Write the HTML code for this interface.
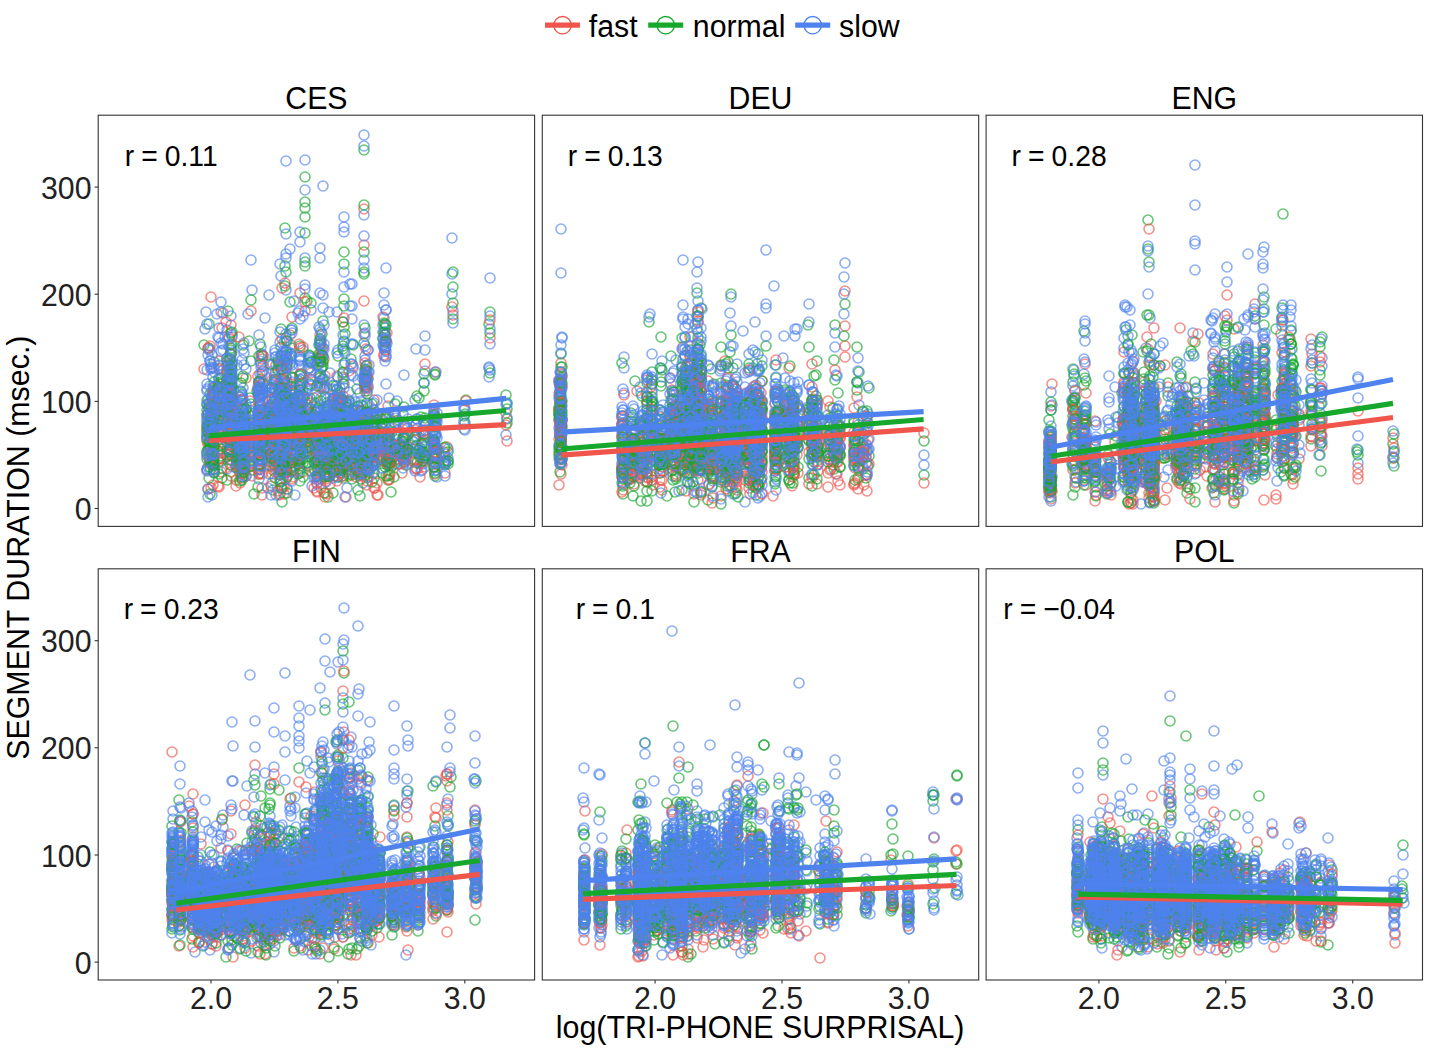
<!DOCTYPE html><html><head><meta charset="utf-8"><style>html,body{margin:0;padding:0;width:1429px;height:1053px;overflow:hidden;background:#fff}</style></head><body><svg width="1429" height="1053" viewBox="0 0 1429 1053" style="position:absolute;left:0;top:0">
<defs>
<marker id="mr" markerUnits="userSpaceOnUse" markerWidth="14" markerHeight="14" refX="7" refY="7" overflow="visible"><circle cx="7" cy="7" r="5.0" fill="none" stroke="#F0554C" stroke-opacity="0.65" stroke-width="1.6"/></marker>
<marker id="mg" markerUnits="userSpaceOnUse" markerWidth="14" markerHeight="14" refX="7" refY="7" overflow="visible"><circle cx="7" cy="7" r="5.0" fill="none" stroke="#16A82C" stroke-opacity="0.65" stroke-width="1.6"/></marker>
<marker id="mb" markerUnits="userSpaceOnUse" markerWidth="14" markerHeight="14" refX="7" refY="7" overflow="visible"><circle cx="7" cy="7" r="5.0" fill="none" stroke="#4E82EE" stroke-opacity="0.65" stroke-width="1.6"/></marker>
</defs>
<rect width="1429" height="1053" fill="#fff"/>
<text transform="translate(316.4,108.7) scale(1,1.045)" x="0" y="0" style="font-family:'Liberation Sans',sans-serif" font-size="30.3" text-anchor="middle" fill="#000">CES</text>
<clipPath id="cpCES"><rect x="98.2" y="115.2" width="436.4" height="411.2"/></clipPath>
<g clip-path="url(#cpCES)">
<path d="M282 488 287 400 340 397 400 447 273 432 292 416 259 414 259 453 298 416 330 438 358 452 232 363 326 420 335 462 272 437 386 341 374 400 290 335 280 494 367 442 363 456 362 417 219 461 281 391 349 476 287 450 286 350 237 406 214 457 321 488 435 372 324 458 280 439 231 472 341 463 261 355 352 430 367 440 353 439 353 439 259 416 318 473 283 429 388 476 303 420 214 426 275 375 294 470 424 431 367 478 260 405 242 478 300 429 280 399 231 403 311 380 368 440 279 405 231 476 230 431 340 443 272 474 259 427 273 410 218 441 263 371 287 439 221 458 307 424 223 313 336 413 343 439 231 425 321 479 391 458 327 418 361 447 434 445 293 428 405 454 394 461 273 440 367 481 339 450 213 411 367 439 243 433 444 452 259 460 283 436 299 448 307 418 366 380 237 458 334 404 326 481 372 466 423 452 367 427 318 456 240 457 297 425 287 440 320 428 321 459 303 347 280 437 240 473 446 460 307 427 259 407 236 424 230 414 365 391 356 477 282 430 250 455 434 455 281 416 281 408 283 424 259 419 260 448 279 438 398 454 374 488 278 423 435 467 281 420 261 452 262 424 367 437 321 343 361 424 260 443 283 454 329 435 385 350 368 378 342 465 259 432 262 495 259 417 342 457 260 449 342 443 326 461 230 453 207 470 299 413 349 457 232 420 281 421 227 424 390 474 287 389 363 449 259 402 434 446 219 395 324 444 299 429 211 488 452 307 212 417 453 315 278 440 258 447 334 427 210 460 406 436 262 424 389 434 333 421 371 436 279 447 258 468 400 452 339 437 318 450 402 457 387 441 271 412 384 355 294 466 408 428 287 463 415 430 229 339 242 437 388 464 292 446 229 337 340 459 300 453 352 449 293 461 236 480 326 423 368 434 362 473 222 442 300 422 227 451 246 476 351 444 330 415 284 473 287 382 293 417 284 422 382 451 282 472 209 450 243 425 279 419 259 440 318 438 262 417 396 447 260 431 219 487 286 437 259 433 342 425 222 468 282 463 334 439 284 424 334 399 303 442 304 433 362 410 355 451 388 406 281 429 262 488 326 449 242 421 243 466 385 350 284 457 317 492 424 434 395 412 361 457 303 398 214 437 286 466 333 473 363 427 343 403 232 431 279 465 230 449 284 379 204 369 244 432 338 467 222 384 230 437 281 412 284 494 365 379 281 432 359 470 364 209 280 417 287 368 324 441 240 424 298 464 260 405 336 462 382 461 374 449 275 422 293 442 283 409 219 421 210 446 387 333 244 466 275 436 279 474 380 456 259 460 294 441 361 473 342 453 271 462 283 465 243 422 207 441 210 434 213 485 283 396 287 388 243 459 292 449 334 449 425 467 353 464 341 447 352 455 259 451 343 437 213 416 287 416 311 373 300 387 286 425 362 446 262 359 389 417 314 470 231 405 300 403 251 433 246 378 243 461 260 444 243 431 272 428 355 462 237 445 272 443 292 391 374 462 357 451 363 451 258 461 338 443 299 459 325 376 404 448 243 452 260 473 251 311 380 458 272 400 286 440 339 452 259 395 398 448 324 424 303 428 353 366 314 398 434 459 360 428 307 421 284 424 243 440 352 452 243 437 434 445 221 472 300 410 445 473 242 434 252 442 298 446 244 448 214 472 252 476 339 453 260 381 275 397 340 414 382 444 385 439 392 460 402 473 232 429 251 442 303 383 326 467 243 413 231 445 222 431 340 465 299 435 367 464 312 449 307 405 362 465 300 446 346 457 314 455 336 459 232 442 321 437 275 456 251 442 406 460 218 434 287 423 271 412 343 447 321 473 361 460 342 420 218 421 259 395 251 446 324 359 275 451 344 384 320 450 278 468 333 425 280 475 433 443 330 484 363 430 321 427 293 422 298 414 251 452 281 444 320 451 275 469 207 426 361 475 294 425 377 458 324 493 288 446 299 461 365 375 490 338 321 456 327 436 240 444 326 466 362 440 283 469 207 430 311 442 293 402 229 410 273 430 260 465 337 376 300 438 321 419 236 437 270 406 349 434 278 446 355 416 269 461 273 470 320 335 222 328 259 439 212 454 214 436 251 439 317 491 365 385 368 386 342 439 282 442 390 463 282 442 240 434 404 462 230 360 314 434 374 455 287 430 300 416 339 439 280 398 341 415 275 449 364 334 299 419 353 457 434 454 362 464 275 412 231 325 258 461 361 460 284 433 317 477 359 445 318 471 343 447 437 418 279 455 218 439 299 415 278 430 371 452 237 449 243 446 242 449 368 441 300 456 425 430 282 459 285 434 300 432 251 456 281 442 230 433 315 452 227 381 336 438 352 466 270 425 369 473 374 473 339 447 368 417 251 460 278 491 357 446 317 428 230 410" fill="none" stroke="none" marker-start="url(#mr)" marker-mid="url(#mr)" marker-end="url(#mr)"/>
<path d="M242 449 260 431 227 372 230 376 300 452 228 365 274 380 390 441 270 457 326 474 342 438 357 447 218 446 373 422 258 417 210 394 434 441 339 397 342 446 262 440 318 458 293 429 251 466 343 433 232 412 321 368 308 466 422 443 314 419 300 430 212 452 368 434 448 452 241 440 383 339 227 389 360 448 343 434 360 413 209 408 240 468 299 439 420 448 208 400 243 436 339 445 310 398 236 450 259 432 209 427 373 454 303 456 262 426 259 431 340 454 226 386 293 428 342 469 262 460 287 365 328 497 303 396 240 397 465 423 342 437 287 428 242 461 333 458 299 438 367 429 363 428 281 436 315 429 262 355 281 456 284 410 281 428 506 395 371 431 241 461 232 332 300 462 288 408 340 443 374 445 273 452 251 464 230 390 237 468 339 450 368 446 415 440 404 454 287 425 361 450 219 412 386 460 294 412 286 468 283 430 339 426 358 468 315 447 336 413 320 341 361 449 397 436 368 453 287 459 357 452 274 464 374 425 207 459 230 449 251 458 465 414 367 436 284 459 309 368 221 419 435 456 244 462 287 402 378 441 287 409 242 451 251 439 385 436 301 374 434 444 327 409 387 455 415 448 292 431 286 421 284 388 417 445 338 448 250 453 362 443 261 379 378 442 242 394 270 418 377 428 251 440 288 405 405 462 357 432 252 470 281 432 287 432 343 478 324 389 219 462 290 302 270 393 292 471 342 427 231 348 363 448 343 415 273 444 214 469 293 436 300 376 252 453 231 398 214 391 231 428 343 384 404 458 317 450 284 407 218 421 231 410 333 493 416 425 311 437 353 418 292 419 300 375 218 407 270 466 340 449 380 451 287 424 343 372 334 420 294 444 219 396 339 447 284 442 218 402 352 423 284 441 263 443 231 345 212 398 323 379 244 416 355 446 347 439 300 473 347 417 357 410 365 371 367 436 232 386 281 406 274 382 242 463 283 435 294 433 227 387 319 361 425 458 209 324 292 348 390 465 362 467 388 452 404 460 219 409 386 451 260 436 421 417 287 398 307 426 343 476 317 447 207 410 284 381 353 449 349 421 244 445 214 424 260 412 214 403 367 442 387 461 242 442 208 426 334 447 394 457 260 445 329 423 335 449 326 464 286 459 371 435 294 438 315 460 213 394 221 378 218 451 435 448 308 438 240 415 319 345 231 408 388 447 231 373 421 453 355 432 242 409 327 412 284 431 362 449 388 480 259 435 345 363 342 421 298 432 367 466 272 417 228 412 294 399 222 478 292 456 231 350 258 487 358 432 340 473 340 443 368 436 227 427 326 447 273 430 303 463 343 373 328 415 425 452 310 356 299 458 282 463 213 452 398 420 275 446 367 448 231 419 227 410 292 454 273 490 272 404 292 390 219 433 249 341 358 452 278 448 351 359 363 439 358 456 204 345 326 465 209 478 281 466 337 454 227 436 414 453 315 403 355 450 341 412 298 438 356 439 300 346 330 425 214 459 317 437 307 463 286 460 230 404 389 475 338 443 229 372 355 443 367 435 327 428 346 403 259 410 336 437 383 442 237 453 374 440 282 462 334 444 221 428 282 366 423 452 219 403 259 447 292 435 327 403 339 439 317 476 278 394 330 449 287 421 287 415 324 443 262 389 237 467 300 408 212 452 490 312 219 415 244 442 262 394 436 427 318 408 278 452 360 411 284 435 364 274 435 471 374 453 300 413 222 399 352 475 352 459 212 412 259 441 251 432 218 386 251 430 367 470 260 466 231 390 286 422 284 453 338 356 346 411 262 434 279 418 279 421 315 421 360 418 406 465 281 405 349 401 242 432 310 435 336 439 340 455 353 461 259 474 280 391 230 395 395 445 389 443 232 344 305 208 281 438 273 436 242 436 367 428 273 417 326 433 384 323 232 379 365 382 336 454 230 438 294 404 213 393 284 380 367 391 293 392 385 328 321 461 327 462 362 419 287 435 232 406 259 435 288 437 311 403 259 437 327 417 318 476 314 433 343 453 389 451 307 301 489 324 303 395 361 405 330 465 322 334 368 424 244 408 237 448 230 428 298 431 279 463 283 433 343 377 324 436 340 429 311 471 219 433 368 414 326 463 300 408 305 177 388 463 374 478 335 435 284 437 434 462 328 415 230 403 209 348 367 466 311 429 298 428 283 459 243 461 284 412 328 422 344 252 363 452 229 418 340 432 311 436 349 450 237 431 294 424 258 447 259 464 243 345 214 422 355 443 281 445 228 311 274 417 221 384 335 451 391 492 242 419 343 451 333 414 276 381 305 298 361 464 251 453 273 435 337 390 242 431 262 383 287 363 270 448 231 418 232 428 423 459 222 411 260 465 342 427 340 448 466 400 281 396 326 462 362 475 369 445 292 407 287 489 213 422 278 430 214 362 281 425 280 401 283 431 281 482 229 386 210 442 349 433 281 450 338 398 389 453 209 430 299 381 325 420 325 493 293 438 281 414 448 461 237 462 214 464 250 398 407 449 274 459 284 424 237 443 368 447 307 451 339 446 294 445 434 456 343 428 243 447 272 424 403 441 294 402 335 464 261 420 210 430 259 441 286 408 385 417 363 427 343 425 251 429 334 421 424 383 230 434 507 419 374 465 368 431 293 438 435 476 281 427 358 443 444 448 218 410 377 449 365 379 259 382 352 410 292 453 221 449 243 438 360 431 281 347 286 272 300 481 403 446 366 387 419 398 385 348 349 402 269 414 210 442 365 381 273 435 434 427 435 374 343 467 387 465 240 421 236 427 231 416 229 414 286 472 367 413 272 388 237 454 286 338 311 362 232 439 300 430" fill="none" stroke="none" marker-start="url(#mg)" marker-mid="url(#mg)" marker-end="url(#mg)"/>
<path d="M293 411 365 383 300 416 327 459 351 344 242 427 222 434 231 437 347 488 282 353 330 476 241 391 321 433 295 495 284 399 211 463 280 432 279 364 244 427 214 414 221 395 330 373 312 422 283 383 300 417 405 426 327 422 214 429 208 349 252 444 318 454 280 404 404 459 330 460 346 402 219 338 292 467 287 420 321 419 368 424 211 450 275 433 363 406 311 436 242 360 275 393 415 469 385 344 299 439 262 354 386 268 281 434 317 358 404 444 272 385 349 400 347 414 350 284 361 401 374 450 303 350 230 396 453 311 396 418 437 477 260 427 285 443 326 429 383 338 281 419 244 444 282 419 333 398 389 450 388 444 321 347 281 466 343 442 365 360 404 452 252 415 374 423 280 418 272 483 283 441 365 376 352 459 321 431 284 439 345 353 384 345 403 454 419 434 299 443 275 373 300 232 299 390 258 395 327 411 210 386 422 470 232 352 213 377 367 444 344 379 364 215 321 420 465 430 400 446 489 368 435 417 281 467 210 361 318 365 335 470 246 476 404 437 324 439 257 436 294 393 323 308 291 330 209 433 230 385 299 423 392 451 259 413 356 441 365 383 300 399 214 472 344 287 362 416 299 365 437 438 339 425 339 399 284 412 207 391 425 430 318 438 287 408 251 435 280 427 300 383 318 435 389 398 339 432 237 420 373 458 211 419 298 397 327 443 287 445 445 461 315 412 350 419 368 462 300 438 227 388 294 416 368 452 286 341 300 379 245 456 337 405 365 356 367 438 323 356 380 442 424 442 338 395 241 423 425 446 298 432 292 414 251 454 337 438 299 401 343 443 240 406 404 427 368 443 278 434 368 464 275 412 358 440 287 441 339 424 424 425 436 421 242 449 367 444 244 439 395 464 229 452 349 417 388 413 327 439 283 369 230 410 298 447 326 464 275 435 318 443 338 400 374 403 326 450 287 418 218 405 344 272 212 398 242 474 363 438 275 454 251 442 213 460 324 408 383 345 259 421 367 381 325 433 397 401 206 312 251 461 390 452 310 431 404 425 293 425 414 442 280 440 291 345 378 458 276 418 326 462 374 411 243 388 287 358 383 325 281 480 286 290 292 388 287 461 218 337 404 459 292 408 362 437 362 420 374 418 340 471 214 469 346 407 317 443 260 436 298 417 287 419 273 364 279 409 275 414 346 467 270 454 384 305 349 429 406 457 242 401 317 397 445 476 320 478 371 453 214 416 437 413 229 445 244 343 340 414 241 425 385 424 227 469 282 430 387 417 416 349 506 435 327 429 338 454 251 422 230 430 273 443 395 415 231 381 220 432 287 415 293 432 328 420 284 432 344 351 262 394 343 401 374 452 284 395 207 370 303 431 298 400 240 456 343 442 352 458 310 368 386 340 280 342 284 457 373 454 262 413 271 422 230 459 260 386 242 432 361 437 237 422 207 469 259 447 287 453 242 440 259 394 464 421 355 435 272 417 260 399 263 356 227 358 244 365 293 449 258 390 329 467 305 190 223 344 364 325 286 445 338 424 221 351 415 449 262 429 280 469 222 414 300 361 214 394 489 377 276 357 240 462 275 411 318 455 285 417 338 442 403 414 244 415 367 442 326 452 251 260 298 425 320 418 377 413 320 359 259 462 209 404 275 379 292 330 280 417 372 446 242 395 334 476 312 486 327 430 299 416 236 442 259 391 363 483 383 429 489 367 353 427 278 359 357 422 268 488 351 375 336 458 372 463 252 290 339 431 207 415 293 436 231 397 261 419 333 399 237 462 326 457 244 353 349 450 214 445 364 135 287 452 284 472 244 441 340 451 300 357 365 374 368 350 285 407 353 446 244 443 280 396 271 460 340 450 290 364 367 417 333 389 434 442 251 438 284 398 286 452 320 361 340 419 435 425 213 441 423 456 363 454 305 160 435 470 344 388 357 439 333 478 230 354 221 312 336 416 424 447 269 295 275 353 436 436 425 459 232 413 243 477 237 451 237 365 281 423 347 444 273 438 259 438 339 422 424 383 219 365 273 418 237 444 340 402 434 442 434 417 340 392 252 430 398 430 273 453 258 441 260 410 317 484 251 407 230 400 242 446 421 471 281 447 231 366 273 439 298 416 404 464 259 429 339 422 262 410 210 425 381 450 283 402 213 428 227 457 324 417 394 414 295 390 378 431 299 415 241 420 243 399 231 442 208 417 230 398 355 411 309 357 315 477 227 383 324 437 334 452 259 407 305 289 352 306 292 428 325 452 205 329 251 444 208 467 260 397 416 436 212 441 207 324 317 412 367 394 207 454 307 388 395 456 231 402 241 417 300 357 282 439 260 430 210 361 374 461 292 427 212 495 424 455 213 413 225 337 362 436 362 452 287 437 242 429 342 470 333 434 260 450 311 409 214 440 293 428 219 383 284 446 338 401 246 422 334 413 404 462 281 428 259 447 287 447 324 431 357 451 383 416 329 434 292 365 327 452 310 358 242 432 243 451 242 430 407 448 229 360 286 417 207 436 303 415 212 416 284 382 232 335 445 454 437 422 444 462 318 444 213 439 318 383 271 454 213 411 353 435 283 394 275 389 270 442 261 364 242 437 465 409 349 472 363 430 397 435 286 359 349 404 373 460 368 379 415 400 395 436 322 387 293 368 214 419 273 459 281 431 390 462 309 360 281 455 425 435 386 310 298 430 281 471 360 442 214 463 230 393 307 413 303 418 320 386 421 463 365 346 365 369 374 437 327 454 358 458 415 460 281 407 298 313 258 450 342 418 311 428 327 452 362 473 229 455 294 398 273 422 303 393 436 464 284 449 259 414 352 467 321 355 320 376 338 350 227 404 367 453 260 374 230 449 291 356 242 448 260 442 292 472 240 453 278 395 275 442 242 424 433 441 369 463 374 451 339 422 303 428 275 377 336 445 358 406 251 424 452 274 346 459 372 447 221 406 230 408 367 445 445 461 327 451 362 442 280 264 435 435 320 421 300 437 369 372 464 410 351 458 284 384 271 365 385 347 355 421 242 454 337 312 290 249 217 314 240 421 303 414 207 421 361 443 286 435 212 465 365 387 320 342 434 412 361 470 214 470 286 411 231 413 273 413 368 372 445 457 434 416 362 435 320 329 262 452 436 434 303 453 334 412 338 402 251 447 317 438 282 429 281 417 327 408 318 408 334 456 330 464 339 438 425 371 310 447 286 436 343 420 286 378 232 443 281 406 300 428 298 434 210 421 360 393 317 480 327 447 270 435 423 464 383 332 272 445 300 446 275 414 408 419 275 411 285 393 323 357 357 435 445 463 286 408 362 434 283 395 261 347 210 422 242 405 338 435 237 437 282 404 280 460 284 452 265 318 294 443 243 437 292 333 321 463 231 367 327 440 374 431 213 412 279 436 318 422 227 366 285 367 232 337 434 444 293 438 434 409 262 374 281 442 284 389 307 463 300 425 231 423 364 260 349 411 363 379 242 447 295 432 259 421 452 294 385 347 308 369 464 407 211 369 280 430 363 473 385 332 361 412 327 411 365 388 284 342 218 419 229 398 219 425 214 431 219 368 311 385 339 460 231 431 278 394 271 426 307 415 299 420 300 432 349 392 445 465 284 424 337 427 303 438 242 399 374 433 275 446 417 453 258 431 435 432 280 475 362 420 353 368 326 450 237 446 243 439 367 449 208 355 212 399 286 479 305 258 242 400 404 436 387 343 213 429 351 364 210 417 384 318 330 428 334 434 259 459 286 420 260 423 318 436" fill="none" stroke="none" marker-start="url(#mb)" marker-mid="url(#mb)" marker-end="url(#mb)"/>
<path d="M364 245 343 459 294 440 466 401 388 452 294 445 287 472 270 450 276 365 229 409 386 439 386 341 212 453 244 454 244 470 398 423 340 460 415 440 282 426 434 449 287 382 292 384 355 448 293 409 270 390 346 438 279 410 287 427 343 434 506 425 211 297 507 441 373 455 300 455 337 463 327 457 242 465 231 397 298 428 272 399 273 447 357 463 317 451 368 443 246 453 260 382 258 387 367 439 241 419 367 427 244 441 218 417 403 451 361 429 386 447 337 459 211 409 372 448 260 444 339 436 231 354 327 465 318 461 214 388 374 447 280 448 367 461 211 437 314 488 320 387 219 369 231 394 273 432 357 453 325 497 231 426 287 466 280 445 261 454 317 483 371 446 251 440 262 429 377 495 251 416 279 461 330 425 263 421 337 481 344 318 365 363 367 447 208 348 229 402 214 429 241 453 342 476 281 428 214 429 281 458 300 348 435 452 269 432 339 431 389 480 259 470 284 462 280 447 240 434 213 392 300 374 320 362 368 441 327 494 294 419 367 376 340 440 231 426 373 426 231 435 284 446 282 370 208 489 350 425 303 426 259 390 346 461 367 467 435 463 384 356 434 405 366 388 279 439 333 401 244 458 355 467 380 458 349 452 263 356 327 455 400 464 287 415 337 470 259 449 281 379 293 477 210 437 241 467 447 447 352 434 292 424 219 436 417 469 260 415 300 443 294 452 292 317 307 411 377 455 242 472 381 428 210 430 208 414 324 460 259 432 360 423 417 460 385 335 242 466 250 401 272 433 327 444 436 453 237 422 227 428 294 459 315 416 252 448 218 486 273 411 214 446 490 320 311 379 244 417 232 396 284 487 284 415 244 447 305 302 327 388 364 301 396 436 287 442 398 451 423 432 339 440 298 460 237 465 342 469 285 283 242 445 398 464 434 414 355 441 397 459 208 444 315 441 241 448 361 438 220 403 274 430 214 411 284 468 343 431 303 433 336 438 287 463 389 434 275 472 363 457 352 467 311 445 416 468 210 405 226 322 321 353 287 427 219 388 227 370 363 416 251 442 251 429 327 475 244 473 330 452 262 436 281 441 367 461 227 455 284 453 214 414 282 288 284 462 322 350 327 474 320 456 343 451 231 410 355 463 280 449 336 457 386 443 388 462 340 414 425 364 239 337 414 462 292 479 338 411 349 444 282 429 403 446 330 435 363 467 349 465 337 458 300 399 373 413 304 423 284 360 434 444 377 415 360 476 283 437 219 361 360 455 368 451 230 454 230 393 324 442 300 440 213 455 299 436 328 464 231 424 337 400 214 395 242 445 241 400 284 440 300 293 373 452 420 477 326 467 346 497 292 451 258 376 222 399 272 456 377 483 237 460 389 479 227 439 317 439 280 429 315 452 275 419 260 451 278 416 293 419 282 424 275 460 259 423 375 488 250 429 398 445 346 455 280 415 259 424 383 460 315 438 330 440 343 396 272 435 263 366 241 438 275 461 307 442 367 438 259 389 325 463 231 411 317 450 298 416 356 427 303 435 341 468 349 371 280 422 251 452 390 452 285 404 383 317 436 448 286 429 340 455 236 465 272 432 349 445 506 413 336 476 366 349 209 458 299 344 279 445 338 457 260 438 367 485 213 401 330 433 262 456 342 473 259 434 346 436 326 479 221 423 222 399 258 453 305 311 282 400 282 339 357 468 230 451 435 474 282 488 221 453 387 463 299 455 434 448 230 412 259 439 287 434 303 415 219 459 407 452 287 450 271 486 367 365 321 469 437 459 337 399 272 466 259 453 284 420 281 441 262 474 259 435 260 440 311 428 390 454 281 366 275 454 293 462 259 438 275 450 371 457 287 428 275 419 353 439 343 424 337 406 273 448 311 413 326 477 258 446 231 404 287 414 326 441 333 437 218 459 367 419 350 452 381 446 357 471 307 433 374 449 241 468 279 495 214 401 251 439 222 387 361 411 281 432 246 469 210 464 226 438 229 432 343 322 363 431 287 437 236 486 349 445 210 346 232 436 374 443 317 459 365 385 271 405 240 483 403 439 214 425 275 435 366 372 339 420 423 435 378 495 385 453 307 399 273 419 320 429 392 446 360 443 300 430 298 404 425 461 244 469 272 452 371 439 343 446 279 470 299 395 261 419 357 439 303 472 259 474 244 422 292 422 271 408 214 425 355 474 227 428 284 443 232 422 434 452 243 469 388 464 327 432 244 446 214 407 329 441 227 381 230 389 352 443 213 446 300 409 258 469 232 465 385 451 210 427 284 444 435 448 299 406 311 429 327 454 353 433 231 406 287 476 434 448 342 441 243 468 315 447 259 459 373 462 251 463 231 394 218 399 374 428 334 451 275 437 237 450 374 457 420 464 272 380 275 454" fill="none" stroke="none" marker-start="url(#mr)" marker-mid="url(#mr)" marker-end="url(#mr)"/>
<path d="M309 355 315 470 299 450 287 437 389 437 324 461 371 453 344 306 284 408 218 420 292 455 230 452 325 430 219 402 254 494 208 450 507 423 395 404 214 421 358 407 242 418 360 496 352 463 270 430 360 453 314 462 325 443 437 449 367 471 227 379 367 446 240 450 343 416 371 445 207 439 320 358 403 442 300 441 385 467 329 435 383 432 242 469 303 459 367 463 251 423 328 447 343 422 292 408 212 443 242 444 244 451 507 403 283 415 334 471 281 329 314 429 319 354 392 466 242 448 212 422 453 287 353 345 345 334 382 424 342 400 298 418 292 460 281 369 305 202 260 434 334 417 310 384 337 456 361 429 278 362 221 456 352 445 287 423 259 382 208 424 367 427 339 453 352 447 363 451 327 436 208 433 338 426 303 437 258 444 365 328 259 447 293 409 273 438 300 425 300 412 326 469 214 448 464 416 242 422 364 150 214 436 426 455 283 456 338 452 363 456 307 434 214 473 281 457 299 420 357 453 213 461 275 412 218 389 293 399 305 262 361 429 300 386 337 447 328 461 363 433 298 435 423 461 231 387 246 416 308 433 368 449 212 423 425 425 207 404 260 455 287 440 231 374 259 465 231 415 232 365 349 444 367 441 288 439 293 429 311 362 287 493 357 431 275 439 303 416 292 395 408 435 307 434 243 410 231 381 284 430 212 406 303 477 303 453 242 424 207 431 287 477 352 446 343 426 326 444 293 434 352 479 325 452 251 432 424 391 240 433 364 272 362 467 299 411 318 464 371 446 242 458 386 476 231 397 275 455 300 411 300 390 244 469 419 454 242 441 242 477 258 433 328 406 344 327 434 467 343 442 285 286 221 411 214 446 284 440 344 299 403 438 305 217 404 438 366 370 339 409 287 399 287 341 221 445 262 445 287 444 425 418 366 366 284 463 358 438 321 443 242 464 320 345 292 420 305 233 222 421 336 430 361 479 240 456 453 272 445 447 280 415 280 399 363 460 357 447 230 427 445 464 259 356 338 456 209 407 241 424 218 424 337 449 390 447 280 459 219 408 320 378 231 368 231 333 286 416 363 464 259 382 317 442 281 440 300 452 343 349 303 434 251 447 382 419 349 454 327 444 218 387 317 460 327 439 318 445 404 407 210 449 259 420 338 456 448 461 435 473 241 383 270 407 330 444 282 440 362 440 242 432 300 418 388 443 346 435 347 430 390 463 213 424 405 438 240 458 275 461 358 460 240 425 284 395 270 454 317 434 389 458 285 228 273 417 242 445 241 443 389 430 244 428 237 421 315 419 417 463 322 355 281 453 372 482 240 416 231 377 218 394 260 438 231 431 251 404 298 461 407 450 270 433 211 425 320 339 274 407 355 445 395 448 358 490 435 419 507 409 209 442 311 434 308 446 281 469 260 344 273 417 434 440 245 464 284 461 424 434 279 439 246 409 229 406 334 425 232 456 355 442 298 396 386 419 358 439 221 382 260 439 281 426 257 391 246 409 280 481 453 319 213 441 407 449 326 431 324 442 394 477 270 364 425 456 292 328 259 444 292 463 392 432 317 467 260 418 326 441 210 461 434 467 244 472 286 356 287 470 448 464 360 472 300 405 307 452 212 439 231 354 325 475 272 429 325 397 307 416 211 417 213 460 329 421 229 397 272 388 287 434 490 373 367 437 260 455 222 406 260 436 251 466 327 464 362 452 346 457 385 324 227 480 281 424 283 464 227 361 334 458 300 427 219 474 281 432 287 423 281 356 327 476 294 424 415 437 340 470 338 461 244 448 300 451 281 488 364 205 251 435 353 458 292 444 260 438 419 450 287 428 385 342 339 457 364 252 300 443 305 266 299 431 422 445 349 474 273 413 300 406 282 502 424 374 209 426 435 375 434 415 214 465 433 441 395 449 284 424 384 333 300 466 322 367 307 409 317 386 230 460 434 459 219 397 374 428 364 343 272 416 291 354 211 424 259 447 374 422 281 447 262 423 285 398 275 478 339 454 280 447 287 428 271 458 340 452 232 378 336 386 237 436 281 419 321 401 281 420 214 382 343 346 337 443 349 432 230 388 287 419 278 370 317 445 273 434 282 415 343 468 371 414 386 325 408 450 403 447 303 424 314 415 367 432 232 370 287 436 343 442 417 396 299 450 330 447 344 342 299 427 251 300 243 458 374 461 349 443 404 454 236 443 281 420 339 420 237 424 382 438 371 456 243 421 349 417 231 400 343 322 382 473 282 387 357 389 240 449 363 449 385 335 287 425 280 388 329 428 374 465 490 333 339 451 355 446 213 465 280 422 307 448 357 454 434 457 321 362 227 409 366 378 303 449 333 451 339 469 387 462 346 466 240 481 342 434 318 420 400 453 243 378 251 361 230 450 270 417 285 266 210 467 453 303 311 433 340 416 270 433 377 420 241 448 242 480 210 494 388 436 259 436 372 404 343 450 287 410 344 264 210 426 334 454 282 447 271 439 237 458 333 386 347 469 258 450 259 459 346 407 212 422 327 432 378 433 368 412 208 413 420 457 338 477 286 404 339 414 219 379 327 467 367 403 363 424 311 418 231 421 327 437 338 428 407 453 311 303 244 453 352 457 326 424 207 451 369 436 244 451 325 477 342 424 232 389 323 321 287 403 230 465 275 417 323 362 281 471 283 428 367 446 333 420 315 463 322 380 292 377 337 428 259 455 339 403 298 474 339 447 323 366 230 440 243 433 259 430 395 448 358 423 279 403 229 451 282 418 314 445 207 427 270 448 242 425 342 421 436 426 343 454 327 446 336 443 230 359 293 378 243 376 318 410 300 469 329 476 326 437" fill="none" stroke="none" marker-start="url(#mg)" marker-mid="url(#mg)" marker-end="url(#mg)"/>
<path d="M352 453 260 437 283 374 207 423 271 495 295 431 374 424 299 440 339 433 273 405 273 454 339 432 251 420 368 414 292 456 346 442 311 370 346 428 382 448 303 426 311 386 384 293 271 392 208 427 244 450 357 438 227 395 207 456 212 368 317 449 299 421 275 388 343 444 287 437 230 372 384 348 230 451 433 432 358 431 422 456 243 349 490 344 336 421 221 407 310 452 282 442 287 352 244 425 434 448 321 340 229 346 242 452 434 430 363 418 274 390 377 447 294 390 261 390 241 431 374 416 232 382 362 421 281 420 338 432 366 373 421 431 281 427 208 489 371 425 286 234 434 439 287 429 425 421 237 415 210 409 292 450 300 424 287 395 274 409 246 369 288 413 259 383 320 453 334 450 280 426 207 434 281 413 271 405 415 471 343 445 325 431 246 404 343 421 341 453 281 467 269 452 335 419 373 453 346 449 276 495 259 410 318 416 211 453 320 459 506 404 219 392 317 428 333 448 403 457 372 448 350 417 279 384 318 442 207 437 231 403 299 457 317 430 364 146 333 385 319 327 280 406 434 445 287 361 270 428 357 474 374 449 352 423 435 446 364 236 347 405 355 430 434 414 284 439 358 427 333 399 244 434 299 395 242 411 350 414 218 393 321 398 333 429 273 402 355 444 367 468 338 377 329 413 326 482 210 415 327 399 340 403 307 429 330 416 286 352 311 310 258 413 280 453 242 467 357 448 241 403 207 471 358 453 207 389 221 434 214 387 386 432 490 370 273 422 260 361 339 425 246 432 284 418 369 414 283 415 396 453 325 426 386 384 223 350 300 359 320 381 320 248 437 470 367 439 350 427 371 420 275 438 340 427 212 415 260 420 367 405 334 423 241 392 251 411 213 454 340 409 329 312 294 446 394 447 229 401 227 411 210 427 222 371 434 456 260 459 385 340 240 434 299 471 284 385 236 468 211 364 300 417 336 429 292 439 490 316 294 423 286 440 342 463 405 425 452 238 417 451 283 422 260 423 281 472 338 410 324 325 286 464 352 422 242 431 258 413 311 427 300 423 403 468 286 368 434 449 386 346 365 336 362 437 324 344 357 422 260 466 231 371 303 428 281 456 284 427 275 357 227 382 321 453 358 380 343 428 232 436 230 391 212 412 222 405 311 409 219 401 351 429 258 389 308 362 244 460 219 395 213 455 367 425 284 390 241 439 246 421 385 361 290 358 355 416 436 446 344 217 367 422 300 406 300 360 390 428 374 447 230 426 232 400 315 424 258 460 271 409 292 404 307 430 318 438 218 418 275 436 304 397 231 404 207 453 286 376 227 330 242 436 259 427 229 399 284 362 273 393 403 458 464 429 352 364 244 440 448 449 232 421 320 443 294 412 259 439 273 461 339 441 416 447 236 436 286 357 227 359 269 474 260 390 333 401 507 404 395 413 342 418 244 432 300 426 323 295 314 431 344 227 270 421 334 424 280 406 259 335 227 441 299 311 330 389 347 404 391 446 344 341 507 418 287 415 257 446 330 443 230 426 281 276 434 421 389 439 358 439 237 439 260 459 327 425 259 412 448 458 211 367 283 451 279 409 420 453 311 421 262 411 340 399 243 462 210 350 327 437 350 424 282 473 242 448 281 448 386 423 292 419 385 335 353 414 227 405 402 445 337 431 299 416 242 429 365 377 300 399 220 389 353 472 307 433 229 405 244 466 251 454 371 468 435 419 230 368 355 421 241 447 246 445 314 478 311 363 305 285 352 425 339 427 417 419 213 431 248 314 219 328 246 426 284 363 218 409 405 439 325 410 325 413 337 389 299 428 292 414 425 350 211 436 263 393 221 397 490 329 327 431 246 439 232 375 404 375 252 447 368 469 280 402 232 403 292 405 210 455 374 464 260 388 290 353 230 391 259 442 275 436 368 388 327 430 285 445 374 465 339 420 294 432 343 422 287 432 321 412 214 431 210 402 231 373 229 395 377 400 219 426 398 451 262 387 287 428 237 463 260 431 242 447 284 422 261 367 336 472 293 395 369 365 424 422 242 445 315 416 260 444 281 459 228 393 320 344 292 481 292 419 272 406 353 423 286 435 338 457 214 435 356 423 219 402 275 416 221 302 243 451 207 415 229 382 294 418 416 424 284 408 286 254 356 452 312 381 374 472 259 447 281 355 464 424 259 393 369 470 242 396 280 430 436 463 386 357 328 475 320 374 281 419 258 456 237 432 243 426 213 410 242 431 340 430 227 430 334 432 273 371 300 453 237 421 213 387 326 427 344 232 275 427 303 316 292 407 356 433 338 477 260 458 315 432 251 462 280 409 210 409 334 423 337 436 298 419 337 353 365 333 244 476 208 497 283 398 389 434 300 444 275 350 286 258 280 422 260 387 343 440 252 428 236 423 326 456 214 372 363 439 340 425 212 355 261 466 242 430 355 461 286 161 281 454 314 410 242 407 251 457 340 447 324 453 324 349 374 455 287 409 368 477 343 445 288 455 314 434 352 319 321 449 300 319 388 447 213 401 260 449 340 388 327 428 367 431 374 410 232 363 262 406 330 436 278 457 334 417 292 382 299 438 279 431 385 339 324 423 284 398 321 332 207 384 227 419 286 351 342 430 230 400 344 365 368 350 364 268 298 398 436 456 280 332 365 380 284 444 301 420 362 468 371 440 382 445 334 407 274 443 328 415 219 403 434 430 293 407 271 388 286 334 365 378 320 258 405 455 260 392 435 422 382 468 361 428 222 417 229 392 365 375 403 429 367 383 436 372 252 441 287 419 287 398 303 455 417 419 362 421 240 448 353 427 300 242 258 441 490 278 210 424 350 306 353 448 357 433 437 454 318 474 244 468 280 410 362 441 367 449 339 443 337 416 278 409 324 416 352 466 262 389 386 356 278 435 389 453 323 186 353 344 303 378 343 422 275 400 219 378 324 379 345 497 230 377 301 380 338 402 272 413 281 412 274 383 303 414 299 395 232 443 349 428 280 400 287 489 320 293 207 400 382 444 291 356 317 476 311 419 260 396 280 423 367 455 260 400 418 428 349 458 303 405 258 433 300 400 366 372 365 375 342 430 362 461 272 412 260 419 284 429 445 464 346 461 378 448 292 452 294 409 367 448 435 463 307 432 324 445 425 336 377 441 352 284 323 348 387 457 231 418 207 418 308 399 237 429 240 415 325 387 298 405 386 351 373 463 351 451 374 448 349 425 299 419 335 398 307 446 343 335 278 405 314 428 242 443 327 406 294 447 286 428 232 412 272 449 368 454 231 382 244 433 327 410 259 479 275 443 287 437 232 377 346 459 260 440 398 443 368 444 214 368 321 383 371 439 242 419 214 440 227 418 219 404 300 451 326 408 244 438 300 439 210 470 324 456 426 449 272 426 222 390 241 419 328 451 219 390 353 376 214 454 260 435 453 323 286 414 299 448 394 423 242 430 251 449 243 446 361 467 221 343 377 445 251 413 300 424 250 423 231 412 434 444 243 431 300 406 326 447 320 375 219 366 356 437 230 371 212 398 294 301 282 356 317 464 230 428 231 316 260 439 293 434 287 427 260 469 317 365 281 360 243 443 260 426 361 450 213 416 258 414 349 444 357 410 241 415 252 437 263 383 386 310 262 372 207 405 212 392 273 444 211 428 241 414 259 429 229 414 212 438 327 472 355 402 385 439 284 427 287 428 287 408 213 403 326 436 262 395 361 450 307 391 342 444 353 414 240 453 333 459 231 359 262 395 327 422" fill="none" stroke="none" marker-start="url(#mb)" marker-mid="url(#mb)" marker-end="url(#mb)"/>
</g>
<line x1="209" y1="440.5" x2="506.2" y2="424.7" stroke="#F0554C" stroke-width="5.2"/>
<line x1="209" y1="435.8" x2="506.2" y2="410.5" stroke="#16A82C" stroke-width="5.2"/>
<line x1="209" y1="427.5" x2="506.2" y2="398.4" stroke="#4E82EE" stroke-width="5.2"/>
<rect x="98.2" y="115.2" width="436.4" height="411.2" fill="none" stroke="#333" stroke-width="1.1"/>
<text transform="translate(171.2,165.6) scale(1,1.045)" x="0" y="0" style="font-family:'Liberation Sans',sans-serif" font-size="28.3" text-anchor="middle" fill="#000">r<tspan dx="7">=</tspan><tspan dx="7">0.11</tspan></text>
<line x1="94.6" y1="508.5" x2="98.2" y2="508.5" stroke="#333" stroke-width="1.1"/>
<text transform="translate(91.5,520.1) scale(1,1.045)" x="0" y="0" style="font-family:'Liberation Sans',sans-serif" font-size="30.3" text-anchor="end" fill="#222">0</text>
<line x1="94.6" y1="401.4" x2="98.2" y2="401.4" stroke="#333" stroke-width="1.1"/>
<text transform="translate(91.5,413.0) scale(1,1.045)" x="0" y="0" style="font-family:'Liberation Sans',sans-serif" font-size="30.3" text-anchor="end" fill="#222">100</text>
<line x1="94.6" y1="294.2" x2="98.2" y2="294.2" stroke="#333" stroke-width="1.1"/>
<text transform="translate(91.5,305.8) scale(1,1.045)" x="0" y="0" style="font-family:'Liberation Sans',sans-serif" font-size="30.3" text-anchor="end" fill="#222">200</text>
<line x1="94.6" y1="187.1" x2="98.2" y2="187.1" stroke="#333" stroke-width="1.1"/>
<text transform="translate(91.5,198.7) scale(1,1.045)" x="0" y="0" style="font-family:'Liberation Sans',sans-serif" font-size="30.3" text-anchor="end" fill="#222">300</text>
<text transform="translate(760.5,108.7) scale(1,1.045)" x="0" y="0" style="font-family:'Liberation Sans',sans-serif" font-size="30.3" text-anchor="middle" fill="#000">DEU</text>
<clipPath id="cpDEU"><rect x="542.3" y="115.2" width="436.4" height="411.2"/></clipPath>
<g clip-path="url(#cpDEU)">
<path d="M736 475 721 430 775 404 694 432 726 409 745 432 858 489 732 471 685 415 755 420 817 445 628 463 749 439 868 440 758 422 640 457 736 409 727 454 683 456 698 450 641 473 725 472 694 494 845 326 675 435 694 425 829 459 694 391 631 479 721 456 708 469 642 467 749 445 775 452 685 453 755 451 677 441 647 482 755 442 737 420 687 424 641 441 830 470 798 422 690 416 671 471 683 417 762 429 775 444 728 437 786 395 855 460 698 343 701 464 677 426 854 432 745 426 840 455 758 412 652 477 701 420 728 440 690 470 812 424 759 420 622 471 793 405 690 443 701 495 814 449 623 460 725 361 674 395 858 457 749 477 830 449 641 442 687 436 749 488 794 418 697 461 652 441 845 357 725 453 789 431 725 456 670 378 560 432 755 466 687 390 663 459 834 454 714 457 737 455 671 419 728 449 864 447 731 414 863 456 725 429 813 399 673 460 840 426 791 463 754 438 694 403 755 445 635 429 776 360 683 444 834 462 779 462 753 459 701 390 713 450 687 387 790 445 701 415 726 396 634 459 775 434 736 405 857 397 647 457 758 455 746 439 812 400 725 462 733 425 701 378 701 445 559 380 750 429 792 457 855 483 759 485 694 457 756 439 728 433 732 424 687 384 660 435 732 431 562 420 561 363 561 432 733 468 623 490 708 467 733 463 635 449 562 420 755 455 755 419 676 405 725 430 683 418 690 430 753 425 721 438 789 421 698 360 818 453 622 466 623 451 562 425 809 426 828 455 561 474 721 478 640 427 775 423 685 446 701 426 685 429 733 452 687 445 701 431 660 449 776 459 793 450 864 430 732 434 690 357 725 412 713 440 793 468 791 447 623 459 746 459 728 432 622 469 697 450 733 457 721 366 701 440 762 442 737 443 663 442 562 377 758 457 671 432 713 441 690 398 755 450 721 432 730 418 776 460 694 427 858 461 713 448 730 415 745 440 713 459 688 465 727 429 834 449 854 453 789 421 775 471 637 391 737 401 622 477 855 456 673 447 698 388 775 418 641 443 690 337 750 427 775 441 750 434 752 390 660 457 561 442 685 461 628 475 560 458 733 416 712 503 749 435 730 425 854 484 708 381 762 381 730 467 775 420 623 469 755 448 867 445 755 436 737 428 726 458 671 464 749 454 818 452 687 418 745 425 647 397 753 429 737 472 854 485 759 419 745 467 663 458 728 437 683 347 674 463 686 491 671 435 746 441 560 380 647 446 735 451 641 466 736 473 749 480 797 443 722 469 561 437 813 432 652 441 643 436 828 401 752 424 662 453 623 453 660 487 561 423 726 418 753 467 688 442 694 454 686 374 830 407 869 464 662 490 698 434 690 457 733 426 642 472 733 460 792 433 775 391 837 450 838 437 674 436 663 471 785 412 690 413 785 435 725 450 695 422 713 476 720 409 789 448 858 432 858 466 754 440 712 476 755 473 793 433 789 430 725 482 759 454 651 387 778 402 675 423 561 408 685 391 695 455 713 469 755 450 701 458 754 408 752 452 709 454 652 402 797 443 773 496 662 451 559 409 745 465 756 461 652 434 748 428 694 393 730 430 753 455 673 413 690 355 709 455 694 419 789 404 733 449 622 448 750 420 750 425 750 465 814 435 694 389 733 447 840 430 708 461 628 457 754 466 759 467 745 448 693 407 834 448 686 439 757 394 732 452 829 427 758 452 863 440 749 438 812 444 733 444 746 469 840 485 733 410 560 391 753 417 633 447 793 445 755 434 701 458 687 446 755 475 685 412 559 485 676 423 647 392 866 475 840 427 623 464 709 449 640 448 697 417 828 433 779 430 713 455 762 472 745 434 559 439 755 411 690 404 635 456 749 403 721 436 687 434 817 404 863 447 750 413 560 448 713 443 735 428 750 420 561 443 837 462 733 430 746 459 676 426 794 398 812 443 561 407 697 378 687 399 730 450 725 438 794 474 792 434 725 445 752 422 755 434 660 473 690 406 691 401 561 430 759 433 733 435 812 442 697 407 759 442 688 429 755 471 833 465 672 390 622 425 673 431 662 451 858 462 701 440 690 391 647 454 648 419 792 416 721 451 652 384 647 380 642 456 700 452 812 415 622 468 745 427 682 418 674 443 746 420 798 473 776 442 812 416 720 442 749 434 733 439 676 455 652 424 814 448 698 412 733 423 673 399 694 401 745 418 698 411 623 467 722 443 775 419 687 445 712 430 733 424 838 462 761 481 694 470 686 378 560 460 775 461 750 463 623 458 701 463 761 400 778 437 775 442 677 433 754 419 759 434 845 291 755 440 791 439 759 401 775 456 753 469 750 494 737 447 560 417 694 439 756 445 722 438 694 396 737 435 735 425 813 437 817 484 759 451 792 486 828 473 634 484 730 450 685 356 812 421 709 404 754 440 775 450 759 439 685 375 755 441 730 473 759 470 725 468 748 464 673 418" fill="none" stroke="none" marker-start="url(#mr)" marker-mid="url(#mr)" marker-end="url(#mr)"/>
<path d="M631 413 786 432 632 465 834 360 677 409 746 457 697 407 622 416 721 347 642 429 688 396 701 407 758 436 758 409 694 393 778 456 814 431 790 438 633 496 816 396 736 409 791 418 687 406 837 430 675 444 698 452 690 473 701 401 836 444 750 478 755 427 694 422 635 443 640 452 663 427 697 425 660 441 790 438 660 473 749 410 792 411 790 472 756 389 709 422 746 438 560 418 694 415 674 414 789 480 694 464 756 475 728 368 778 431 676 430 561 421 697 389 676 479 762 409 762 430 722 480 673 445 647 437 674 446 775 445 688 422 776 398 726 471 701 380 673 411 830 453 560 386 721 421 776 378 725 409 737 453 725 414 756 439 634 446 749 424 683 469 682 461 753 416 660 441 854 440 708 439 693 420 698 461 749 483 560 395 560 445 643 471 749 453 809 430 759 472 697 386 727 454 721 383 663 464 736 440 759 370 698 380 762 451 737 442 775 468 712 474 652 380 697 316 652 407 660 410 682 454 728 404 778 447 818 452 647 501 727 417 561 432 750 402 735 479 869 456 671 436 834 469 675 412 675 450 560 396 713 425 685 458 701 391 778 436 701 391 694 454 753 481 698 473 622 470 775 432 748 450 725 478 761 407 709 413 690 382 809 409 789 445 732 452 709 425 730 455 813 453 730 398 727 434 812 433 840 434 694 430 701 431 640 464 814 401 623 486 682 429 746 411 683 399 794 448 829 424 725 429 647 383 779 452 754 423 690 423 726 436 859 470 694 448 687 430 727 405 754 451 694 502 652 421 721 447 735 441 708 444 737 414 682 440 859 448 652 428 694 392 694 431 713 436 756 486 758 429 759 465 690 440 690 390 561 406 854 423 755 477 726 429 663 441 721 461 737 432 667 496 713 462 708 395 813 407 757 455 688 468 798 467 750 481 785 392 734 441 761 405 755 411 633 458 812 401 561 440 560 384 701 428 690 422 640 421 712 476 631 448 697 385 733 396 632 446 816 443 663 439 818 446 660 461 559 408 758 401 793 449 817 449 560 436 694 437 753 408 697 293 698 424 635 430 682 433 632 476 816 375 789 444 701 370 561 367 661 386 685 385 761 420 785 419 733 435 700 460 745 411 622 483 748 435 721 402 687 397 814 462 728 387 700 443 725 415 629 454 755 457 776 435 560 422 562 367 755 445 756 444 814 430 730 456 682 490 789 424 721 446 709 405 701 421 725 418 834 448 648 416 697 464 728 491 745 430 635 465 736 396 687 432 709 452 817 453 647 444 728 443 761 462 701 435 623 457 560 435 745 463 694 435 647 452 749 429 731 294 653 404 816 424 789 425 817 361 745 417 701 407 628 480 738 420 647 431 792 413 622 426 755 436 652 384 663 446 830 418 753 479 775 482 560 424 725 442 701 373 683 422 793 448 694 442 785 413 749 444 701 437 727 486 834 455 651 415 623 423 735 443 733 368 857 347 623 450 736 414 759 468 694 393 693 398 775 458 745 420 698 338 762 381 698 397 776 458 809 478 694 391 794 475 712 420 726 385 698 386 698 429 652 411 632 454 745 457 794 452 834 416 732 413 809 425 785 430 701 470 726 436 855 443 652 462 814 376 730 419 690 437 661 337 640 422 737 403 694 442 748 433 671 437 790 453 755 426 854 450 785 463 562 415 818 447 660 462 858 435 745 434 633 439 776 365 733 423 682 456 863 412 813 427 634 430 854 461 653 465 560 458 816 415 701 308 633 424 662 452 722 477 660 446 738 442 721 365 756 434 560 398 676 441 721 482 623 494 790 392 858 478 648 448 867 411 647 410 659 457 736 493 708 500 730 479 697 417 776 413 652 452 789 417 671 438 562 401 733 466 709 457 700 345 711 369 794 451 778 414 622 437 660 455 737 462 829 439 788 417 662 457 701 417 698 427 714 384 649 322 794 411 652 372 834 453 697 436 924 475 753 435 622 450 745 441 818 454 623 456 676 466 671 356 725 404 813 433 671 465 749 453 730 352 745 434 733 428 753 430 725 440 561 392 670 440 746 436 817 408 738 463 778 392 728 362 749 453 632 442 673 392 701 383 694 467 670 409 750 442 682 470 775 421 721 458 660 454 797 424 775 421 712 424 759 427 643 452 735 401 790 441 670 462 789 473 749 396 682 367 750 446 798 418 758 485 762 408 648 443 798 429 776 417 702 454 701 396 683 359 652 454 660 452 733 478 775 433 756 462 789 480 690 430 674 436 778 415 809 408 750 457 855 480 622 468 721 441 623 452 725 450 631 457 758 485 659 446 697 437 864 449 857 382 757 438 697 448 685 448 673 448 647 401 660 439 709 431 634 442 640 453 663 454 794 434 725 428 759 429 726 388 749 368 809 441 714 470 690 409 858 431 757 446 725 456 863 453 755 466 685 435 677 453 753 486 697 449 755 432 813 465 708 447 732 464 562 459 561 396 756 488 701 430 697 428 687 474 712 427 721 437 776 445 730 441 838 449 687 420 737 475 561 378 690 437 690 432 642 396 726 436 687 387 675 492 809 425 712 455 652 439 793 443 712 451 776 433 688 473 694 447 632 417 676 443 687 437 731 335 778 411 762 441 713 446 701 419 794 462 728 433 776 412 694 434 756 495 731 460 633 448 698 449 722 452 561 437 560 408 794 406 701 405 683 436 700 436 697 329 561 410" fill="none" stroke="none" marker-start="url(#mg)" marker-mid="url(#mg)" marker-end="url(#mg)"/>
<path d="M814 444 867 451 694 390 737 441 727 399 818 426 685 418 776 377 733 463 760 496 694 422 733 454 713 434 724 387 808 407 737 405 834 430 561 420 701 442 682 434 854 446 812 421 758 447 733 442 845 263 755 450 721 465 560 436 779 416 854 455 833 454 662 361 833 448 794 448 635 430 759 434 698 310 660 424 730 313 690 451 635 472 698 374 712 452 760 383 640 427 633 406 642 415 701 337 643 416 562 375 690 435 775 445 662 377 814 409 713 455 694 356 633 441 650 314 674 371 685 405 560 411 778 389 859 434 755 430 674 452 840 448 712 416 863 416 631 451 776 432 672 391 814 439 561 433 813 392 640 478 775 464 701 428 690 417 673 407 758 371 733 459 748 464 736 417 733 449 675 413 721 445 662 429 789 470 761 413 634 409 756 388 648 377 560 434 776 479 698 350 726 437 736 401 560 420 726 445 647 463 736 429 688 440 775 454 640 457 833 440 775 403 701 382 623 429 647 430 732 460 561 409 837 448 622 434 661 493 631 464 697 344 818 428 701 399 559 420 702 440 838 409 673 446 867 416 721 420 674 413 701 400 778 419 759 447 725 425 709 396 698 396 697 429 683 260 683 398 758 415 750 439 775 477 779 394 759 369 686 410 690 441 867 432 727 389 701 422 662 438 713 468 759 455 759 429 794 441 561 389 727 379 687 417 708 365 756 447 560 416 866 457 644 438 694 456 561 463 736 396 758 478 713 448 697 440 755 468 792 427 697 417 755 401 735 407 745 395 674 454 835 347 624 357 721 450 775 439 794 449 698 360 651 379 697 288 701 379 647 447 673 373 673 407 728 466 662 438 755 443 855 463 561 384 752 404 750 396 721 457 560 411 778 438 675 441 694 383 794 425 683 319 753 387 775 452 758 470 761 417 790 391 866 445 863 469 642 424 682 373 836 375 690 449 775 397 670 394 701 378 817 439 750 457 690 383 733 448 732 386 622 472 793 401 695 375 714 453 712 440 779 424 753 368 698 467 762 443 838 441 688 450 756 447 560 426 749 415 702 309 758 498 734 449 745 408 697 416 673 462 648 451 737 407 674 406 757 471 560 386 834 446 738 438 652 354 793 435 749 439 721 420 663 467 745 423 622 424 762 420 794 431 697 366 814 417 648 452 863 445 756 371 663 457 652 402 778 447 733 424 647 413 790 461 709 427 687 391 562 420 674 453 660 469 745 387 750 460 698 310 863 467 701 410 746 393 733 384 687 427 675 438 727 411 713 448 758 412 867 418 792 437 674 457 663 422 730 410 733 386 725 434 697 462 736 395 777 457 709 413 721 459 702 434 693 435 792 436 786 437 737 397 785 425 753 397 660 410 758 462 631 419 755 456 766 308 730 420 648 458 643 452 735 397 817 412 682 375 713 481 690 372 776 443 728 431 624 435 790 437 691 380 687 431 737 451 863 456 633 438 722 443 694 399 755 414 722 465 687 433 840 420 735 407 561 425 735 459 753 448 720 413 701 369 738 475 698 332 687 428 660 368 759 487 651 419 727 446 745 502 735 379 701 422 732 429 733 446 685 400 701 403 721 394 670 415 698 317 622 407 663 472 724 460 662 448 734 408 701 402 647 460 759 439 687 463 694 491 867 463 652 433 561 386 737 364 693 442 701 374 830 425 712 445 633 415 775 457 698 427 647 443 634 447 721 400 685 465 713 452 732 427 662 463 836 439 766 250 698 411 702 419 864 455 725 467 733 439 623 410 652 390 713 465 698 350 701 389 812 421 690 383 837 438 749 438 686 419 793 418 785 401 633 467 736 377 792 462 561 437 726 404 714 392 635 425 840 448 753 449 721 431 701 427 674 430 660 410 640 466 647 409 812 404 673 476 828 415 731 297 633 455 794 436 736 389 746 465 694 486 844 277 829 435 561 417 686 444 701 406 728 424 690 346 631 457 756 455 698 415 674 414 762 420 701 465 709 445 754 437 674 429 738 460 749 480 701 359 713 465 698 349 701 428 798 382 812 475 633 465 778 390 647 430 728 424 734 423 725 456 690 417 720 371 737 424 671 432 812 458 732 397 697 428 735 459 670 424 737 452 813 411 837 459 676 429 737 459 674 445 792 411 712 469 789 398 682 438 652 420 759 465 728 387 858 383 837 423 836 474 701 362 756 385 623 429 797 422 736 400 685 414 753 430 713 441 859 431 690 439 759 443 749 415 736 410 713 424 774 286 855 450 828 440 670 378 753 493 830 426 721 463 794 401 743 331 868 450 721 480 855 445 864 446 560 401 632 463 685 452 748 372 722 444 698 432 652 423 652 456 734 429 721 434 622 413 712 386 759 451 559 398 817 465 754 443 756 425 628 449 652 430 652 433 662 436 648 430 788 402 725 455 736 429 624 368 738 474 868 414 671 384 779 425 560 450 792 444 722 451 628 444 698 424 837 424 688 441 652 480 809 412 750 398 640 426 698 381 642 415 749 425 792 421 814 429 694 415 709 433 560 429 663 433 755 407 709 437 701 341 631 478 775 471 736 459 776 468 794 417 790 454 685 379 709 485 735 461 840 425 698 454 560 464 721 475 647 427 746 442 685 404 753 480 644 470 726 454 798 434 735 403 694 389 755 439 628 438 858 358 671 452 652 427 750 422 750 445 798 447 648 434 859 456 561 408 676 423 562 434 623 435 733 472 694 407 685 327 561 401 662 423 698 380 698 384 795 329 713 405 560 394 797 389 561 430 834 437 721 437 640 439 756 446 562 388 713 387 859 467 837 376 755 419 728 438 721 450 775 420 628 421 561 422 623 484 762 413 794 411 757 364 687 392 838 448 663 439 685 399 652 426 790 444 561 440 815 429 749 410 775 384 676 440 624 393 560 402 712 486 685 349 622 457 560 421 778 402 685 337 701 434 812 474 622 446 634 430 701 415 663 444 737 439 749 414 720 413 662 444 736 425 623 478 790 381 924 455 697 470 797 426 701 410 701 390 762 493 623 474 694 409 866 450 698 420 712 446 698 323 670 437 694 469 694 407 686 456 809 385 685 356 561 380 562 447 748 444 755 436 713 464 775 412 834 440 761 444 713 463 730 430 693 456 776 462 727 448 721 398 756 444 730 435 663 405 775 449 701 392 629 457 830 425 839 406 721 449 647 396 759 459 818 420 652 455 785 431 736 420 731 415 777 401 694 445 754 443 733 460 685 420 776 419 628 480 750 393 789 416 560 415 713 434 690 390 755 456 775 365 687 451 682 395 748 399 712 464 750 450 701 491 701 408 756 447 622 430 685 431 698 380 730 431 814 450 701 396 727 402 698 355 701 381 838 453 623 457 745 415 673 438 687 441" fill="none" stroke="none" marker-start="url(#mb)" marker-mid="url(#mb)" marker-end="url(#mb)"/>
<path d="M752 453 859 454 712 444 794 474 624 395 642 475 755 453 737 451 748 459 813 405 924 483 698 398 762 418 673 451 730 478 733 418 702 416 755 386 789 368 677 420 693 416 693 436 753 407 725 473 698 480 652 452 797 455 809 432 559 394 793 415 693 371 858 480 759 425 838 481 745 467 652 411 829 438 727 445 745 480 676 476 837 455 756 438 561 404 756 448 694 396 635 450 755 448 738 447 728 462 789 439 698 463 640 474 560 433 798 433 854 458 735 442 640 448 673 422 759 411 838 451 759 449 793 477 728 378 670 441 858 422 738 440 632 466 694 461 690 398 797 425 622 437 631 470 622 424 702 469 694 429 728 466 812 449 794 449 776 445 712 419 676 474 736 487 785 457 730 478 798 414 867 491 622 492 775 454 866 457 652 432 855 468 701 402 789 411 685 443 794 467 754 462 775 435 653 485 685 425 648 478 694 435 675 427 735 451 682 437 662 467 755 441 686 367 561 402 713 498 673 429 647 402 713 419 812 364 640 445 776 436 644 422 726 401 837 440 677 444 749 450 721 466 791 464 855 448 758 434 828 442 682 450 726 489 792 430 682 463 721 466 745 446 845 346 712 478 694 402 561 449 623 474 712 457 623 456 697 429 785 467 673 443 671 461 814 425 560 403 761 393 622 469 790 433 792 431 737 482 726 439 733 447 755 447 792 447 701 401 701 461 790 414 732 433 645 481 738 452 693 380 754 457 643 464 863 451 694 427 758 398 652 445 785 406 789 448 746 450 789 412 830 445 785 424 712 406 730 452 686 436 761 445 755 461 790 412 753 393 561 402 753 428 672 448 726 403 727 428 642 450 652 409 762 409 725 443 789 407 794 443 809 434 695 427 691 425 924 433 775 416 725 437 701 449 733 418 561 450 733 467 776 429 640 442 694 426 750 446 732 475 561 427 682 446 759 437 660 438 676 406 733 407 731 429 701 363 713 403 737 490 695 397 722 463 562 465 635 440 830 430 831 469 812 442 828 487 733 476 855 458 700 388 794 440 676 414 756 425 709 466 725 470 721 440 736 432 785 430 831 462 792 427 736 426 762 465 776 469 676 411 674 466 721 423 713 437 794 473 561 374 559 413 749 453 733 441 676 431 560 410 734 416 697 391 687 458 786 412 755 482 709 407 725 425 732 452 697 441 687 429 733 420 623 454 708 456 660 443 641 446 721 439 697 411 690 435 754 485 758 428 817 461 809 422 732 438 673 454 560 455 713 469 709 484 730 402 762 435 721 416 755 457 698 431 733 421 701 493 775 435 634 477 682 389 733 465 726 441 730 462 694 449 778 437 817 406 663 451 776 455 687 420 746 411 733 418 721 496 687 425 837 439 683 447 738 455 622 477 736 389 738 422 672 422 647 452 662 430 677 410 778 436 697 407 691 412 761 455 633 433 745 432 726 455 562 386 790 423 640 454 561 426 776 432 660 451 737 427 648 438 818 471 756 415 733 445 697 372 733 413 725 437 713 469 755 449 753 431 749 370 623 467 792 436 694 419 642 460 648 435 814 456 712 436 817 456 797 441 685 461 682 419 622 418 737 478 809 452 698 471 812 478 840 438 701 444 776 392 697 446 647 465 660 417 746 430 721 458 753 441 623 416 754 478 759 398 721 441 670 447 700 424 752 446 759 402 786 467 697 412 727 455 785 437 867 416 793 403 798 407 647 474 758 442 793 442 721 403 816 440 694 409 776 469 755 433 709 406 698 416 793 408 683 446 734 473 792 419 701 392 721 466 735 475 864 485 701 421 721 418 697 443 854 444 837 474 694 460 652 480 559 383 671 423 560 425 761 467 643 465 560 431 647 435 732 487 720 450 701 429 733 387 753 468 817 432 809 414 733 435 700 432 652 466 726 453 867 475 694 384 712 429 561 442 698 312 701 432 690 363 672 444 735 481 643 451 670 449 721 443 762 494 623 433 662 480 647 477 754 436 660 480 683 471 755 421 812 449 629 479 694 444 733 466 759 424 761 447 701 424 854 408 812 387 562 459 673 433 866 474 560 424 693 459 691 415 623 466 817 400 690 463 660 446 816 446 682 420 697 423 698 419 694 379 559 420 721 417 762 457 709 408 794 466 727 436 561 440 776 453 633 464 721 392 682 435 695 442 687 431 758 414 759 426 749 421 776 439 660 443 750 448 688 404 814 426 674 452 697 383 721 438 701 374 809 484 817 437 648 438 745 394 712 462 690 366 698 440 701 408 776 456 697 426 701 435 690 466 835 370 758 457 817 433 762 401 755 473 709 410 840 446 623 450 775 446 713 464 728 446 755 438 682 425 834 457 624 459 840 438 755 450 809 412 785 402 866 463 631 465 750 464 775 432 737 413 635 476 755 470 697 364 750 435 698 321 792 453 709 433 818 464 721 450 776 420 809 436 712 439 736 451 757 415 701 402 777 437 863 452" fill="none" stroke="none" marker-start="url(#mr)" marker-mid="url(#mr)" marker-end="url(#mr)"/>
<path d="M721 444 789 422 559 445 818 416 701 428 779 449 735 422 837 457 700 377 652 444 701 462 762 462 659 465 721 404 775 436 738 412 817 400 701 436 813 412 712 401 812 414 792 400 697 436 709 469 690 484 682 338 736 449 685 447 623 479 660 419 755 426 652 427 746 455 713 479 690 442 726 442 828 456 663 464 775 421 854 465 643 455 762 366 659 456 688 393 694 436 836 433 924 441 562 428 756 411 857 382 561 447 660 425 662 370 753 420 631 460 697 357 690 452 737 457 651 420 761 427 749 426 746 473 721 444 671 411 737 408 685 430 785 435 652 429 830 440 694 411 642 437 694 468 812 436 622 363 789 432 631 421 866 478 758 469 777 445 736 416 647 404 623 449 694 440 749 430 690 405 854 421 785 444 642 426 725 413 701 425 761 435 812 453 748 456 728 465 756 423 750 428 793 483 736 446 623 431 562 448 682 437 675 422 708 474 688 482 817 457 749 410 698 438 561 372 721 442 673 450 761 407 673 454 775 442 809 433 662 429 701 422 864 434 758 484 670 449 725 446 674 436 785 390 794 430 694 446 733 460 687 445 709 427 733 385 791 443 631 458 685 436 633 458 701 470 814 475 663 440 674 447 697 406 762 443 690 414 686 371 559 410 652 397 562 411 695 411 622 473 762 410 729 452 868 423 671 424 786 428 623 474 809 347 673 399 808 439 632 473 734 465 712 409 559 448 833 408 670 421 633 439 652 491 701 428 652 445 559 455 817 452 721 504 812 425 792 434 714 447 736 436 752 415 749 432 789 457 794 462 817 435 755 448 643 453 683 383 762 440 677 431 844 336 757 448 838 393 726 472 785 404 700 447 737 408 790 445 721 448 779 409 789 449 794 443 628 453 756 394 753 425 623 459 745 418 758 425 673 446 559 415 840 456 730 470 736 469 858 441 797 407 830 435 623 442 682 407 640 467 776 465 735 415 697 418 733 423 683 413 651 447 682 381 690 420 674 426 733 431 798 448 738 428 762 451 794 416 712 437 785 459 697 422 809 459 701 415 789 432 797 439 700 395 755 467 647 482 837 441 682 381 725 459 647 418 775 422 790 483 690 402 775 394 685 417 698 443 750 414 794 435 640 439 693 453 840 467 868 466 838 455 755 433 745 439 775 460 863 411 761 428 828 462 694 443 730 426 753 429 729 460 697 421 623 458 683 385 789 434 635 381 750 401 712 487 745 405 659 465 756 423 830 440 713 440 736 411 685 381 745 437 623 468 694 369 728 474 722 450 777 442 662 449 561 401 756 429 750 403 758 485 793 452 701 450 754 458 758 430 725 420 633 451 761 430 794 429 694 443 624 460 660 460 675 464 712 425 788 419 682 446 652 435 730 406 736 412 683 420 720 462 690 374 652 401 641 459 730 456 686 370 792 421 733 413 559 452 562 383 734 423 694 438 694 406 623 472 652 406 828 456 749 463 835 380 798 438 709 446 828 446 766 346 838 416 683 429 662 465 808 325 676 447 713 456 835 325 857 390 794 430 697 409 794 428 855 439 687 425 560 382 762 452 708 441 561 354 793 407 694 430 690 350 845 304 738 497 758 395 748 421 735 456 812 407 829 435 688 400 687 430 755 403 687 461 726 461 694 410 748 435 701 356 790 431 753 413 674 463 671 400 869 388 701 440 785 415 762 438 628 464 697 466 738 455 721 402 685 418 661 382 709 452 814 455 709 440 794 456 697 369 690 453 776 442 753 470 758 444 721 422 561 441 812 486 642 423 702 422 697 368 794 442 836 434 777 446 746 432 647 491 674 392 652 401 761 479 758 470 746 451 709 434 755 444 730 485 690 457 794 445 562 450 722 466 758 354 676 453 812 400 730 467 673 448 694 411 685 465 792 395 688 459 792 438 700 470 682 387 721 430 697 392 662 412 697 423 676 448 738 401 561 463 779 426 698 316 749 424 560 418 762 403 647 473 624 459 693 482 726 458 840 454 682 367 792 431 688 364 659 439 561 459 792 444 790 459 643 443 749 406 734 435 676 477 759 432 713 422 700 435 698 349 854 452 776 440 733 419 660 463 697 467 726 456 700 453 733 445 559 414 663 458 683 379 754 438 698 454 858 468 652 450 858 430 709 424 726 364 759 443 693 466 750 431 775 451 797 444 775 419 792 442 560 417 749 440 749 453 720 445 722 447 713 414 812 443 721 445 687 390 809 420 813 435 778 412 794 428 688 392 840 467 753 444 694 424 812 404 735 494 631 462 560 472 755 448 713 458 776 436 738 422 673 480 855 441 647 397 790 419 673 470 685 375 809 413 701 370 755 405 712 411 759 428 749 364 736 412 794 400 643 467 749 463 776 448 677 443 661 368 759 476 735 473 641 501 736 414 755 421 693 442 750 422 701 452 709 441 790 366 700 454 778 421 685 419 697 364 685 472 701 455 762 461 786 456 690 414 694 412 685 437 778 468 690 392 755 446 758 432 859 372 701 492 726 465 812 455 675 421 630 483 695 462 726 476 794 470 762 446 713 436 737 430 690 389 653 460 776 476 814 414 709 471 642 464 817 479 634 486 560 404 561 415 812 443 634 460 730 443 623 437 762 433 754 437 775 484 828 453 698 363 840 427 776 438 756 455 727 455 755 411 712 426 725 422 759 446 701 437 749 418 634 439 759 453 697 432" fill="none" stroke="none" marker-start="url(#mg)" marker-mid="url(#mg)" marker-end="url(#mg)"/>
<path d="M831 448 698 409 755 457 732 451 758 471 648 463 756 424 644 420 775 441 622 463 788 452 694 378 725 454 712 442 622 445 686 372 814 438 647 443 662 434 623 430 659 461 676 410 745 421 794 452 775 440 746 409 776 466 794 440 766 304 753 453 753 434 691 440 746 416 709 399 660 459 727 441 790 396 733 427 755 450 561 424 813 442 737 430 785 403 753 426 749 434 786 418 713 438 674 451 844 294 812 434 809 430 733 410 745 398 694 368 623 455 759 459 756 412 858 371 792 432 685 338 709 386 694 372 789 470 785 378 697 423 759 436 672 411 725 449 749 419 659 443 775 422 561 398 687 431 697 423 713 417 693 370 759 453 641 393 698 262 652 430 813 405 867 472 789 423 642 475 789 407 794 420 697 353 721 458 702 471 776 490 813 402 809 322 634 453 755 434 648 415 757 421 812 412 686 436 683 421 793 422 750 429 653 421 701 354 724 447 726 381 695 395 701 399 736 470 753 418 697 429 790 407 813 432 721 451 753 441 735 400 647 468 643 411 721 447 698 413 733 411 674 433 798 424 776 398 561 273 685 407 817 404 698 355 673 429 701 440 676 394 776 391 733 429 713 453 725 439 622 474 561 435 709 366 731 346 721 369 733 451 671 429 794 418 682 349 721 414 688 399 647 466 730 412 561 387 737 394 698 425 561 388 766 336 759 473 623 410 697 272 745 446 624 459 733 447 652 438 855 453 682 381 837 410 759 417 831 436 762 447 674 450 790 411 759 413 736 475 560 372 713 405 695 324 622 441 755 472 687 400 779 395 643 449 701 458 775 422 727 448 688 476 694 422 812 457 730 446 701 416 828 424 682 400 735 456 698 421 642 421 738 396 698 301 733 454 837 409 714 442 647 377 694 435 685 468 732 462 633 435 725 429 559 459 730 450 792 428 721 433 690 421 738 433 813 443 737 449 809 385 776 440 759 443 676 439 733 468 755 439 647 378 561 417 644 455 794 459 697 423 732 407 726 399 628 427 758 448 663 413 785 430 559 381 713 385 660 420 762 423 735 453 676 360 758 422 753 429 864 459 727 419 813 428 761 424 688 351 798 405 869 449 836 449 659 451 727 426 775 414 728 435 673 395 672 451 756 425 693 357 644 423 697 493 641 458 809 420 663 441 623 466 698 411 838 430 737 459 840 414 701 328 688 389 725 444 777 431 693 448 797 393 709 427 732 426 737 398 671 423 670 428 560 391 761 438 694 389 722 459 685 369 733 421 795 336 750 371 737 393 816 440 652 411 858 425 698 430 794 445 761 406 647 375 834 425 816 420 693 430 735 456 755 436 759 438 702 437 789 428 745 414 687 403 642 451 652 419 683 441 814 417 785 394 561 421 640 430 755 402 924 465 698 317 622 447 753 406 733 426 701 401 855 436 652 455 749 354 758 446 733 415 735 449 867 423 755 412 683 350 697 434 759 395 712 439 838 429 733 403 748 447 812 392 701 401 731 326 753 392 844 314 712 424 753 443 759 443 750 392 735 464 671 434 818 465 679 491 776 393 749 432 560 380 672 412 759 430 687 419 647 438 836 443 776 394 676 466 840 446 693 435 745 433 746 407 854 456 859 405 797 329 736 472 761 433 561 413 789 434 798 405 725 418 683 305 816 447 754 469 688 397 712 420 724 418 728 422 712 430 694 394 652 440 776 419 623 389 778 423 755 449 752 443 813 392 721 457 776 437 622 416 726 422 728 439 682 444 701 363 794 383 698 409 623 477 759 412 786 434 687 482 701 456 786 431 776 421 685 429 713 461 746 435 660 457 673 453 733 447 722 452 789 447 561 386 759 432 652 393 644 469 713 417 694 352 690 436 817 430 709 452 785 430 698 432 733 396 561 229 733 434 688 324 738 444 758 448 859 456 722 477 757 438 708 399 809 431 797 408 562 337 682 364 721 462 745 373 659 426 712 399 746 419 690 426 733 439 749 408 749 411 762 401 713 388 836 457 560 444 682 424 776 447 762 478 790 462 561 353 694 392 759 424 868 426 737 382 720 462 713 426 622 430 730 424 652 420 561 457 728 436 687 351 776 420 662 436 725 436 775 427 633 422 761 469 736 443 828 459 730 487 733 458 737 447 562 419 792 419 755 322 713 496 749 415 726 398 760 416 726 416 733 404 701 469 854 436 562 459 786 435 698 439 794 397 623 456 561 372 730 417 785 424 674 417 759 424 727 450 732 385 697 428 700 441 726 460 670 412 561 379 736 435 816 407 688 364 728 389 754 392 670 405 660 444 812 428 713 439 647 449 776 389 713 401 682 430 750 391 713 436 762 485 762 442 712 460 652 474 736 410 560 464 676 448 677 436 736 414 663 412 721 444 738 429 831 442 700 423 753 454 733 346 762 360 671 453 671 426 749 465 701 374 676 433 737 449 759 437 698 403 778 397 726 433 858 453 775 428 736 470 755 422 786 439 761 468 685 409 756 443 757 395 623 420 697 423 631 444 697 428 753 350 758 457 562 406 735 446 642 469 837 450 652 444 791 445 732 414 797 391 685 356 753 416 693 389 749 429 660 416 633 441 785 419 755 424 793 414 854 466 721 499 653 402 662 448 648 459 814 412 688 428 697 351 869 439 776 384 623 458 790 433 733 436 720 473 867 475 812 464 830 441 686 409 647 449 722 403 694 421 730 451 728 446 690 423 813 453 721 387 709 419 670 431 775 441 713 458 755 459 683 400 813 438 831 431 652 434 709 429 672 399 753 463 722 366 644 458 648 422 794 403 687 375 674 447 561 462 790 397 814 430 559 428 693 388 753 475 683 417 682 430 783 358 674 456 789 400 560 399 755 417 690 399 726 404 628 443 755 459 755 439 652 418 792 451 691 456 685 396 816 401 836 414 694 419 682 423 755 352 730 398 789 393 755 417 690 426 755 428 797 409 755 439 759 428 733 394 694 361 728 440 759 424 762 444 688 372 701 421 647 420 725 366 786 404 709 396 683 317 561 406 754 402 733 494 622 454 652 431 725 471 794 426 835 333 728 446 561 345 794 442 693 336 688 319 701 463 685 379 755 436 754 438 634 463 759 371 709 439 868 386 812 422 758 429 695 379 750 411 561 424 814 453 754 470 713 421 733 482 697 403 793 441 775 446 863 434 738 393 685 431 725 416 792 426 662 463 562 338 633 468 760 433 784 336 640 464 623 425 816 415 622 429 798 446 560 431 867 430 713 427 762 432 734 433 640 387 690 416 738 445 727 447 701 479 808 412 687 380 779 458 663 424 809 304 694 428 816 415 674 453 757 427 649 317 623 482 652 377 731 441 701 439 701 410 701 360 644 429 759 391" fill="none" stroke="none" marker-start="url(#mb)" marker-mid="url(#mb)" marker-end="url(#mb)"/>
</g>
<line x1="561.2" y1="455.2" x2="923.6" y2="428.9" stroke="#F0554C" stroke-width="5.2"/>
<line x1="561.2" y1="449.0" x2="923.6" y2="419.5" stroke="#16A82C" stroke-width="5.2"/>
<line x1="561.2" y1="432.2" x2="923.6" y2="411.7" stroke="#4E82EE" stroke-width="5.2"/>
<rect x="542.3" y="115.2" width="436.4" height="411.2" fill="none" stroke="#333" stroke-width="1.1"/>
<text transform="translate(615.3,165.6) scale(1,1.045)" x="0" y="0" style="font-family:'Liberation Sans',sans-serif" font-size="28.3" text-anchor="middle" fill="#000">r<tspan dx="7">=</tspan><tspan dx="7">0.13</tspan></text>
<text transform="translate(1204.3,108.7) scale(1,1.045)" x="0" y="0" style="font-family:'Liberation Sans',sans-serif" font-size="30.3" text-anchor="middle" fill="#000">ENG</text>
<clipPath id="cpENG"><rect x="986.1" y="115.2" width="436.4" height="411.2"/></clipPath>
<g clip-path="url(#cpENG)">
<path d="M1124 352 1285 384 1196 410 1224 398 1224 397 1195 429 1206 443 1128 427 1133 453 1095 472 1134 478 1188 431 1095 421 1264 389 1246 452 1282 388 1129 428 1150 438 1196 442 1311 339 1146 475 1086 393 1206 453 1107 489 1123 423 1181 412 1239 454 1051 469 1255 419 1239 489 1168 424 1129 427 1051 437 1177 445 1132 445 1144 419 1123 425 1154 418 1215 406 1322 427 1196 448 1074 401 1153 445 1051 486 1219 477 1282 353 1153 497 1238 431 1263 345 1115 442 1133 415 1225 456 1263 427 1049 463 1154 466 1215 422 1219 406 1255 424 1134 452 1284 456 1145 450 1095 459 1124 382 1150 469 1144 451 1311 436 1225 486 1234 417 1051 483 1144 413 1245 394 1284 421 1263 428 1049 489 1133 450 1248 439 1084 451 1128 481 1124 443 1074 433 1196 456 1141 445 1146 435 1215 370 1394 448 1095 501 1095 447 1051 406 1168 439 1293 444 1179 461 1086 421 1196 473 1145 413 1245 391 1225 394 1148 349 1214 371 1227 320 1233 409 1124 453 1224 404 1238 395 1145 473 1084 421 1179 449 1265 408 1049 479 1144 479 1127 436 1276 430 1133 470 1207 417 1255 304 1212 488 1150 451 1184 419 1135 464 1180 429 1213 455 1284 391 1245 421 1234 442 1242 435 1281 334 1181 401 1050 450 1215 449 1225 419 1150 461 1153 451 1265 403 1083 447 1284 413 1277 454 1154 413 1263 443 1225 404 1263 388 1049 467 1052 491 1239 430 1213 354 1265 400 1255 432 1181 432 1128 472 1233 457 1248 422 1177 421 1154 439 1180 481 1248 434 1051 444 1075 451 1133 440 1051 457 1123 419 1256 367 1084 443 1277 449 1219 462 1124 384 1129 442 1133 439 1153 429 1095 465 1238 377 1051 476 1132 459 1153 472 1129 392 1219 410 1278 395 1051 465 1235 396 1086 466 1154 501 1293 479 1107 491 1142 439 1215 463 1285 468 1246 413 1195 449 1263 427 1145 403 1165 446 1196 446 1225 448 1235 398 1176 453 1183 454 1238 451 1264 393 1239 453 1176 463 1284 446 1242 405 1183 440 1162 458 1049 442 1124 434 1213 419 1245 404 1050 463 1239 411 1246 404 1179 478 1224 458 1154 441 1276 495 1200 459 1243 391 1181 413 1188 420 1312 354 1133 443 1127 469 1248 447 1187 415 1150 432 1133 361 1284 404 1235 411 1123 454 1215 502 1282 320 1244 468 1156 433 1225 442 1128 457 1096 495 1312 437 1154 469 1322 446 1150 456 1246 398 1123 480 1154 404 1190 443 1220 465 1246 438 1233 472 1246 464 1247 424 1248 382 1199 403 1131 412 1195 403 1213 369 1128 408 1249 440 1050 452 1141 407 1051 466 1239 407 1050 471 1238 435 1154 396 1299 459 1124 460 1224 354 1225 433 1234 451 1291 433 1233 418 1235 415 1292 432 1177 464 1179 450 1215 464 1074 419 1181 417 1188 426 1179 440 1146 449 1220 413 1049 488 1264 434 1050 469 1224 446 1108 493 1134 428 1149 498 1149 467 1213 451 1150 466 1153 488 1096 476 1264 412 1322 394 1219 482 1177 465 1285 418 1134 483 1265 475 1150 502 1292 433 1128 437 1146 450 1084 452 1144 459 1219 435 1246 455 1134 431 1073 455 1184 418 1050 473 1149 440 1220 393 1051 468 1238 403 1124 418 1134 451 1154 409 1284 461 1180 430 1193 341 1153 426 1246 406 1051 435 1230 390 1129 439 1132 415 1285 374 1281 431 1213 417 1265 419 1255 319 1224 450 1246 395 1291 474 1264 443 1052 384 1153 482 1264 449 1153 496 1133 500 1128 440 1207 426 1050 493 1131 462 1132 422 1284 403 1225 316 1164 443 1154 418 1233 439 1285 420 1145 447 1224 433 1127 456 1254 425 1124 456 1263 363 1263 434 1149 416 1146 433 1188 456 1188 423 1213 397 1051 482 1131 439 1076 469 1129 400 1282 450 1213 404 1207 476 1200 470 1051 477 1124 468 1149 390 1235 462 1293 395 1246 416 1255 410 1096 455 1284 404 1153 413 1321 388 1084 480 1213 456 1285 412 1128 461 1154 450 1238 460 1205 432 1225 385 1154 489 1252 442 1150 427 1154 387 1234 329 1180 438 1246 467 1283 320 1124 419 1154 469 1264 439 1154 418 1085 463 1234 474 1153 422 1128 439 1049 465 1292 434 1095 456 1150 465 1235 424 1084 432 1134 419 1321 435 1107 480 1153 471 1050 463 1180 436 1150 464 1219 428 1292 405 1293 435 1131 457 1245 408 1144 409 1150 405 1181 434 1146 416 1076 478 1086 466 1083 462 1321 398 1265 434 1051 450 1183 463 1183 438 1124 456 1219 450 1239 435 1084 447 1227 295 1149 485 1131 442 1184 469 1284 384 1124 456 1292 438 1128 466 1072 437 1235 429 1299 415 1124 464 1183 442 1133 458 1154 438 1246 372 1188 440 1153 440 1085 364 1128 449 1265 401 1086 485 1250 471 1153 402 1179 444 1181 397 1248 372 1128 426 1235 456 1215 440 1246 419 1153 426 1051 457 1128 474 1196 460 1150 448 1219 483 1129 423 1293 436 1224 414 1263 389" fill="none" stroke="none" marker-start="url(#mr)" marker-mid="url(#mr)" marker-end="url(#mr)"/>
<path d="M1107 494 1213 470 1116 436 1184 475 1075 449 1049 469 1149 315 1133 426 1255 470 1238 445 1154 480 1224 387 1254 404 1238 401 1131 400 1196 429 1265 373 1238 446 1255 369 1134 453 1255 471 1129 467 1133 459 1075 487 1150 459 1086 469 1246 374 1224 441 1145 427 1284 410 1150 408 1086 442 1248 458 1320 418 1083 416 1284 427 1164 433 1154 501 1219 388 1196 452 1292 475 1239 447 1154 484 1084 469 1245 404 1215 485 1133 447 1282 405 1245 420 1153 442 1292 349 1083 461 1073 408 1085 451 1282 419 1224 400 1107 473 1164 455 1084 446 1111 471 1196 447 1234 432 1051 452 1213 389 1086 440 1225 424 1196 389 1235 430 1051 462 1049 468 1190 489 1234 503 1180 419 1187 439 1264 373 1291 427 1284 395 1213 412 1111 467 1238 432 1238 494 1283 449 1049 482 1320 421 1143 470 1096 496 1145 474 1257 441 1150 447 1252 396 1233 420 1150 413 1128 468 1150 430 1224 427 1153 407 1239 384 1220 446 1050 483 1154 413 1150 457 1143 430 1133 447 1282 446 1076 478 1219 376 1238 382 1154 460 1128 437 1265 408 1086 468 1208 426 1086 449 1050 463 1245 443 1247 405 1096 487 1051 452 1238 426 1195 403 1146 399 1224 446 1321 404 1248 354 1251 430 1188 443 1131 384 1248 429 1050 463 1134 429 1095 458 1051 431 1096 469 1292 396 1177 460 1134 447 1150 459 1073 382 1207 417 1291 424 1149 379 1049 486 1214 455 1153 484 1293 365 1233 428 1167 420 1292 359 1154 464 1265 384 1051 470 1153 459 1132 434 1183 476 1234 432 1145 453 1150 473 1129 469 1238 457 1131 479 1051 473 1150 409 1240 440 1128 441 1188 425 1225 392 1128 434 1239 438 1086 441 1246 447 1184 466 1154 493 1289 340 1213 487 1255 406 1219 438 1146 463 1142 438 1214 412 1224 410 1086 411 1179 444 1215 435 1131 503 1238 465 1149 450 1133 431 1134 466 1184 415 1253 446 1128 407 1276 446 1131 425 1154 439 1051 489 1154 441 1154 441 1073 429 1150 483 1215 428 1238 443 1083 478 1394 458 1168 396 1296 392 1224 457 1282 453 1086 415 1050 475 1086 447 1075 411 1235 416 1239 360 1154 393 1238 432 1177 478 1177 447 1116 448 1188 431 1150 418 1265 393 1153 456 1144 477 1133 422 1238 397 1282 462 1073 495 1246 401 1281 395 1051 448 1153 418 1180 412 1072 425 1124 456 1150 449 1086 478 1245 374 1291 370 1150 481 1084 385 1075 438 1263 406 1128 344 1292 428 1133 383 1074 398 1219 389 1134 406 1248 436 1146 403 1179 452 1292 446 1208 452 1224 456 1187 476 1084 424 1128 470 1150 449 1132 476 1127 456 1195 419 1264 450 1133 473 1134 453 1134 397 1246 349 1051 448 1223 452 1184 439 1154 451 1153 450 1051 463 1148 220 1181 441 1285 416 1154 354 1146 420 1131 400 1321 471 1293 453 1134 448 1124 419 1244 393 1246 443 1229 437 1176 441 1153 419 1196 452 1214 436 1126 330 1263 384 1131 446 1124 477 1291 430 1085 418 1265 429 1255 419 1153 448 1073 369 1284 377 1181 419 1108 455 1285 441 1191 351 1150 476 1281 452 1264 366 1049 462 1128 464 1394 452 1133 400 1144 445 1289 377 1183 431 1084 419 1246 382 1227 436 1184 442 1176 432 1311 390 1154 430 1085 415 1149 470 1181 456 1124 426 1285 410 1264 459 1263 417 1291 358 1143 459 1207 447 1248 385 1153 458 1282 318 1049 478 1238 420 1049 469 1073 403 1134 433 1220 436 1291 417 1122 393 1230 460 1264 352 1076 413 1128 418 1181 399 1238 351 1128 410 1050 492 1143 407 1263 459 1132 465 1214 493 1264 405 1150 440 1181 415 1150 475 1086 459 1132 406 1144 385 1223 487 1282 439 1284 425 1133 422 1248 399 1293 426 1150 423 1219 423 1195 455 1051 485 1133 414 1224 390 1131 459 1128 426 1135 451 1225 392 1177 480 1084 440 1215 453 1150 448 1179 473 1238 431 1125 482 1154 449 1238 406 1282 389 1219 443 1149 449 1084 428 1075 461 1180 465 1225 430 1134 439 1214 406 1284 406 1233 450 1248 386 1051 458 1213 481 1195 342 1223 465 1239 467 1263 407 1150 481 1143 424 1293 419 1292 373 1284 460 1154 411 1264 352 1291 425 1153 464 1283 214 1292 421 1111 462 1255 393 1238 452 1146 458 1051 437 1291 385 1110 469 1238 445 1179 451 1165 416 1180 426 1284 476 1084 424 1131 451 1235 398 1225 363 1149 262 1277 434 1144 447 1264 444 1150 432 1149 362 1051 457 1191 440 1263 351 1150 430 1133 432 1134 445 1150 430 1220 399 1128 388 1075 438 1292 421 1265 440 1107 476 1146 468 1095 458 1049 465 1393 444 1311 439 1225 376 1320 375 1051 461 1263 445 1177 458 1296 465 1181 452 1195 488 1251 441 1108 477 1073 416 1239 395 1291 344 1129 411 1131 460 1320 370 1051 497 1219 401 1239 414 1095 454 1146 394 1132 415 1150 388 1196 441 1146 429 1149 471 1246 386 1129 439 1075 410 1107 474 1150 459 1215 450 1154 500 1154 476 1131 399 1149 408 1181 410 1131 460 1154 435 1172 416 1282 389 1233 390 1246 376 1188 402 1264 395 1095 482 1244 401 1129 456 1238 385 1196 453 1277 427 1149 412 1248 419 1154 444 1284 432 1229 437 1234 366 1153 491 1216 425 1184 458 1176 435 1248 365 1238 367 1322 391 1181 460 1215 401 1124 460 1144 466 1290 339 1150 465 1049 472 1124 456 1150 461 1225 424 1154 451 1177 457 1225 489 1154 434 1144 441 1208 425 1276 329 1150 456 1179 463 1150 441 1234 354 1187 448 1234 425 1320 429 1187 493 1149 434 1128 443 1133 458 1086 451" fill="none" stroke="none" marker-start="url(#mg)" marker-mid="url(#mg)" marker-end="url(#mg)"/>
<path d="M1264 401 1129 463 1181 395 1255 474 1180 437 1311 349 1263 433 1134 425 1184 407 1225 375 1211 320 1322 386 1150 405 1238 328 1248 395 1154 407 1208 413 1149 411 1244 441 1133 465 1219 462 1215 351 1153 409 1227 451 1208 410 1225 411 1128 381 1153 482 1149 386 1239 389 1109 423 1238 488 1214 380 1245 393 1193 333 1051 466 1224 429 1154 441 1184 429 1187 478 1128 404 1110 491 1233 366 1149 267 1265 419 1284 347 1215 314 1130 310 1128 427 1283 393 1076 482 1177 419 1263 425 1107 490 1084 461 1142 409 1073 386 1134 383 1200 409 1311 402 1322 442 1281 406 1283 343 1051 477 1208 404 1299 445 1122 424 1151 463 1134 373 1073 424 1150 358 1177 429 1131 437 1245 399 1051 485 1238 378 1214 439 1233 406 1049 461 1215 410 1164 477 1264 247 1075 397 1183 444 1264 433 1213 463 1295 468 1144 431 1183 388 1291 446 1219 425 1213 455 1181 433 1133 423 1207 404 1207 423 1149 421 1051 442 1219 363 1184 466 1127 490 1225 371 1282 364 1264 360 1263 349 1128 415 1255 421 1150 392 1109 398 1109 402 1128 409 1075 452 1051 468 1086 459 1050 455 1223 410 1153 402 1073 424 1248 418 1181 419 1246 363 1219 401 1246 437 1129 422 1051 453 1172 454 1131 474 1096 453 1246 422 1160 366 1131 440 1154 492 1128 408 1238 437 1224 400 1168 454 1172 450 1265 438 1321 390 1283 404 1126 327 1224 388 1150 472 1233 400 1124 446 1184 481 1250 439 1146 475 1116 459 1225 419 1322 358 1255 447 1134 483 1108 473 1255 408 1219 386 1131 419 1086 432 1073 423 1109 429 1238 421 1265 386 1291 375 1129 411 1263 367 1150 427 1095 445 1239 435 1282 340 1131 406 1153 435 1187 424 1234 382 1110 473 1084 359 1095 471 1255 421 1086 436 1247 407 1050 474 1131 406 1195 241 1052 405 1226 330 1154 458 1149 418 1134 389 1084 461 1072 400 1254 312 1153 469 1180 457 1219 481 1125 327 1143 465 1206 408 1086 409 1146 422 1176 440 1084 374 1293 455 1134 412 1204 383 1312 345 1124 431 1049 463 1293 411 1234 367 1086 440 1083 444 1248 418 1184 475 1246 432 1150 456 1219 406 1134 430 1227 267 1225 376 1144 391 1124 386 1300 418 1235 430 1145 426 1235 418 1096 467 1322 391 1128 383 1212 321 1150 395 1300 453 1249 475 1223 481 1153 435 1146 413 1153 451 1235 404 1150 443 1213 420 1277 457 1177 419 1049 470 1145 481 1150 437 1176 465 1238 399 1265 464 1146 446 1146 431 1285 404 1184 420 1184 457 1184 461 1180 422 1144 446 1220 429 1153 484 1282 391 1131 446 1265 333 1154 467 1123 450 1320 440 1233 412 1095 476 1172 397 1144 434 1134 466 1150 457 1213 443 1242 448 1219 385 1220 377 1111 492 1252 415 1227 282 1255 357 1248 317 1149 451 1180 426 1206 459 1224 400 1179 442 1149 422 1180 364 1311 405 1128 363 1051 410 1214 456 1265 413 1234 415 1051 426 1150 318 1116 469 1292 410 1110 464 1225 425 1285 364 1181 470 1189 356 1150 413 1312 383 1255 374 1143 453 1225 448 1051 465 1072 402 1322 394 1224 421 1255 429 1133 434 1255 395 1238 449 1296 380 1213 440 1095 467 1073 448 1234 410 1150 412 1284 379 1123 434 1074 423 1247 364 1248 345 1246 342 1132 463 1085 439 1233 417 1263 410 1248 430 1154 462 1125 374 1238 474 1239 478 1178 418 1246 414 1215 430 1284 357 1255 433 1264 383 1075 390 1291 399 1246 367 1263 411 1149 391 1188 415 1049 471 1146 348 1249 432 1131 453 1196 406 1234 425 1134 412 1176 388 1213 367 1177 430 1238 435 1146 418 1150 445 1051 487 1265 418 1181 456 1358 379 1239 415 1223 455 1131 410 1131 468 1207 438 1110 461 1154 478 1177 462 1180 457 1238 372 1074 376 1124 406 1181 432 1282 410 1143 482 1150 469 1225 403 1150 361 1051 435 1213 389 1144 437 1264 351 1134 477 1181 435 1244 347 1096 457 1131 451 1124 468 1179 398 1160 384 1225 423 1049 467 1131 469 1073 438 1291 331 1291 411 1293 425 1245 370 1188 433 1245 362 1123 445 1125 307 1187 437 1311 389 1145 410 1283 402 1075 426 1184 440 1181 446 1124 419 1049 462 1215 470 1211 334 1255 370 1084 468 1285 367 1096 469 1291 381 1122 441 1247 349 1052 477 1124 389 1133 404 1049 440 1285 371 1128 395 1238 411 1225 455 1133 444 1320 445 1224 367 1299 425 1228 444 1049 492 1219 476 1207 448 1149 452 1133 451 1107 478 1133 417 1051 392 1281 401 1141 433 1322 366 1096 480 1242 436 1176 413 1085 341 1322 436 1214 366 1084 445 1214 342 1224 425 1095 463 1250 472 1234 429 1358 463 1154 400 1144 439 1150 452 1255 374 1150 405 1124 392 1393 463 1134 395 1293 393 1143 478 1263 264 1146 388 1180 477 1141 421 1213 369 1238 362 1246 432 1124 397 1253 475 1234 405 1124 445 1176 413 1233 413 1291 305 1153 432 1128 406 1215 382 1225 386 1248 377 1050 476 1179 416 1248 415 1225 392 1131 418 1049 458 1285 427 1224 414 1133 419 1238 412 1195 205 1255 319 1051 432 1149 456 1184 434 1312 407 1150 474 1358 398 1195 415 1195 438 1132 471 1177 413 1293 421 1263 268 1143 482 1312 416 1247 386 1234 449 1282 445 1128 474 1245 423 1154 371 1096 422 1205 432 1133 406 1255 392 1154 454 1224 472 1150 418 1110 475 1148 251 1084 434 1124 446 1293 443 1150 449 1284 415 1076 436 1128 418 1229 390 1131 406 1291 451 1213 451 1215 431 1246 401 1196 438 1179 397 1215 371 1255 391 1128 392 1134 452 1222 384 1292 379 1284 379 1234 396 1149 412 1124 414 1107 474 1049 451 1083 438 1132 450 1234 421 1246 377 1239 475 1150 452 1133 362 1154 393 1196 428 1150 423 1184 449 1184 437 1128 433 1051 440 1133 490 1181 448 1163 343 1095 470 1084 454 1244 450 1144 417 1128 469 1075 463 1238 402 1141 434 1150 465 1153 396 1132 353 1292 430 1238 448 1146 398 1233 437 1150 415 1051 451 1149 412 1234 439 1134 388 1049 484 1233 351 1129 437 1284 380 1050 459 1144 476 1127 307 1150 436 1051 447 1153 475 1233 401 1263 410 1214 407 1234 366 1096 425 1124 374 1215 415 1239 385 1233 434 1293 420 1144 436 1215 443 1225 454 1184 421 1211 333 1154 415 1265 340 1049 478 1110 468 1153 460 1283 305 1143 464 1213 388 1085 408 1051 432 1131 365 1225 417 1153 501 1284 422 1134 428 1246 430 1249 442 1124 427 1184 415 1134 414 1124 348 1049 476 1215 339 1153 447 1143 479 1265 447 1074 370 1188 407 1133 464 1282 389 1238 401 1131 446 1255 438 1183 429 1265 400 1234 416 1180 391 1186 388 1143 425 1190 414 1096 437 1135 431 1235 391 1154 446 1180 376 1281 409 1187 434 1149 421 1131 415 1248 397" fill="none" stroke="none" marker-start="url(#mb)" marker-mid="url(#mb)" marker-end="url(#mb)"/>
<path d="M1186 387 1234 501 1293 412 1225 430 1285 372 1299 420 1153 403 1224 444 1320 362 1358 468 1284 420 1094 473 1134 376 1147 337 1235 457 1178 424 1149 413 1215 425 1224 484 1247 378 1153 395 1129 413 1224 457 1049 466 1263 422 1188 455 1134 460 1107 482 1083 458 1256 469 1150 468 1049 465 1263 402 1153 424 1196 453 1184 422 1206 467 1095 471 1150 430 1321 433 1075 425 1154 464 1095 457 1073 410 1184 447 1220 447 1248 438 1073 470 1144 421 1153 406 1290 389 1177 446 1129 479 1225 439 1051 451 1204 426 1084 425 1245 453 1154 433 1179 430 1154 432 1183 425 1050 476 1131 475 1233 408 1183 452 1134 487 1219 366 1293 433 1073 450 1134 383 1134 425 1219 404 1051 462 1134 436 1129 440 1246 435 1153 474 1282 448 1176 468 1180 436 1238 454 1234 413 1239 428 1263 422 1150 478 1086 464 1050 463 1073 410 1051 490 1234 449 1225 433 1124 388 1131 503 1124 430 1144 382 1234 495 1165 430 1154 449 1292 448 1184 403 1219 452 1224 407 1131 437 1246 424 1188 467 1128 426 1284 418 1123 457 1150 424 1132 434 1265 423 1264 375 1146 467 1186 456 1311 446 1214 445 1264 424 1154 471 1134 431 1084 438 1153 465 1234 413 1214 455 1133 454 1051 456 1177 459 1156 401 1179 430 1285 458 1154 445 1154 432 1086 467 1321 436 1216 486 1127 464 1234 430 1234 455 1214 406 1150 475 1246 411 1129 504 1075 422 1207 432 1133 468 1134 425 1165 365 1179 425 1049 443 1358 479 1110 486 1284 415 1128 460 1150 487 1213 422 1255 439 1227 439 1051 499 1263 361 1206 454 1255 467 1127 437 1049 454 1154 425 1214 415 1254 427 1215 393 1150 470 1238 440 1184 422 1131 498 1238 406 1184 409 1281 426 1151 456 1246 452 1243 457 1311 366 1150 472 1095 468 1264 440 1108 458 1128 470 1320 388 1156 476 1181 405 1134 373 1146 457 1224 483 1238 432 1150 365 1154 447 1245 463 1131 423 1188 403 1187 487 1276 499 1154 497 1154 434 1154 449 1123 391 1075 416 1143 437 1248 375 1179 443 1233 474 1181 433 1150 469 1181 448 1196 419 1150 458 1215 447 1153 455 1213 469 1198 334 1154 501 1393 438 1246 430 1153 453 1248 424 1263 439 1263 393 1255 416 1177 455 1248 463 1215 464 1293 469 1183 460 1086 423 1246 464 1284 423 1154 467 1284 410 1133 504 1124 466 1322 421 1184 408 1094 469 1150 485 1183 463 1051 470 1238 385 1153 457 1154 459 1146 451 1149 436 1146 463 1225 483 1246 397 1213 429 1180 328 1225 368 1150 436 1246 379 1150 447 1190 499 1124 420 1238 389 1051 491 1124 437 1246 406 1195 430 1293 407 1133 440 1264 500 1224 462 1229 472 1246 404 1126 418 1051 462 1225 444 1144 465 1095 457 1248 382 1265 395 1086 449 1149 432 1146 483 1133 469 1153 406 1225 439 1124 418 1146 425 1153 443 1134 438 1150 405 1154 365 1213 396 1153 406 1188 460 1225 418 1150 434 1131 443 1128 443 1051 447 1235 471 1264 411 1177 458 1285 415 1180 463 1284 415 1233 453 1255 462 1248 368 1133 467 1284 375 1131 458 1263 412 1049 469 1223 457 1291 392 1311 415 1131 469 1051 439 1144 392 1129 373 1393 458 1143 455 1154 463 1153 496 1238 411 1215 429 1312 429 1051 478 1199 429 1184 447 1233 454 1247 455 1285 352 1128 414 1184 465 1188 459 1131 458 1246 389 1208 452 1167 428 1049 463 1111 495 1246 443 1150 487 1282 441 1238 414 1284 388 1235 396 1050 470 1049 470 1128 393 1181 484 1051 462 1154 481 1184 417 1277 458 1049 474 1219 457 1188 422 1265 415 1187 460 1075 483 1184 430 1248 417 1246 418 1150 459 1239 444 1263 446 1153 443 1225 419 1225 430 1312 430 1184 443 1146 432 1184 446 1225 446 1238 372 1084 467 1255 450 1247 347 1086 460 1293 484 1263 420 1177 465 1049 467 1245 407 1179 483 1219 424 1293 453 1265 391 1049 448 1050 442 1233 405 1284 387 1238 483 1292 432 1129 453 1128 400 1149 229 1292 423 1049 491 1051 480 1179 436 1195 436 1239 460 1282 390 1154 463 1168 387 1086 444 1358 474 1165 500 1247 416 1223 424 1086 467 1150 451 1194 466 1311 411 1172 453 1179 472 1131 492 1233 412 1299 414 1050 461 1223 489 1181 460 1050 465 1165 421 1238 457 1150 458 1131 439 1154 445 1124 427 1246 447 1124 429 1149 464 1289 337 1180 452 1149 493 1214 446 1128 424 1084 442 1084 474 1153 493 1246 419 1131 478 1238 439 1180 468 1132 438 1264 417 1146 481 1107 474 1075 391 1149 466 1265 424 1320 356 1154 328 1248 393 1073 409 1167 454 1293 423 1187 444 1049 478 1124 459 1128 442 1181 470 1167 488 1143 425 1358 411 1124 461 1134 444 1128 393 1049 477 1224 388 1049 467 1255 368 1095 492 1321 423 1265 419 1248 453 1146 451 1229 418 1214 398 1234 432 1225 442 1051 464" fill="none" stroke="none" marker-start="url(#mr)" marker-mid="url(#mr)" marker-end="url(#mr)"/>
<path d="M1255 407 1225 412 1187 417 1184 450 1244 451 1224 474 1050 468 1255 316 1188 427 1129 467 1123 477 1095 458 1238 492 1246 407 1181 439 1086 468 1225 430 1320 342 1128 454 1086 475 1233 382 1144 415 1248 449 1049 420 1200 444 1312 363 1167 457 1150 469 1263 374 1235 418 1214 408 1220 381 1293 396 1150 399 1150 421 1224 479 1188 440 1229 409 1184 476 1124 407 1154 396 1233 479 1150 435 1121 447 1264 417 1255 407 1051 454 1150 392 1150 502 1265 369 1276 428 1311 402 1128 440 1051 451 1246 368 1083 456 1291 427 1196 458 1133 421 1107 486 1075 419 1049 467 1146 425 1292 435 1129 373 1150 446 1184 475 1239 361 1073 401 1238 403 1124 373 1251 458 1255 420 1224 415 1051 480 1051 410 1238 411 1181 446 1084 450 1264 427 1213 434 1180 415 1096 461 1134 428 1213 445 1291 396 1213 479 1264 325 1255 466 1154 421 1151 344 1131 479 1153 419 1239 410 1225 341 1214 382 1238 422 1154 444 1233 380 1134 395 1224 388 1312 390 1151 460 1284 449 1195 382 1195 413 1219 439 1128 461 1074 374 1233 460 1084 485 1154 445 1291 428 1285 433 1248 403 1110 478 1264 401 1322 337 1312 405 1073 466 1177 435 1128 502 1148 249 1215 459 1264 465 1128 421 1150 469 1256 405 1181 374 1234 379 1251 448 1225 374 1150 484 1051 479 1179 456 1134 449 1085 450 1051 459 1212 448 1075 405 1188 487 1150 409 1295 477 1177 406 1141 435 1213 407 1184 451 1224 380 1075 441 1164 458 1153 448 1126 441 1284 433 1049 460 1291 367 1246 415 1255 394 1234 357 1246 382 1147 351 1248 456 1245 441 1284 468 1184 425 1312 429 1284 390 1238 435 1084 459 1394 434 1133 401 1086 424 1129 390 1151 432 1165 439 1153 403 1096 472 1110 478 1150 434 1179 410 1131 402 1144 379 1213 375 1147 315 1184 434 1239 427 1094 469 1263 467 1246 451 1084 449 1184 435 1072 464 1075 398 1086 381 1394 466 1243 428 1255 373 1181 447 1132 452 1246 376 1133 416 1246 422 1151 493 1153 448 1150 430 1144 453 1215 406 1134 443 1285 413 1132 335 1133 443 1184 450 1144 372 1246 427 1075 436 1154 476 1051 480 1143 461 1284 394 1149 436 1131 459 1110 434 1219 361 1224 445 1128 414 1193 354 1206 455 1264 404 1188 396 1255 391 1049 468 1127 440 1282 308 1293 364 1153 426 1226 332 1134 457 1263 446 1285 389 1153 448 1320 455 1358 450 1184 439 1177 462 1233 412 1284 395 1132 432 1128 445 1143 427 1247 407 1255 397 1050 468 1128 502 1284 414 1264 297 1220 415 1177 435 1131 393 1196 456 1245 396 1291 405 1292 417 1149 423 1128 462 1153 388 1195 431 1187 426 1293 467 1255 360 1150 414 1084 457 1180 413 1233 401 1165 458 1284 431 1177 362 1154 478 1227 327 1133 437 1153 448 1196 444 1131 488 1049 475 1143 352 1224 363 1086 467 1216 445 1084 420 1255 477 1149 418 1143 442 1176 412 1208 446 1051 402 1184 442 1233 385 1184 441 1181 378 1188 452 1051 480 1184 434 1293 418 1149 440 1162 426 1150 452 1134 461 1154 452 1153 458 1184 402 1244 423 1184 461 1085 378 1051 485 1213 433 1160 366 1084 452 1150 429 1183 463 1051 487 1291 430 1051 465 1150 424 1282 432 1111 483 1146 455 1233 481 1276 420 1252 479 1143 428 1234 383 1225 416 1154 416 1051 478 1154 429 1292 369 1225 326 1284 419 1254 404 1132 482 1153 448 1225 344 1095 463 1184 458 1051 446 1149 436 1181 464 1051 479 1133 378 1195 469 1234 414 1239 422 1195 502 1133 447 1293 425 1149 446 1238 419 1049 487 1214 401 1357 452 1282 381 1263 420 1311 403 1154 365 1051 491 1282 395 1073 454 1283 433 1224 490 1255 409 1239 395 1184 434 1129 478 1196 440 1129 452 1180 456 1153 407 1195 461 1131 493 1149 400 1049 471 1187 415 1150 376 1128 489 1150 465 1295 398 1291 330 1153 438 1248 444 1129 409 1238 327 1213 405 1248 350 1321 443 1049 467 1181 445 1146 409 1150 483 1233 472 1177 414 1132 446 1149 421 1150 478 1133 442 1153 377 1264 380 1177 437 1246 461 1312 424 1227 326 1086 457 1183 474 1108 468 1049 459 1293 390 1181 480 1239 419 1255 353 1118 417 1184 420 1238 441 1131 451 1291 434 1246 439 1134 432 1265 428 1234 431 1263 470 1293 452 1284 355 1255 417 1050 462 1050 447 1179 461 1234 415 1320 427 1238 462 1233 479 1219 380 1196 464 1233 426 1134 424 1293 416 1153 411 1284 421 1179 441 1291 344 1049 431 1129 454 1263 387 1223 420 1051 457 1184 425 1172 444 1284 436 1075 431 1296 436 1296 467 1123 453 1084 460 1263 376 1051 460 1238 459 1264 450 1131 466 1134 449 1154 456 1213 479 1180 404 1153 466 1128 345 1132 389 1264 309 1248 417 1095 481 1263 432 1265 349 1249 429 1124 435 1134 449 1134 445 1207 449 1238 426 1086 451 1215 439 1124 433 1215 407 1255 402 1358 455 1051 458 1154 450 1295 406 1225 390 1129 445 1177 430 1146 467 1284 409 1153 470 1183 405 1284 370 1187 407 1312 413 1149 477 1146 437 1144 451 1131 410 1154 426 1265 391 1134 421 1225 397 1049 454 1291 344 1146 394 1235 384 1320 347 1293 365 1128 424 1256 429 1075 470 1239 418 1181 413 1195 448 1051 444 1281 472 1225 434 1255 413 1128 441 1188 436 1238 422 1095 477 1168 383 1246 364 1291 383 1051 457 1213 457 1213 392 1149 449 1128 393 1128 440 1255 373 1235 368 1051 469 1181 428 1319 406 1125 430 1154 503 1224 453 1224 448 1284 475 1084 331" fill="none" stroke="none" marker-start="url(#mg)" marker-mid="url(#mg)" marker-end="url(#mg)"/>
<path d="M1291 442 1153 435 1096 441 1050 436 1127 439 1235 396 1246 443 1225 462 1184 463 1180 446 1394 451 1133 402 1167 411 1051 444 1196 417 1252 430 1096 492 1111 468 1131 435 1124 458 1225 426 1282 452 1096 470 1131 402 1265 382 1124 367 1177 444 1130 325 1141 398 1049 497 1128 445 1049 463 1247 414 1108 420 1292 455 1179 438 1179 436 1184 421 1195 165 1225 400 1153 456 1225 360 1246 462 1265 394 1154 393 1153 394 1249 403 1128 449 1150 416 1282 407 1196 388 1293 396 1133 470 1133 446 1263 312 1239 380 1154 399 1215 337 1282 326 1246 362 1153 437 1215 458 1167 448 1149 485 1154 449 1243 439 1051 469 1256 447 1296 412 1150 459 1199 437 1154 415 1125 305 1284 430 1125 439 1246 423 1196 407 1225 455 1107 493 1321 397 1233 371 1173 394 1153 431 1285 390 1247 446 1247 416 1214 402 1162 454 1234 419 1290 381 1095 475 1238 452 1265 407 1075 414 1115 387 1225 338 1143 427 1213 431 1084 431 1293 386 1146 453 1085 362 1213 406 1295 436 1285 438 1177 458 1124 474 1134 429 1084 463 1164 417 1187 446 1213 386 1285 409 1124 338 1291 426 1127 429 1150 417 1248 254 1141 504 1225 432 1160 346 1254 414 1075 477 1238 439 1128 452 1265 401 1188 441 1183 438 1194 438 1132 364 1144 448 1213 419 1219 458 1239 349 1184 443 1128 389 1255 390 1213 447 1358 377 1132 452 1224 434 1050 452 1263 289 1129 465 1149 470 1239 370 1149 448 1154 471 1084 456 1124 440 1244 391 1177 418 1159 368 1290 317 1282 430 1050 461 1095 479 1153 468 1124 393 1235 400 1134 406 1167 451 1178 429 1293 407 1085 321 1049 448 1184 475 1051 448 1149 425 1263 252 1184 405 1141 461 1133 430 1282 391 1195 435 1170 417 1150 431 1282 369 1150 422 1255 371 1145 474 1118 468 1050 470 1124 474 1187 465 1177 413 1179 429 1177 367 1184 430 1134 393 1233 421 1311 379 1196 466 1220 449 1206 453 1154 396 1282 457 1107 471 1154 452 1188 423 1107 476 1124 393 1216 410 1123 482 1284 433 1051 456 1107 471 1181 455 1154 449 1084 421 1050 458 1238 457 1224 419 1206 442 1264 312 1049 434 1195 438 1248 359 1084 430 1149 413 1133 437 1184 400 1151 413 1162 425 1263 372 1086 407 1128 390 1073 438 1133 433 1285 377 1238 439 1207 439 1215 411 1110 473 1154 453 1224 386 1234 420 1154 436 1183 397 1248 365 1284 439 1150 380 1075 439 1051 464 1255 352 1127 422 1134 413 1127 413 1154 439 1207 426 1322 418 1285 396 1111 483 1181 415 1148 294 1285 402 1278 468 1243 460 1150 416 1291 310 1184 437 1124 401 1215 431 1312 360 1245 460 1215 486 1159 387 1051 441 1393 431 1244 319 1213 396 1204 458 1184 434 1225 481 1083 432 1184 442 1204 400 1073 463 1284 397 1149 392 1225 403 1213 358 1171 404 1183 433 1146 401 1285 392 1219 479 1049 481 1179 387 1154 443 1194 431 1132 470 1194 356 1124 387 1084 481 1225 435 1245 330 1248 355 1168 470 1184 473 1281 391 1225 419 1049 464 1049 477 1179 416 1180 409 1264 409 1049 483 1168 410 1051 469 1086 406 1225 442 1248 373 1146 401 1149 443 1050 460 1179 423 1150 453 1225 403 1154 354 1049 472 1248 416 1255 422 1233 457 1196 418 1134 391 1187 444 1084 430 1095 466 1321 339 1153 428 1051 464 1283 348 1154 488 1153 445 1146 435 1245 378 1146 461 1150 396 1153 446 1235 418 1124 468 1153 426 1153 401 1213 402 1265 400 1149 463 1118 423 1051 457 1225 413 1084 475 1292 429 1128 336 1238 372 1223 452 1179 430 1196 413 1133 412 1217 432 1133 470 1074 465 1393 457 1285 422 1196 425 1238 364 1277 481 1285 392 1095 465 1128 370 1291 326 1153 446 1225 354 1312 363 1084 481 1049 443 1196 445 1172 448 1265 362 1244 421 1165 418 1184 411 1189 471 1311 406 1238 400 1282 322 1085 333 1233 402 1133 416 1234 416 1248 386 1276 461 1134 481 1107 468 1188 415 1124 434 1129 414 1227 314 1180 445 1264 361 1123 399 1248 347 1150 386 1118 456 1151 446 1291 427 1146 443 1154 400 1149 412 1146 442 1184 424 1290 381 1183 435 1131 417 1184 457 1154 410 1256 456 1134 385 1285 400 1277 436 1358 436 1242 471 1277 458 1073 451 1149 388 1128 402 1129 415 1049 446 1086 451 1143 441 1073 448 1150 410 1195 270 1220 443 1263 334 1170 441 1322 403 1150 432 1149 437 1242 424 1116 486 1255 365 1282 317 1284 362 1284 415 1265 396 1238 454 1163 449 1239 417 1233 491 1133 486 1049 432 1129 427 1129 430 1291 410 1133 488 1146 433 1084 431 1263 429 1084 454 1084 448 1187 402 1246 427 1295 390 1177 438 1219 458 1213 425 1133 442 1149 397 1263 421 1124 434 1239 402 1219 416 1133 464 1134 431 1285 405 1154 456 1296 471 1123 431 1178 439 1049 453 1127 442 1134 359 1357 449 1312 427 1219 425 1095 440 1292 435 1234 392 1181 433 1134 410 1234 449 1285 427 1150 432 1143 439 1195 458 1215 495 1235 419 1312 429 1179 444 1148 246 1321 391 1110 471 1095 467 1153 399 1150 455 1131 350 1153 449 1134 395 1153 425 1149 445 1248 315 1184 441 1292 385 1133 374 1073 421 1129 480 1095 456 1224 388 1095 463 1109 376 1283 310 1320 413 1291 419 1246 423 1246 422 1153 445 1263 336 1255 367 1176 410 1264 432 1319 455 1196 456 1116 417 1239 407 1149 481 1239 426 1243 491 1142 449 1246 385 1132 399 1133 377 1146 417 1263 470 1154 433 1149 420 1181 450 1233 376 1134 454 1239 369 1284 344 1179 418 1146 429 1050 466 1123 412 1133 478 1220 378 1131 423 1051 452 1292 375 1278 443 1214 405 1195 244 1133 411 1282 412 1095 453 1225 390 1235 403 1299 405 1222 416 1183 399 1246 433 1225 391 1128 400 1133 430 1073 444 1290 351 1095 457 1168 392 1133 455 1153 417 1234 423 1154 449 1084 411 1246 387 1129 352 1284 431 1145 481 1234 429 1150 452 1150 503 1245 411 1110 480 1183 423 1131 438 1245 429 1248 343 1128 428 1149 444 1234 423 1150 393 1239 362 1264 339 1131 434 1085 324 1255 327 1213 318 1238 423 1255 378 1150 389 1233 399 1150 456 1238 437 1151 357 1225 446 1188 456 1149 469 1128 486 1276 442 1134 427 1150 436 1234 437 1214 446 1264 351 1096 467 1132 397 1225 436 1184 426 1083 449 1254 309 1245 363 1256 470 1153 449 1284 448 1255 404 1049 447 1131 442 1187 439 1239 423 1051 501 1224 448 1196 392 1074 422 1133 431 1084 443 1238 457 1285 355 1150 400 1153 426 1196 412 1131 465 1153 454 1263 300 1229 413 1285 399 1284 416 1292 453 1239 361 1234 420 1254 399 1154 434 1084 457 1229 396 1254 459 1129 403 1195 474 1291 426 1167 423 1096 457" fill="none" stroke="none" marker-start="url(#mb)" marker-mid="url(#mb)" marker-end="url(#mb)"/>
</g>
<line x1="1050.9" y1="462" x2="1393" y2="417.5" stroke="#F0554C" stroke-width="5.2"/>
<line x1="1050.9" y1="456.3" x2="1393" y2="403.4" stroke="#16A82C" stroke-width="5.2"/>
<line x1="1050.9" y1="447.2" x2="1393" y2="379.5" stroke="#4E82EE" stroke-width="5.2"/>
<rect x="986.1" y="115.2" width="436.4" height="411.2" fill="none" stroke="#333" stroke-width="1.1"/>
<text transform="translate(1059.1,165.6) scale(1,1.045)" x="0" y="0" style="font-family:'Liberation Sans',sans-serif" font-size="28.3" text-anchor="middle" fill="#000">r<tspan dx="7">=</tspan><tspan dx="7">0.28</tspan></text>
<text transform="translate(316.4,562.3) scale(1,1.045)" x="0" y="0" style="font-family:'Liberation Sans',sans-serif" font-size="30.3" text-anchor="middle" fill="#000">FIN</text>
<clipPath id="cpFIN"><rect x="98.2" y="568.8" width="436.4" height="411.2"/></clipPath>
<g clip-path="url(#cpFIN)">
<path d="M368 910 335 915 379 918 368 943 358 914 282 900 322 891 380 916 283 929 348 816 372 921 300 883 262 919 315 873 361 820 306 901 337 852 279 899 234 918 322 826 270 913 378 920 361 783 316 869 212 921 315 900 246 933 205 892 317 895 335 903 212 944 476 870 335 795 435 817 301 913 289 890 216 923 358 853 394 905 477 863 256 912 380 872 233 957 338 843 337 915 323 948 257 887 192 925 311 890 343 916 240 913 172 891 477 887 228 851 328 887 307 884 193 867 408 843 353 905 265 933 271 913 328 817 448 905 172 900 348 842 419 900 366 885 328 861 339 868 282 898 261 924 294 948 257 903 328 904 228 891 475 810 408 950 180 889 361 865 180 901 193 814 338 864 326 801 289 911 367 903 193 908 261 914 366 881 335 842 215 901 418 902 392 882 353 863 192 895 350 911 447 877 367 844 180 885 315 880 420 903 420 908 240 925 251 915 361 903 436 905 221 848 270 925 245 898 372 913 337 871 392 890 367 780 368 867 180 913 245 924 306 856 366 899 232 875 405 915 337 886 359 912 209 909 179 861 275 869 448 912 419 900 247 919 314 885 216 925 307 888 374 877 208 910 375 909 362 865 352 824 354 873 312 921 245 885 260 930 172 920 280 907 316 839 312 889 337 840 367 890 357 923 357 824 247 898 447 866 328 865 371 852 217 933 392 916 447 881 210 894 407 889 328 919 367 849 189 806 212 886 173 908 173 885 212 934 328 893 335 883 270 844 315 947 255 830 338 889 173 889 447 881 367 930 447 886 354 911 356 955 315 877 283 862 199 906 321 880 372 910 324 827 237 892 322 831 335 902 230 882 361 808 373 908 282 889 407 837 336 855 338 848 447 910 366 882 221 916 326 901 204 910 239 900 328 876 271 919 206 884 352 861 234 878 324 926 354 776 242 905 205 911 392 896 255 765 353 920 314 897 306 932 339 883 407 913 179 911 270 914 407 892 247 898 208 916 351 903 192 919 334 892 265 837 321 753 254 832 282 906 315 908 475 878 328 859 265 916 247 909 360 871 316 879 228 926 221 926 320 835 447 810 232 888 239 914 433 897 342 878 266 896 179 926 247 902 217 918 199 912 181 919 199 894 315 843 476 874 360 893 335 827 192 910 208 919 315 792 360 938 373 886 360 872 257 930 301 925 371 888 367 896 247 902 179 946 306 870 279 901 447 879 315 918 307 884 419 888 371 883 245 906 338 873 254 911 258 946 351 872 285 906 215 891 367 895 327 839 173 869 245 875 265 907 395 905 245 889 279 915 295 911 348 881 173 895 367 900 420 898 361 879 202 886 245 904 172 895 348 803 379 937 193 916 307 924 366 856 380 898 374 881 268 915 234 895 246 904 274 886 260 865 256 822 282 893 205 880 282 896 265 920 262 903 205 872 433 883 212 892 329 924 278 910 305 905 334 847 351 773 436 893 338 878 235 916 252 898 172 890 285 918 192 904 320 954 204 912 217 907 229 948 265 904 338 885 352 859 174 892 265 912 271 907 436 818 278 897 339 923 357 871 252 871 329 835 217 912 374 923 240 906 243 913 270 887 316 846 180 876 405 913 193 924 419 894 300 946 300 884 238 900 232 927 328 854 314 890 193 864 368 871 349 844 266 928 321 752 180 843 217 905 231 811 312 882 348 864 234 936 338 866 300 905 294 896 217 906 336 855 222 903 268 923 357 821 262 866 212 913 418 904 372 896 475 893 268 895 257 919 406 927 343 691 393 907 179 894 205 874 270 919 334 902 419 911 237 895 338 886 298 901 361 850 368 891 274 866 447 781 279 878 408 899 270 944 447 899 264 914 448 899 181 918 327 828 276 904 204 904 279 905 379 887 193 814 265 954 312 864 306 906 274 902 367 885 380 915 367 836 321 931 298 907 205 925 407 898 357 894 367 846 407 913 395 902 217 922 380 837 324 862 192 875 217 931 407 817 312 925 217 907 322 861 268 832 210 913 201 844 257 914 214 927 245 886 236 901 279 836 245 923 321 857 222 935 271 875 418 925 205 913 233 914 328 846 307 901 268 912 366 897 267 904 283 928 229 927 368 818 315 889 448 894 335 937 406 908 270 894 368 891 338 780 395 922 265 896 307 832 270 836 309 834 204 891 222 927 368 906 199 942 297 901 261 872 230 913 343 902 245 910 394 915 368 894 394 810 377 876 173 874 199 929 366 861 265 935 321 930 350 838 337 894 265 900 362 902 217 917 335 900 324 878 433 882 368 864 366 872 296 940 254 885 326 874 265 917 295 867 338 867 349 849 228 924 407 908 281 868 192 905 278 920 433 883 173 870 294 868 214 898 282 867 252 930 354 910 420 917 371 925 264 946 279 877 266 861" fill="none" stroke="none" marker-start="url(#mr)" marker-mid="url(#mr)" marker-end="url(#mr)"/>
<path d="M218 901 358 893 173 925 217 909 192 877 232 945 394 875 358 770 368 910 269 837 307 876 235 901 315 947 257 879 265 873 379 860 368 839 268 859 266 923 228 904 298 857 298 896 201 893 367 923 334 947 343 915 350 833 257 855 204 924 348 860 321 882 227 894 229 902 367 860 173 855 265 885 352 848 305 899 325 710 247 893 362 820 392 904 476 898 349 856 277 914 447 893 245 883 260 903 174 844 380 905 274 900 395 904 307 852 368 899 362 883 199 909 262 906 295 903 295 920 217 906 371 871 321 880 368 887 234 895 339 899 261 922 361 808 379 860 180 930 289 907 349 877 268 903 368 897 205 904 367 862 328 847 173 841 311 841 350 896 231 903 305 899 433 887 266 907 247 904 477 862 231 931 269 855 301 888 475 840 309 918 321 934 293 855 333 913 348 834 380 907 294 885 257 917 201 917 337 859 367 840 201 910 379 917 270 898 267 827 357 841 337 883 349 778 226 957 394 883 407 873 236 868 371 914 237 886 314 872 328 841 239 892 324 840 273 901 268 894 349 808 269 903 193 912 283 917 232 903 209 904 447 910 359 894 217 919 367 943 407 907 180 873 334 815 270 854 217 903 367 814 305 856 180 846 321 887 328 812 231 916 254 817 353 918 266 890 406 921 232 885 447 845 267 934 228 922 180 895 235 911 201 915 368 808 290 880 392 909 357 884 206 899 315 869 348 891 258 922 368 872 173 898 269 885 270 789 320 882 274 866 205 895 236 928 321 803 326 866 289 873 374 885 333 805 180 880 335 834 433 888 323 920 334 842 367 893 203 892 418 905 368 875 234 909 270 900 173 863 246 883 201 912 370 896 279 877 193 880 321 902 262 896 305 913 172 869 237 897 243 930 307 846 320 817 343 758 199 875 367 831 266 842 180 892 265 891 329 842 291 798 338 843 296 907 279 909 281 907 338 757 307 912 265 879 179 884 362 877 434 909 300 928 294 883 307 891 296 908 258 833 368 888 217 905 298 912 203 946 289 915 373 901 373 891 198 881 173 876 274 910 257 923 212 931 261 865 351 801 180 898 338 755 322 863 329 836 338 819 392 884 172 909 343 930 360 812 295 881 273 892 447 881 179 897 268 887 312 860 268 887 339 915 392 935 408 879 327 905 326 853 337 861 238 939 172 901 368 882 306 909 251 903 328 870 361 890 321 893 306 872 351 887 305 844 366 890 451 777 261 835 307 869 392 887 192 822 214 886 372 902 297 896 266 891 337 879 180 888 367 860 367 889 311 859 271 784 436 890 206 924 279 830 264 936 192 872 315 810 322 917 328 881 173 907 338 895 246 864 229 897 245 901 305 877 419 866 298 876 354 860 305 902 392 887 372 874 336 742 315 856 328 883 238 912 193 896 358 839 260 907 217 916 366 872 247 922 216 907 368 882 434 865 172 872 419 918 434 905 174 872 210 852 338 787 289 897 407 926 261 901 298 910 348 881 301 864 256 912 366 873 314 883 278 908 172 915 322 764 309 882 475 878 326 835 232 940 315 861 316 907 314 893 193 863 315 862 368 839 180 859 476 868 254 893 280 851 199 915 324 854 318 928 433 862 234 902 199 918 239 914 275 830 204 906 243 885 338 905 265 879 275 928 395 889 261 910 172 890 326 818 258 902 172 826 357 841 180 845 199 903 368 913 279 885 436 916 315 847 172 910 365 852 192 856 221 906 237 878 295 901 366 860 379 861 266 852 173 854 324 816 297 885 367 845 368 797 245 897 373 918 298 895 221 861 269 809 371 897 352 818 334 778 360 879 213 901 240 898 371 887 271 899 204 909 283 885 247 905 230 895 475 868 215 877 229 897 209 878 275 904 368 884 476 877 283 853 192 883 323 876 215 882 234 863 173 894 268 875 371 899 334 794 199 942 419 874 366 860 327 874 193 887 359 857 199 907 343 851 251 927 294 951 172 929 323 870 447 868 192 903 320 842 261 867 267 886 261 894 237 849 350 794 276 868 375 880 316 908 270 851 192 919 209 902 265 881 380 898 179 926 192 871 408 898 436 884 257 905 205 929 317 910 407 892 294 910 193 886 392 890 260 863 368 904 368 898 372 911 269 868 366 880 353 809 261 884 213 904 312 882 179 878 257 877 216 877 318 837 315 875 329 876 338 853 260 920 366 868 344 673 349 851 368 901 214 890 433 883 281 920 230 915 343 740 312 878 406 866 193 873 338 824 270 898 285 905 306 881 392 923 309 922 329 817 278 889 180 945 342 876 322 838 181 890 261 898 379 850 447 887 180 883 306 902 349 826 247 874 349 819 406 912 217 914 245 912 301 919 358 802 361 818 243 912 283 863 405 919 371 876 307 924 205 904 434 887 283 909 377 884 373 834 278 887 270 845 221 915 282 895 306 882 285 875 217 892 201 895 350 879 300 912 228 877 333 876 193 845 350 932 282 902 380 891 328 838 233 884 245 931 379 912 406 910 254 919 270 861 271 887 362 906 374 895 419 911 217 895 179 863 337 878 247 889 367 930 448 816 265 871 447 883 251 887 283 893 329 833 419 916 286 911 380 906 326 834 420 886 338 837 368 876 419 920 447 862 237 905 294 845 338 757 208 884 329 866 192 893 215 882 328 834 338 852 291 839 230 880 282 912 214 894 322 929 268 904 267 904 318 901 202 903 216 912 239 913 300 879 242 930 278 863 258 874 192 927 420 847 270 896 270 803 245 878 253 910 246 880 300 886 318 852 257 875 337 788 246 905 268 866 329 899 217 916 322 807 279 909 213 929 205 888 264 942 343 859 447 897 279 925 279 909 350 906 294 884 392 892 351 879 265 906 267 915 328 884 255 785 180 874 204 878 366 884 298 914 204 882 348 891 360 832 254 780 198 917 266 897 372 860 322 761 209 884 252 869 231 912 274 917 270 894 265 876 257 904 338 877 269 906 193 894 405 882 366 917 173 903 321 909 179 912 337 821 394 910 255 839 373 864 243 901 368 884 271 857 447 866 206 898 434 886 258 929 367 877 243 867 477 841 377 915 274 921 350 804 265 905 418 887 361 867 294 888 252 920 367 894 309 865 367 836 245 943 372 907 300 888 266 869 205 932 342 890 379 901 324 877 371 878 278 917 335 874 406 904 434 847 407 880 275 908 368 892 448 826 266 912 173 896 337 882 172 849 216 872 392 913 172 857 180 906 476 869 377 928 237 938 217 910 307 904" fill="none" stroke="none" marker-start="url(#mg)" marker-mid="url(#mg)" marker-end="url(#mg)"/>
<path d="M262 882 336 863 296 827 436 903 306 865 335 894 298 918 295 870 321 937 266 875 476 883 337 871 380 887 266 880 475 898 348 887 368 847 271 931 209 930 252 854 379 918 273 847 283 895 366 789 318 860 419 894 260 868 257 888 395 875 315 880 447 822 179 837 260 843 228 887 271 909 348 888 338 842 205 902 365 853 273 878 338 857 217 884 236 904 349 833 274 870 338 855 337 774 290 903 407 899 393 919 318 867 394 900 315 870 281 902 419 901 338 835 328 828 366 842 269 823 350 849 408 903 328 788 392 900 216 924 257 847 173 848 173 902 320 840 361 858 173 867 201 870 251 885 275 898 309 855 301 924 181 847 260 874 350 802 204 931 359 881 305 826 448 850 307 761 361 902 278 877 279 896 239 898 379 856 215 908 407 920 306 847 307 909 360 924 192 853 395 904 315 858 406 906 198 864 180 884 229 880 366 855 418 925 271 928 328 903 448 902 173 872 274 872 266 910 258 891 274 911 199 900 257 852 477 842 199 908 314 856 192 896 368 860 334 832 447 903 215 901 228 905 229 921 206 899 368 914 368 810 447 884 367 857 408 900 239 889 379 884 229 900 371 889 217 919 173 875 179 833 350 823 407 897 181 855 235 904 433 883 337 795 420 884 392 891 328 864 322 868 367 901 193 842 311 858 208 878 321 902 315 923 210 922 366 822 173 838 274 899 291 816 314 876 237 924 283 887 406 925 210 904 216 907 392 901 192 880 266 866 372 909 339 919 328 934 337 809 336 839 338 875 392 925 180 905 337 864 296 896 373 914 349 831 270 874 213 916 324 845 243 909 374 870 179 919 360 881 348 841 173 894 270 935 379 883 269 880 367 881 328 901 329 895 223 827 180 921 204 886 193 880 476 841 270 816 217 876 315 871 307 911 279 888 328 789 420 900 337 840 361 803 334 873 407 900 474 779 335 851 317 857 192 900 372 881 217 922 448 895 266 853 252 914 336 800 380 868 283 853 173 846 213 914 337 850 278 909 395 903 254 835 212 922 233 872 299 741 337 830 328 891 326 835 336 848 265 887 407 912 406 852 326 806 235 872 338 816 285 876 343 792 353 876 408 898 271 911 353 811 245 918 359 866 315 861 335 891 333 839 320 866 180 892 214 913 349 869 350 866 262 913 420 856 349 787 180 902 327 893 320 860 270 919 296 865 192 888 361 785 232 861 173 860 380 894 173 904 312 878 201 906 279 887 296 891 377 902 273 935 350 871 253 854 338 897 251 900 229 879 270 853 266 868 265 931 367 852 447 887 406 877 322 875 336 793 328 864 198 907 366 899 338 871 328 859 373 858 266 945 180 857 321 891 279 918 447 895 317 867 360 814 247 884 215 898 419 910 394 750 326 800 270 931 221 912 321 864 286 878 251 868 338 811 315 883 280 909 173 866 193 892 318 844 343 829 366 926 307 877 394 706 407 869 305 901 368 889 228 895 205 883 192 899 283 886 270 891 201 909 252 884 380 895 306 853 326 849 307 848 448 799 209 904 233 874 265 894 262 908 310 898 394 836 336 882 368 884 394 910 210 950 238 895 279 884 326 915 254 892 325 836 230 892 209 884 476 884 448 907 360 882 476 887 321 872 201 914 245 871 301 847 296 858 322 913 419 896 475 856 279 831 180 869 180 873 271 863 354 866 337 874 315 907 338 662 193 906 217 897 358 694 179 909 301 901 321 929 476 859 293 885 368 843 201 903 205 914 199 907 408 873 394 768 406 874 338 868 305 850 279 859 245 870 289 863 201 918 228 898 361 851 173 811 418 909 316 889 360 874 407 895 173 907 235 913 252 939 350 849 252 903 407 892 371 889 271 825 254 907 321 842 366 853 245 903 335 868 267 890 392 888 217 907 173 856 357 916 270 824 360 856 476 852 282 882 447 886 284 898 338 776 393 824 296 912 293 895 228 920 360 861 257 891 362 891 228 899 230 934 348 885 368 867 289 907 289 931 266 898 282 847 394 903 262 924 180 884 392 861 379 894 209 905 270 909 324 818 214 903 275 920 395 894 180 898 418 904 198 910 360 860 253 882 372 859 407 795 312 913 266 869 192 902 361 864 293 867 433 867 420 913 336 803 361 899 360 840 209 930 328 894 306 834 284 909 350 826 243 892 245 909 217 890 338 929 395 892 434 867 309 842 324 920 306 869 354 822 265 884 334 878 193 901 234 895 179 876 282 866 222 909 419 887 204 896 193 877 181 886 199 890 229 889 337 815 262 931 239 904 270 910 436 862 252 911 336 888 275 902 208 913 358 779 215 901 180 903 221 839 286 902 436 907 261 865 337 776 180 878 210 899 180 934 328 876 419 894 334 865 227 899 350 846 314 858 299 748 406 887 221 896 338 874 314 858 276 887 258 884 290 903 361 835 350 871 193 871 173 893 328 865 269 891 309 908 314 879 270 881 299 706 265 905 257 900 307 891 450 715 372 885 221 924 270 890 270 785 210 913 232 890 192 811 324 870 379 865 327 833 172 862 326 925 268 853 374 893 419 915 209 907 267 887 436 876 367 876 274 919 173 861 275 902 256 828 289 903 173 882 360 801 235 893 328 781 433 877 262 890 324 897 361 833 269 929 275 843 295 882 337 889 348 846 322 845 321 790 315 886 307 862 367 888 392 913 181 879 366 870 358 915 173 852 339 813 221 883 264 901 337 862 372 926 361 803 268 887 203 894 199 925 204 881 318 893 279 859 436 881 210 875 361 941 392 865 435 830 447 875 266 881 380 852 181 864 299 736 232 908 306 885 337 773 173 873 380 879 270 889 215 931 342 850 192 916 192 888 366 847 193 844 324 750 368 886 239 911 217 907 329 829 322 871 212 877 368 884 193 849 317 800 406 876 315 856 296 890 279 914 242 851 192 870 351 876 267 896 258 880 206 883 338 860 477 889 350 874 205 909 324 789 361 851 290 912 372 877 252 850 233 897 408 901 372 884 265 885 448 825 232 933 317 902 359 887 323 778 325 703 309 825 320 895 253 896 323 843 283 882 268 923 392 885 251 887 337 870 254 843 173 849 374 892 208 926 294 870 377 924 337 836 475 876 475 823 279 911 233 880 215 907 360 907 242 920 328 880 307 915 229 948 349 853 255 774 476 819 264 896 180 867 282 907 328 864 366 895 359 911 246 922 295 898 367 817 338 903 173 881 379 874 247 892 406 889 324 863 286 852 216 903 173 848 360 868 180 913 367 821 295 808 260 860 217 917 372 877 337 894 310 887 448 904 180 885 395 926 294 909 309 937 336 794 199 861 320 802 316 811 316 839 279 931 368 913 371 906 306 814 368 862 358 868 321 847 371 912 234 864 314 901 394 839 309 896 354 825 370 750 180 901 265 917 350 768 477 847 418 859 266 866 192 863 192 866 279 899 205 822 279 842 205 894 322 837 228 924 377 905 333 881 232 781 359 912 317 887 368 856 352 878 350 793 322 888 366 885 336 843 447 864 372 895 235 908 433 891 315 846 342 889 262 892 264 909 254 889 252 908 371 894 205 881 314 912 251 917 192 890 320 950 335 925 360 898 215 886 173 867 477 884 327 867 349 877 368 864 260 852 365 847 338 900 193 907 233 919 173 854 245 896 447 894 351 737 328 879 365 848 320 862 394 915 262 920 447 886 380 879 314 889 255 914 321 933 361 851 447 902 314 822 246 863 392 901 269 873 371 882 217 895 266 891 221 916 419 900 307 935 307 893 192 879 335 821 342 840 265 908 447 848 393 899 254 870 361 872 192 877 309 847 233 878 408 898 315 901 212 895 361 920 337 869 260 888 246 884 270 931 173 881 407 779 199 933 315 877 337 897 279 884 475 869 235 869 312 877 252 879 255 814 265 916 283 899 214 882 367 865 180 883 361 906 343 856 418 904 213 894 209 906 199 888 268 936 198 871 180 905 180 902 246 850 407 906 258 922 258 877 334 867 321 858 295 890 337 778 407 803 368 891 419 904 348 890 337 853 179 890 315 879 275 916 328 844 246 896 237 903 371 868 265 887 348 748 316 884 326 884 296 865 367 879 436 865 378 894 368 878 296 844 343 874 266 912 262 921 192 902 393 876 329 868 312 884 237 893 314 848 321 823 352 896 270 925 343 878 243 855 193 907 371 899 274 868 361 800 172 842 246 924 350 782 228 905 257 871 257 909 261 887 448 861 232 933 265 852 354 891 328 758 293 886 209 898 228 880 406 901 321 864 180 901 243 896 361 931 293 899 173 923 359 870 377 914 307 851 312 880 180 903 475 875 173 843 406 872 338 785 180 896 326 870 333 899 324 837 327 872 447 907 261 927 246 876 344 640 419 910 216 914 193 841 270 888 475 879 294 858 372 874 343 872 352 833 265 872 282 924 307 900 352 856 324 845 257 883 264 897 324 859 245 894 321 877 350 774 448 859 265 899 329 901 181 875 264 899 235 875 234 924 240 880 315 919 271 896 368 913 368 867 216 915 476 878 293 901 260 888 209 892 239 913 418 914 265 923 273 869 293 874 326 802 405 863 217 910 368 884 339 886 447 893 358 840 283 901 328 916 261 856 447 861 315 890 328 828 349 851 321 837 201 899 334 786 209 932 436 869 361 852 245 876 324 820 201 929 232 866 338 831 275 903 406 807 193 871 255 747 215 913 418 889 260 880 271 913 339 845 334 901 367 858 338 858 192 899 214 872 305 898 267 890 253 886 217 915 265 897 268 920 215 916 477 861 228 871 324 877 380 892 193 897 337 851 360 803 204 902 233 918 209 925 274 852 251 872 181 874 374 912 321 751 297 884 228 836 192 890 253 917 192 899 367 881 348 862 326 873 353 845 306 830 193 890 295 863 477 872 318 857 253 909 368 849 379 880 291 809 379 876 371 848 275 862 208 912 342 850 205 924 281 906 198 897 418 869 245 903 285 780 173 891 372 879 307 854 337 831 393 893 368 892 265 870 314 877 348 864 362 815 213 902 283 929 418 852 361 775 265 864 206 905 368 850 321 926 419 888 283 887 179 899 371 945 212 895 371 891 193 869 233 915 377 868 335 779 293 913 418 915 260 897 192 882 274 892 408 877 407 903 367 921 221 887 329 837 279 863 354 889 278 915 283 894 447 850 322 852 172 886 181 903 351 799 228 861 368 830 448 894 193 890 392 903 314 910 475 860 274 904 267 905 239 892 315 838 351 822 192 927 212 931 180 864 395 860 228 900 339 824 324 908 475 840 209 939 311 859 243 915 173 905 343 644 217 911 301 877 337 742 192 920 316 888 239 880 379 896 206 869 367 813 395 906 367 848 350 848 270 869 379 897 274 927 269 917 291 831 229 868 172 933 372 879 252 903 419 861 299 894 359 918 180 835 212 907 239 917 315 887 328 900 277 900 245 858 192 864 192 857 367 864 315 931 294 855 379 891 433 853 213 905 270 859 180 784 328 837 436 894 281 911 361 820 436 881 476 857 367 842 477 866 201 913 374 862 215 880 334 880 172 870 283 892 318 875 328 840 359 824 329 823 351 861 361 842 271 924 314 849 294 887 180 889 223 815 253 905 366 913 282 902 285 909 280 886 253 885 379 916 322 846 180 821 260 901 204 906 408 925 300 910 265 889 199 896 215 899 253 891 349 842 349 858 261 909 448 899 379 870 246 872 295 862 337 816 324 897 265 908 324 853 433 896 321 890 448 856 261 902 247 914 234 894 307 891 298 879 240 915 336 893 201 925 337 803 377 866 315 872 360 892 367 893 373 873 435 902 307 845 338 772 254 846 232 907 433 867 359 932 270 893 206 920 365 848 270 919 298 847 447 872 298 909 336 883 365 864 282 903 271 826 342 867 339 899 290 875 212 883 203 891 266 932 367 898 392 883 372 894 316 861 307 898 268 905 406 884 257 843 267 867 316 954 245 888 282 858 357 898 293 898 257 900 317 862 179 832 311 877 253 893 379 888 328 863 273 909 339 869 199 891 245 891 307 919 392 876 237 876 373 896 264 860 203 885 360 802 281 868 350 813 274 869 368 852 368 874 257 848 274 901 343 848 408 869 281 905 351 847 233 868 351 794 254 908 353 868 222 898 321 806 408 893 312 923 358 885 204 927 362 866 239 886 394 883 315 888 269 853 242 892 239 927 373 909 315 816 172 855 407 889 210 930 314 851 192 859 358 716 337 880 380 924 322 879 323 886 337 929 392 887 229 903 285 922 314 893 205 910 208 906 373 895 180 885 285 920 298 873 286 878 368 883 279 911 172 852 270 897 366 859 279 881 237 867 322 845 315 897 351 924 280 868 295 901 289 884 357 832 234 874 436 852 297 916 262 892 352 843 406 902 367 835 317 879 214 890 173 883 192 900 320 847 330 672 316 887 436 881 360 872 228 896 316 887 368 917 367 910 270 876 229 899 321 864 328 825 278 900 245 894 476 893 262 890 179 885 334 889 260 854 328 899 418 904 233 887 203 912 172 890 230 925 326 901 268 898 214 886 283 882 338 891 337 868 373 888 321 865 358 817 337 889 366 899 320 797 305 942 246 878 358 791 212 883 307 839 367 892 213 919 298 920 335 915 270 868 181 858 215 890 296 910 239 936 209 884 327 909 214 935 395 871 261 900 350 814 349 864 312 846 280 927 237 884 192 852 228 858 329 867 228 873 323 894 278 883 172 889 199 874 343 819 367 898 239 913 406 903 228 882 234 918 228 893 222 887 282 927 205 865 199 884 181 847 350 867 269 906 448 905 339 896 274 911 406 907 354 824 257 879 348 819 270 902 475 866 367 803 312 905 193 845 379 874 239 895 312 938 339 916 352 831 193 840 218 896 173 919 246 898 373 861 264 926 314 799 305 855 367 850 281 930 298 919 316 857 475 875 208 925 273 864 228 949 366 876 210 905 309 909 293 916 309 858 321 827 419 888 278 879 275 907 350 805 361 909 366 915 216 880 436 879 407 881 372 900 295 868 198 925 477 882 237 905 367 880 407 907 237 923 316 880 218 899 368 853 270 930 433 853 338 794 295 889 253 894 368 888 360 867 261 877 394 874 477 877 307 863 231 885 361 903 180 861 334 841 192 895 192 898 229 885 321 817 323 914 255 903 407 907 318 871 329 874 266 879 333 857 271 889 420 878 198 901 258 843 265 887 447 876 289 931 408 901 260 915 368 890 283 899 418 865 271 928 322 879 360 906 212 894 296 895 343 660 338 918 274 925 239 924 260 908 309 877 247 892 201 897 237 927 366 802 271 887 253 816 362 878 328 856 270 916 262 938 328 833 367 857 217 915 394 779 209 928 351 906 253 874 306 891 359 812 240 948 230 885 366 880 253 890 282 860 368 897 360 892 265 898 199 911 265 904 193 901 307 917 366 941 450 728 231 889 228 900 268 870 377 898 367 837 283 911 350 835 298 913 318 875 476 819 270 861 279 858 180 897 333 823 173 841 333 826 368 886 362 754 336 803 360 863 392 896 192 855 447 897 362 898 192 856 199 887 217 895 322 855 246 908 433 857 205 800 447 904 240 912 380 904 193 857 217 937 395 896 237 865 366 902 357 917 203 906 361 860 448 892 212 894 195 952 180 868 418 923 205 892 392 909 306 882 173 882 314 794 326 906 343 937 289 901 349 900 204 904 358 883 434 886 173 915 349 827 210 906 394 904 316 894 337 744 298 877 371 874 274 708 335 846 309 919 212 924 408 907 217 916 173 832 349 798 371 894 270 870 257 919 337 897 476 887 274 927 333 792 343 738 318 919 338 831 339 883 354 930 306 860 360 893 361 816 289 906 273 846 173 904 314 865 367 902 337 845 315 911 350 864 307 921 394 882 209 891 315 864 337 904 243 913 407 866 243 927 408 908 172 864 368 885 392 899 180 907 270 913 279 892 310 925 392 922 366 876 290 873 348 884 343 907 266 886 316 861 371 907 270 882 268 912 337 778 476 816 338 865 270 892 320 861 174 884 279 866 368 875 285 875 217 907 477 871 237 911 419 906 328 854 265 876 193 839 239 850 337 824 228 894 372 919 180 894 230 894 336 881 267 873 298 850 392 837 349 851 279 891 294 889 172 895 228 883 368 881 322 811 315 886 192 887 173 912 269 883 282 902 173 878 349 779 181 821 436 885 264 870 343 818 173 890 352 902 321 889 261 904 334 828 192 878 282 886 192 873 352 842 193 847 476 875 284 874 394 897 359 689 337 780 261 943 372 874 283 861 378 875 395 923 212 884 395 911 433 861 204 898 306 793 476 858 395 906 282 896 324 923 419 881 217 914 173 887 180 912 212 873 172 866 447 895 296 925 433 847 365 839 192 907 307 895 372 897 348 915 333 797 334 891 214 916 361 871 270 912 201 917 180 888 336 851 373 869 350 872 418 904 476 897 323 803 221 862 447 866 307 813 252 884 361 921 315 887 379 874 173 868 354 868 436 861 337 804 433 903 282 912 329 841 349 895 324 892 275 888 334 827 294 838 210 913 285 866 368 859 274 917 173 884 278 909 367 884 306 835 380 871 283 838 173 845 315 897 232 895 448 824 270 923 348 863 296 840 436 870 204 907 361 812 192 853 279 903 173 910 274 952 237 892 395 869 339 859 239 926 252 842 322 850 328 793 296 875 257 897 367 836 265 904 296 941 329 830 247 879 362 852 251 953 312 872 321 831 358 761 419 908 379 890 314 814 262 895 322 795 447 880 203 901 209 877 350 815 275 877 315 912 265 940 350 891 305 818 380 890 477 892 361 924 247 886 336 823 277 935 367 915 337 898 172 895 221 902 232 809 262 870 233 889 368 781 204 892 334 896 294 916 199 891 179 871 370 897 173 903 393 885 285 914 367 889 254 909 305 831 315 888 253 897 193 919 209 887 172 914 227 863 208 901 338 837 243 893 309 920 350 777 238 921 283 882 360 837 373 846 201 885 205 882 180 884 282 860 193 888 295 900 193 874 239 911 476 833 338 888 368 816 205 895 336 870 192 891 283 887 252 875 217 901 193 826 337 880 278 885 205 927 267 899 336 845 235 884 329 883 348 846 253 891 349 896 254 858 205 898 270 889 337 810 336 903 275 887 309 845 324 871 265 919 408 899 321 845 254 879 447 894 380 884 322 866 406 870 349 891 193 891 267 865 296 884 295 864 279 861 230 884 232 932 433 894 173 851 328 848 309 851 328 812 261 866 193 845 199 888 379 849 289 913 419 905" fill="none" stroke="none" marker-start="url(#mb)" marker-mid="url(#mb)" marker-end="url(#mb)"/>
<path d="M242 901 257 888 368 855 419 895 205 920 306 916 343 748 337 796 447 774 321 930 245 898 281 913 270 917 260 954 351 900 193 882 337 856 192 869 270 919 447 882 447 879 316 884 172 892 307 902 173 905 193 794 209 913 242 880 193 947 349 777 172 903 351 900 285 903 222 926 367 880 324 846 204 905 408 862 335 926 232 883 192 870 339 898 268 886 433 911 348 836 338 874 368 891 324 867 234 915 271 833 407 909 407 883 204 911 321 899 307 886 316 874 338 837 261 837 286 902 351 955 270 900 373 907 323 863 173 862 269 939 261 930 308 950 394 816 316 884 181 920 366 892 278 880 199 933 312 876 436 808 348 836 333 902 193 896 235 899 315 894 373 888 334 867 273 939 239 898 372 935 267 881 371 920 406 875 193 855 307 917 367 906 258 898 212 877 296 902 328 875 221 930 373 907 295 862 374 885 294 922 328 872 349 837 436 866 392 882 221 908 173 914 180 898 212 927 335 870 315 893 274 784 265 897 204 920 265 933 475 853 269 897 199 927 180 902 237 881 349 929 233 878 368 889 283 919 233 908 447 932 358 886 243 926 366 910 198 905 373 917 475 825 307 886 209 930 321 818 434 877 350 823 209 864 312 946 274 862 324 889 379 910 179 871 192 860 198 927 307 857 173 872 352 926 264 909 314 887 315 861 337 911 234 889 199 943 360 841 270 892 326 850 193 861 315 861 192 895 372 850 360 873 335 890 199 888 333 857 192 862 244 896 307 856 344 732 306 843 367 885 365 872 367 887 270 896 251 913 333 854 359 849 229 908 351 839 181 840 447 774 392 908 379 893 258 911 353 887 262 849 477 886 283 887 239 917 476 866 366 854 371 880 273 908 274 879 274 910 245 883 271 860 447 865 214 885 261 897 295 907 377 921 270 909 173 859 214 911 368 917 206 903 237 913 366 820 321 772 372 895 349 838 314 882 350 842 333 876 261 918 306 866 325 835 321 886 198 890 360 845 343 793 317 856 300 876 210 874 315 939 217 914 265 918 212 944 392 906 278 931 273 843 407 894 299 782 253 903 276 907 265 894 273 893 172 869 378 914 271 842 316 888 372 891 368 889 359 829 279 907 269 899 232 908 301 853 366 850 260 937 172 884 297 901 273 900 406 906 203 909 367 900 233 920 372 895 180 822 215 916 373 907 294 893 309 859 270 879 215 931 321 800 447 909 193 918 318 921 172 916 361 777 179 915 318 848 343 870 335 820 316 933 274 900 180 905 262 899 260 898 172 752 321 922 205 928 193 828 296 893 368 880 476 904 314 889 293 870 322 848 351 866 265 919 367 871 378 896 408 874 371 883 305 883 283 864 361 873 436 914 321 861 245 948 199 915 244 936 179 872 326 891 217 896 230 915 419 874 338 878 234 919 215 887 265 913 318 898 295 899 338 783 406 884 218 932 368 895 222 890 447 803 172 895 329 858 215 887 348 856 252 941 334 949 173 847 368 894 307 920 240 851 433 902 367 903 307 898 228 904 368 907 306 903 275 932 436 891 193 861 222 820 306 857 368 902 192 898 446 776 337 884 192 885 275 872 315 849 343 906 336 884 349 740 326 873 274 774 204 898 408 887 279 906 315 911 372 874 258 881 336 902 338 871 315 894 295 902 214 911 447 862 320 870 321 874 173 859 261 896 212 919 324 881 253 894 349 790 214 937 447 851 296 924 339 851 395 898 276 895 373 914 337 832 349 873 279 935 301 929 359 848 254 901 368 856 240 918 379 910 271 882 306 787 350 863 204 935 212 891 213 930 305 885 199 900 433 908 173 874 348 877 265 882 265 913 448 842 337 918 367 880 322 851 335 925 358 823 265 898 380 878 343 937 237 920 209 907 309 905 360 929 314 856 360 826 344 671 433 919 379 918 436 884 321 822 230 930 245 805 358 845 406 898 322 907 329 911 260 903 314 899 419 876 436 869 321 905 349 810 290 799 305 847 256 914 315 840 338 841 315 920 374 916 305 890 333 843 296 881 337 863 315 881 372 852 318 910 307 911 243 920 326 872 368 921 260 885 361 892 322 861 193 936 315 881 247 923 407 931 367 820 337 849 221 917 311 816 354 908 359 861 328 840 252 850 328 911 371 900 373 887 173 900 289 881 273 876 296 915 392 890 394 925 337 907 329 841 334 911 298 886 263 885 243 939 216 946 181 877 362 914 295 894 368 916 247 928 202 910 179 922 258 927 239 929 232 869 282 924 279 915 315 893 366 899 329 881 253 909 419 902 335 863 368 867 350 862 367 844 285 913 255 850 296 897 338 761 406 884 407 803 265 879 231 834 343 853 475 867 342 858 315 865 257 912 233 906 180 915 408 900 268 883 239 907 221 898 354 824" fill="none" stroke="none" marker-start="url(#mr)" marker-mid="url(#mr)" marker-end="url(#mr)"/>
<path d="M337 740 373 911 314 874 477 888 343 704 268 908 295 907 252 872 352 857 368 896 260 816 270 924 280 902 394 811 357 826 367 928 296 928 321 921 193 901 337 877 264 915 476 871 408 791 321 926 433 871 373 855 173 866 337 881 435 873 328 853 234 864 270 846 357 861 419 887 247 843 228 941 365 936 368 888 216 934 361 887 362 890 210 921 367 827 258 952 447 887 337 813 348 830 181 907 320 906 192 913 368 777 261 878 209 896 296 852 265 808 322 812 306 833 246 951 408 880 379 876 173 860 273 894 334 839 359 852 362 835 173 898 203 906 289 886 326 844 326 894 172 886 275 914 180 856 294 875 434 867 221 885 305 814 315 864 212 903 336 798 314 871 316 949 328 888 279 894 337 900 270 805 173 895 275 891 316 910 368 849 261 882 448 891 201 882 350 809 270 914 326 933 180 900 222 904 275 946 202 928 306 884 447 883 372 887 276 834 217 887 315 905 251 922 315 860 436 866 173 844 180 915 258 859 240 949 367 892 315 917 173 872 296 897 368 828 323 888 279 904 300 927 240 922 193 893 311 867 274 879 393 895 270 861 329 905 230 904 275 893 450 787 208 879 193 832 322 887 275 904 476 889 374 891 268 907 321 878 328 879 205 930 372 854 306 834 243 869 266 895 447 895 314 890 217 871 193 872 337 885 329 808 181 880 180 906 261 826 208 896 379 918 350 881 234 876 173 864 218 881 352 824 338 784 367 877 280 902 192 900 252 886 266 909 368 864 353 866 260 862 236 907 371 900 338 865 323 868 395 886 394 899 475 920 448 897 314 915 252 897 199 912 349 904 295 878 407 907 180 881 279 790 322 806 246 897 433 786 329 882 275 888 322 792 229 908 266 955 324 809 359 809 394 920 283 898 394 909 351 884 221 913 371 907 208 899 395 879 368 901 205 887 475 821 305 936 394 805 335 828 337 899 214 933 373 891 199 912 296 898 247 905 328 884 217 913 296 889 293 883 366 915 408 847 265 908 351 833 173 927 193 870 180 820 368 917 339 897 173 917 273 920 406 887 172 881 298 878 198 877 367 902 281 907 239 904 337 891 192 875 318 873 181 883 199 899 447 874 289 831 289 841 326 931 268 918 371 865 419 897 326 778 181 851 239 928 257 899 283 912 371 901 372 874 314 897 367 832 277 883 193 900 199 900 335 914 360 885 321 864 354 849 266 911 229 882 314 879 338 951 375 902 360 875 329 926 407 860 266 893 306 882 253 867 209 905 379 904 173 885 173 893 323 781 251 902 350 876 447 875 322 773 239 877 193 929 298 896 358 912 214 917 294 885 329 853 312 858 321 935 217 896 436 888 253 902 316 928 338 918 228 909 392 898 475 896 180 885 237 913 320 869 320 892 247 929 366 891 180 916 306 877 251 919 329 802 357 862 279 873 349 702 316 883 316 908 216 907 352 948 407 879 314 840 338 857 324 811 368 868 172 869 286 844 271 902 447 876 198 901 373 897 318 846 318 859 372 931 395 908 329 830 305 833 281 871 283 925 198 905 339 888 261 796 351 850 317 910 277 897 371 889 285 872 258 936 322 868 293 912 408 892 323 814 436 882 204 897 258 929 333 872 283 912 206 908 338 893 337 823 448 876 217 890 216 913 337 780 339 887 349 840 339 906 245 881 282 905 448 874 316 872 392 916 395 910 350 839 212 930 371 872 213 883 268 890 299 768 228 899 306 916 366 862 328 924 199 919 198 876 306 885 270 848 205 897 315 876 433 894 260 905 205 896 315 861 406 911 337 897 317 884 316 913 323 876 253 915 192 873 406 912 273 891 315 930 202 905 173 901 262 899 366 858 373 861 217 885 315 891 198 911 179 800 329 885 372 888 329 901 252 833 295 922 239 916 379 885 321 896 240 896 337 853 217 904 350 863 447 891 305 859 296 906 348 933 266 948 282 877 372 897 306 861 228 906 328 872 315 880 360 863 322 854 380 888 251 901 337 925 392 916 338 907 394 874 239 922 208 905 180 902 198 857 334 848 216 943 366 873 361 848 362 880 359 910 318 912 317 951 204 874 246 876 271 880 180 900 274 906 366 903 282 874 312 838 379 859 368 886 214 904 380 865 280 938 337 870 351 851 173 842 447 903 315 820 433 892 278 909 265 881 338 853 260 850 338 772 408 909 448 859 334 862 326 866 362 850 351 867 380 853 335 816 232 903 222 819 321 850 407 904 173 844 242 867 243 921 328 849 283 914 261 900 265 905 260 885 206 889 316 858 314 820 270 872 374 890 273 858 269 923 447 845 254 882 394 927 408 876 279 912 199 927 265 937 335 906 365 839 408 881 275 891 342 804 252 897 354 890 172 866 286 880 180 896 367 844 283 912 275 922 271 919 418 915 318 877 243 941 205 892 342 817 359 946 309 877 362 800 247 891 217 904 192 939 476 880 343 893 321 866 325 911 337 870 361 833 373 881 261 865 314 891 379 924 379 870 322 911 275 865 348 826 215 926 279 866 261 893 229 924 379 899 265 897 336 858 301 948 361 851 476 781 228 899 367 874 270 941 326 876 348 873 275 843 373 867 419 887 253 887 180 883 199 888 436 782 192 882 274 913 328 865 179 919 366 927 230 932 368 886 360 872 180 905 218 906 271 904 321 830 237 925 407 838 333 905 179 869 367 924 173 884 328 822 298 891 180 909 447 861 328 843 351 803 307 854 180 902 230 903 335 851 309 903 265 930 343 651 361 811 392 898 342 803 349 949 257 866 436 908 245 903 180 904 448 884 289 931 408 841 373 913 447 869 408 848 237 922 309 878 289 905 181 902 283 905 329 887 372 919 289 867 294 911 307 877 222 891 475 890 237 901 333 845 339 863 368 878 350 846 418 931 309 913 179 889 193 875 336 843 367 889 203 897 368 884 199 909 261 886 476 871 358 879 221 922 326 849 329 957 350 770 361 917 198 917 294 832 274 908 265 884 274 867 228 876 318 906 321 878 193 896 271 918 239 912 296 848 306 890 343 889 267 863 405 887 252 925 247 927 295 901 181 833 321 843 228 882 323 848 245 896 315 887 244 888 338 907 201 911 322 898 239 879 217 896 269 873 447 897 216 899 181 860 380 896 237 872 172 888 316 869 217 925 274 826 192 867 208 920 348 954 221 902 246 906 338 876 285 893 257 899 295 920 315 861 295 901 365 839 328 853 366 928 447 850 181 920 357 949 435 826" fill="none" stroke="none" marker-start="url(#mg)" marker-mid="url(#mg)" marker-end="url(#mg)"/>
<path d="M173 899 264 882 351 881 295 854 361 823 300 924 234 929 339 883 367 918 357 920 243 932 337 858 436 913 394 876 448 858 318 831 214 880 212 855 281 897 282 914 350 828 180 893 343 836 366 906 179 863 352 822 229 889 477 879 433 894 285 752 475 864 281 902 326 887 360 851 312 872 394 904 447 805 214 897 275 875 329 843 221 882 232 906 435 899 285 912 371 859 279 866 361 856 367 897 298 916 433 885 286 913 261 888 353 790 321 848 237 874 250 675 265 902 337 834 360 848 408 923 329 781 408 903 349 852 368 811 406 902 265 903 180 864 324 769 395 889 418 898 180 880 337 803 352 889 202 891 201 909 339 858 257 938 395 891 279 908 214 878 326 792 418 916 199 894 350 805 192 906 377 859 328 861 367 868 367 875 201 902 339 823 337 836 361 840 447 898 408 740 333 913 192 884 261 892 475 838 205 925 193 918 380 910 180 888 237 890 367 874 309 888 229 914 318 911 239 912 315 812 379 912 198 906 359 867 240 885 281 899 204 930 205 903 315 908 208 913 436 888 274 767 373 894 180 847 198 911 245 855 208 911 205 876 392 863 365 892 377 905 337 782 279 894 216 906 251 906 318 867 315 884 265 910 322 870 281 925 333 868 204 924 475 835 405 907 337 734 254 867 310 710 315 906 406 894 351 884 418 904 315 929 271 915 476 845 477 867 209 936 180 892 326 912 181 927 258 920 329 929 193 877 327 859 338 817 328 872 173 834 180 862 254 868 406 890 316 867 406 955 265 881 275 896 407 878 298 862 314 819 181 905 193 874 371 894 395 913 265 888 228 900 245 942 318 884 217 884 261 866 203 911 217 896 336 800 193 874 371 882 180 866 358 904 268 912 475 887 307 901 333 810 362 928 367 903 339 848 234 890 234 891 264 854 294 938 316 892 352 895 358 891 173 886 349 838 475 874 260 918 352 824 201 897 209 885 204 911 338 829 334 887 271 868 266 881 279 917 247 786 268 887 321 830 374 894 289 896 350 864 270 872 328 809 245 851 367 869 338 884 436 832 258 854 179 876 261 878 282 905 380 852 274 894 393 911 290 931 285 863 337 869 407 917 335 856 359 820 217 895 264 889 204 904 295 901 265 909 323 771 300 911 172 880 317 924 300 878 419 894 475 858 298 883 306 866 362 882 329 870 204 872 316 877 298 879 237 883 394 903 239 890 199 903 377 910 289 838 214 867 217 895 265 875 234 906 358 849 368 863 310 872 395 894 336 878 261 925 339 857 328 872 312 857 222 897 228 910 173 866 294 880 233 910 214 894 350 894 205 928 348 868 354 863 321 886 270 874 477 862 282 825 380 909 367 875 329 833 339 793 407 893 271 883 324 797 265 872 312 878 209 917 360 888 395 899 216 919 316 840 329 872 214 886 252 913 343 836 314 887 230 889 324 859 350 808 329 845 180 883 253 900 434 872 406 900 321 849 361 885 326 864 296 853 328 850 180 848 377 909 199 907 333 802 266 870 351 856 179 882 257 897 354 872 210 903 232 875 216 905 406 892 435 896 245 914 314 842 213 916 380 865 360 890 237 918 447 903 377 849 418 900 270 868 257 863 201 921 306 890 368 874 260 909 343 873 214 855 309 878 269 929 295 855 298 872 258 916 206 914 285 935 392 904 318 833 380 879 379 889 337 812 367 879 215 904 205 897 338 854 173 889 199 892 339 851 448 863 433 864 193 874 199 928 314 881 209 899 218 895 217 907 392 868 408 920 280 889 337 880 228 929 275 879 349 821 206 921 338 901 298 893 348 886 337 899 270 869 365 846 395 883 407 853 260 890 180 904 281 886 325 661 247 895 320 875 327 836 372 896 392 920 192 906 245 867 320 819 318 894 296 939 420 897 392 886 279 889 205 882 315 872 193 897 294 930 447 901 222 918 274 894 244 815 180 878 312 862 368 880 394 872 333 842 289 913 258 880 180 892 339 827 367 894 271 878 475 864 253 907 394 881 350 867 362 869 279 883 274 871 337 879 265 894 245 918 314 828 373 875 274 853 333 866 275 929 305 879 217 888 284 902 315 873 260 883 339 786 282 892 274 837 349 901 199 930 338 759 173 896 201 906 392 894 306 845 366 888 251 911 436 887 335 845 322 929 358 626 217 890 266 861 266 903 476 890 448 893 270 905 370 876 335 809 181 889 214 928 380 874 221 900 264 892 283 876 475 867 379 904 318 911 321 902 217 895 214 895 237 897 208 917 351 802 221 935 322 863 192 881 192 863 349 861 343 800 475 763 193 890 232 886 261 914 320 927 251 918 189 803 366 816 359 870 215 904 337 818 251 915 366 846 283 863 270 891 260 887 245 912 294 889 315 859 212 920 271 876 279 855 338 852 406 861 199 913 212 914 268 873 239 929 237 888 294 909 368 849 217 922 295 901 419 898 329 779 368 880 233 893 265 886 247 918 315 895 337 848 338 901 269 929 350 867 254 918 260 868 283 860 192 889 210 912 447 891 266 911 237 893 307 913 290 811 208 921 350 840 258 899 420 890 350 825 310 873 433 894 447 904 275 912 299 718 279 912 270 890 265 898 274 901 271 891 316 825 261 910 231 886 316 881 201 861 373 907 267 900 395 911 434 861 257 860 315 837 436 892 268 896 174 885 336 825 265 926 317 884 307 879 180 849 232 896 359 873 279 893 371 895 315 894 306 840 379 904 276 861 245 860 354 820 336 871 262 878 270 919 366 850 262 892 321 876 270 896 173 896 362 776 326 869 321 885 350 894 266 851 283 867 289 889 322 848 217 931 172 842 309 910 407 892 447 889 373 851 262 903 238 898 172 833 172 869 329 883 324 883 201 868 193 869 269 867 367 886 217 886 192 890 261 886 307 896 419 924 321 875 300 845 394 774 265 902 448 887 307 879 173 836 228 905 362 889 477 870 258 903 307 853 179 900 266 877 419 896 406 889 239 910 266 907 173 863 420 907 275 848 336 848 299 861 343 771 216 873 406 894 283 927 405 912 334 872 338 836 433 873 337 822 265 886 285 849 245 929 349 897 358 805 201 875 204 894 329 905 337 829 315 869 274 903 192 892 172 848 333 818 371 904 343 768 265 773 218 898 321 869 373 890 367 853 262 875 218 896 368 861 321 864 315 810 406 896 199 871 352 907 321 838 293 900 285 874 316 862 199 917 265 873 201 882 204 900 447 747 181 914 181 906 324 858 351 865 192 903 312 840 314 857 334 864 372 859 237 927 296 940 282 907 231 863 325 922 322 909 305 873 305 879 360 876 283 922 436 859 360 768 300 870 419 874 294 887 210 915 418 899 360 833 305 896 337 775 300 886 435 866 407 904 295 873 349 769 419 872 270 917 367 820 351 931 357 890 173 886 173 850 335 837 301 938 477 876 320 688 303 950 405 905 377 882 270 902 245 895 447 874 173 880 235 894 265 905 367 857 343 727 358 872 406 858 300 889 270 917 337 819 271 864 193 921 295 900 362 886 274 941 342 934 296 909 271 880 405 872 326 827 322 850 254 893 337 817 312 954 373 902 271 917 380 869 280 827 228 870 201 837 296 897 206 898 285 909 408 912 245 884 420 866 271 852 230 916 368 850 377 880 261 870 180 853 270 861 418 905 300 939 348 830 366 888 436 866 280 895 316 879 305 857 359 862 243 890 339 857 213 932 180 836 180 846 318 877 199 907 285 920 251 876 371 867 392 905 257 906 315 870 368 822 380 894 173 819 306 855 267 908 324 847 212 874 181 929 215 896 274 900 306 860 236 887 368 874 366 884 367 845 309 903 368 877 360 768 268 910 234 911 338 929 361 910 359 873 181 893 192 886 273 903 270 898 349 889 329 868 447 852 233 858 350 831 236 905 192 878 273 919 234 926 173 864 359 886 323 831 343 698 350 813 306 907 234 908 349 925 447 888 354 879 221 835 328 921 238 859 447 882 214 915 368 875 315 876 343 848 179 904 476 858 321 884 254 906 214 903 251 873 239 870 328 848 349 761 192 894 338 841 372 881 405 913 301 892 285 867 337 826 321 886 204 909 266 888 374 881 367 898 380 861 310 882 229 900 173 904 350 897 361 924 328 875 328 824 367 868 282 883 232 722 306 853 407 894 334 795 296 851 279 907 180 888 436 883 206 897 338 877 285 899 338 861 327 862 361 872 295 915 193 855 274 732 407 924 326 882 419 922 336 849 274 881 326 915 266 909 192 892 275 908 320 860 406 869 306 902 228 873 394 806 217 892 475 811 380 916 395 907 337 912 212 892 285 880 215 922 234 854 279 864 365 795 373 866 252 831 198 916 179 885 360 871 215 887 201 903 329 882 285 912 201 882 352 783 408 910 334 865 231 805 366 857 308 874 366 901 372 892 329 939 240 909 266 905 408 902 337 865 322 821 392 901 298 883 180 861 205 901 475 875 377 907 309 858 208 913 271 883 279 914 351 872 420 888 349 792 314 887 338 881 239 917 407 897 296 926 267 896 180 886 420 922 274 911 434 885 271 869 192 882 279 878 252 909 393 872 209 830 322 840 199 908 337 773 476 874 434 869 237 870 239 908 204 875 208 872 307 876 270 920 221 866 333 875 368 877 406 880 180 884 204 886 254 797 239 931 268 856 205 902 217 870 295 921 289 851 335 910 316 848 339 830 320 847 328 934 266 879 329 846 296 911 199 911 232 899 173 926 192 891 307 906 433 870 283 893 433 849 394 909 377 916 323 836 268 878 338 818 447 877 322 879 326 860 233 916 309 904 260 914 230 916 180 842 305 935 475 736 214 910 257 922 269 859 322 851 322 843 271 934 173 885 209 905 327 825 199 906 312 877 295 908 368 902 274 877 349 878 254 897 255 721 267 887 307 930 433 832 476 873 173 860 368 927 193 854 260 907 212 893 336 783 294 912 263 859 366 839 405 889 361 871 317 838 371 904 323 849 264 928 407 903 216 826 392 911 275 888 324 838 337 783 333 827 270 871 267 905 316 822 420 893 234 906 307 908 279 871 180 841 208 889 193 869 360 889 326 864 235 908 329 918 193 843 258 848 436 895 179 894 329 831 193 853 326 920 301 871 326 848 243 903 192 882 246 854 321 847 233 915 233 781 193 914 328 874 306 889 232 898 172 852 343 772 342 790 333 902 257 886 343 874 245 900 270 869 273 850 374 867 336 757 367 884 370 722 215 889 371 908 173 876 318 885 199 912 337 892 320 918 321 887 284 878 367 753 208 899 321 783 271 927 365 834 323 861 395 870 237 922 418 905 379 887 309 886 246 919 335 922 366 897 251 847 337 912 260 874 172 874 295 927 322 877 217 894 475 871 315 843 282 913 243 887 418 907 297 886 367 861 344 608 367 823 323 803 180 896 237 898 289 898 295 797 295 927 283 881 279 908 247 889 317 844 193 825 328 868 260 936 269 859 296 915 193 923 180 837 279 881 198 919 321 882 271 895 324 809 370 900 392 826 239 914 233 746 372 867 294 909 393 899 477 888 370 872 310 867 349 836 215 913 380 898 366 883 180 907 338 774 321 855 227 872 180 866 180 890 217 884 418 891 358 884 246 854 228 886 293 897 393 890 201 855 326 799 447 900 215 872 204 892 322 913 379 881 265 871 324 917 173 885 294 846 408 858 333 855 228 885 230 921 342 884 199 891 215 911 270 920 312 914 372 918 372 894 348 774 283 862 173 839 230 882 273 898 265 870 406 872 367 842 261 837 199 908 368 917 268 910 316 888 475 815 277 886 328 839 307 878 352 873 209 872 318 851 350 778 209 915 260 900 343 712 475 873 203 900 266 883 261 883 261 917 352 747 374 889 228 950 217 895 367 899 324 784 322 851 278 917 343 846 323 923 407 726 358 831 349 906 271 872 419 918 321 860 351 874 324 797 327 824 279 854 368 843 316 866 322 862 257 891 371 881 374 863 264 828 252 904 367 938 279 892 367 851 216 912 294 875 173 902 336 815 257 866 357 865 367 915 242 874 357 895 179 889 212 832 245 888 253 903 192 902 366 865 216 898 338 890 275 884 418 907 180 807 274 908 407 914 307 877 262 882 245 890 192 876 230 933 233 906 266 905 208 911 193 918 275 910 342 890 369 904 326 888 281 894 245 910 338 842 209 904 228 879 298 884 198 930 283 921 354 846 268 910 214 923 433 841 276 921 328 901 270 923 180 871 406 897 228 877 296 938 419 923 252 870 351 818 348 910 179 886 360 882 234 890 232 924 309 875 374 851 204 903 337 807 436 781 300 888 221 919 337 859 371 825 350 844 215 932 204 873 349 811 286 881 395 908 267 863 274 885 257 861 349 844 271 828 274 901 317 884 436 881 368 863 199 915 215 886 328 875 192 817 314 894 334 788 379 880 393 882 270 877 475 779 261 875 300 861 212 924 294 862 339 842 228 850 365 883 392 897 279 888 217 872 247 892 268 907 476 884 270 921 351 813 269 861 368 886 349 745 408 746 294 911 322 919 253 924 285 673 180 842 323 742 392 878 192 865 339 804 243 896 261 915 407 791 215 912 307 831 328 874 278 889 199 909 322 914 251 897 360 806 267 887 369 742 181 808 243 877 239 866 342 857 366 910 263 877 180 890 366 897 254 886 221 915 368 858 180 914 317 834 252 906 339 845 392 901 349 848 295 923 222 916 290 806 368 847 328 794 315 901 217 894 321 855 242 880 339 799 371 881 279 895 270 912 198 883 477 898 379 886 368 847 406 872 234 892 192 880 373 874 333 871 237 907 350 813 180 906 228 904 217 887 447 902 447 870 232 900 334 913 180 892 246 892 257 849 210 875 325 639 204 882 433 877 173 904 267 909 285 853 247 881 233 865 278 926 361 807 321 800 316 886 270 921 217 841 285 894 180 872 245 858 172 869 209 884 368 906 320 870 406 920 199 923 172 893 214 911 282 896 324 911 217 899 392 897 209 872 419 848 193 870 351 835 321 893 338 771 289 863 217 927 361 874 317 908 374 884 335 846 367 896 314 903 205 913 447 865 247 897 222 915 405 915 349 834 352 875 245 897 193 917 275 883 328 930 360 831 216 908 192 843 209 922 214 900 282 872 368 873 215 920 242 904 368 879 295 905 380 863 232 892 239 923 447 876 228 878 279 861 179 902 212 863 328 931 203 906 278 891 279 910 192 872 173 885 180 893 310 773 360 855 351 840 209 877 354 803 309 861 371 865 380 901 336 838 260 859 271 887 329 831 180 910 362 821 360 836 271 900 322 836 273 856 433 863 368 832 305 876 271 876 306 841 361 848 366 925 260 880 354 886 221 874 235 874 314 901 307 835 368 899 315 820 380 868 322 901 307 853 173 872 324 804 271 884 273 918 328 841 209 877 265 879 322 746 282 894 366 888 371 913 371 920 450 768 316 867 371 882 321 926 352 827 351 817 354 816 360 865 234 905 214 897 406 883 252 898 193 899 395 900 268 912 245 856 254 887 282 870 337 861 276 890 270 877 343 848 379 891 173 885 205 942 343 843 215 900 261 910 294 910 193 913 314 767 447 897 199 916 270 900 193 925 253 894 337 857 267 888 203 870 373 901 258 910 323 911 362 860 328 795 337 900 366 893 339 882 251 894 374 885 366 893 279 907 315 862 268 868 314 880 349 882 350 833 307 892 245 929 298 876 436 889 217 891 321 757 342 842 269 886 201 928 326 873 295 893 337 796 315 902 337 872 328 823 380 876 193 912 368 817 289 881 362 847 193 913 257 871 418 908 477 888 265 903 339 768 408 860 222 903 245 920 208 901 294 881 367 909 180 766 318 842 328 864 368 897 339 732 198 912 374 874 275 896 173 923 173 898 338 847 273 910 228 925 448 866 294 918 328 870 305 885 317 904 374 920 359 867 361 842 237 876 264 870 270 911 277 877 244 872 395 893 228 919 282 912 199 904 278 913 294 907 230 889 360 803 215 920 192 891 323 840 270 921 271 899 217 915 407 893 273 828 192 884 217 874 379 857 293 904 217 897 407 893 448 891 361 869 349 800 368 866 379 914 338 836 368 877 290 935 243 929 243 921 337 922 215 916 329 862 379 868 209 907 366 846 305 875 179 876 337 830 261 878 315 834 270 882 324 800 360 836 337 908 343 799 192 850 297 895 301 869 270 910 227 892 254 852 173 893 300 939 322 871 321 819 193 877 348 842 315 915 371 857 450 772 333 872 266 871 243 910 371 892 199 910 264 861 296 900 368 870 371 901 361 931 336 847 283 926 339 782 172 837 254 878 294 866 204 945 209 898 301 911 203 907 354 878 315 897 205 876 407 872 295 908 282 907 475 889 367 886 260 913 214 928 181 855 239 912 392 909 350 852 392 885 379 864 373 875 337 899 193 842 375 857 210 886 343 825 309 875 322 849 338 740 371 873 334 836 173 888 192 867 269 857 342 854 295 883 309 864 283 904 270 860 193 872 215 885 265 864 299 726 395 913 337 885 253 889 173 913 368 863 242 887 234 917 270 884 337 822 256 902 270 918 407 882 229 905 193 863 435 876 279 882 180 885 193 837 172 899 368 882 279 892 315 818 433 879 265 915 371 863 475 878 173 911 329 874 275 912 315 874 192 897 238 895 334 796 264 924 179 873 209 898 268 866 295 895 173 894 254 899 173 886 434 899 447 882 271 872 395 882 260 878 351 827 307 891 235 920 180 872 316 870 407 903 254 911 229 910 199 895 352 826 295 886 406 842 333 892 237 901 368 796 173 889 353 883 204 887 232 893 368 906 407 911 329 762 275 905 324 808 343 740 198 872 370 781 290 854 269 873 301 866 278 882 318 913 203 917 271 903 475 897 296 898 199 921 213 896 420 884 333 789 258 891 339 862 242 942 336 795 281 902 380 880 312 883 351 827 328 836 289 883 321 803 239 904 232 903 230 927 475 783 368 883 179 873 307 856 307 835 339 845 360 845 371 840 323 859 336 882 192 898 283 895 328 907 328 831 337 906 342 905 315 861 233 912 206 924 285 736 407 885 282 902 447 874 296 882 326 918 261 892 368 834 447 848 193 877 339 809 273 902 315 870 343 865 447 836 360 938 328 822 306 886 314 800 366 848 324 854 204 906 372 860 477 873 434 854 307 910 301 897 326 915 350 842 368 911 329 907 246 911 305 883 237 860 228 898 371 880 368 872 257 863 307 884 240 914 314 821 314 835 367 922 234 856 173 848 436 901" fill="none" stroke="none" marker-start="url(#mb)" marker-mid="url(#mb)" marker-end="url(#mb)"/>
</g>
<line x1="176.2" y1="910" x2="479.8" y2="874.3" stroke="#F0554C" stroke-width="5.2"/>
<line x1="176.2" y1="903.3" x2="479.8" y2="860.5" stroke="#16A82C" stroke-width="5.2"/>
<line x1="176.2" y1="892.4" x2="479.8" y2="829" stroke="#4E82EE" stroke-width="5.2"/>
<rect x="98.2" y="568.8" width="436.4" height="411.2" fill="none" stroke="#333" stroke-width="1.1"/>
<text transform="translate(171.2,619.2) scale(1,1.045)" x="0" y="0" style="font-family:'Liberation Sans',sans-serif" font-size="28.3" text-anchor="middle" fill="#000">r<tspan dx="7">=</tspan><tspan dx="7">0.23</tspan></text>
<line x1="94.6" y1="962.1" x2="98.2" y2="962.1" stroke="#333" stroke-width="1.1"/>
<text transform="translate(91.5,973.7) scale(1,1.045)" x="0" y="0" style="font-family:'Liberation Sans',sans-serif" font-size="30.3" text-anchor="end" fill="#222">0</text>
<line x1="94.6" y1="855.0" x2="98.2" y2="855.0" stroke="#333" stroke-width="1.1"/>
<text transform="translate(91.5,866.6) scale(1,1.045)" x="0" y="0" style="font-family:'Liberation Sans',sans-serif" font-size="30.3" text-anchor="end" fill="#222">100</text>
<line x1="94.6" y1="747.8" x2="98.2" y2="747.8" stroke="#333" stroke-width="1.1"/>
<text transform="translate(91.5,759.4) scale(1,1.045)" x="0" y="0" style="font-family:'Liberation Sans',sans-serif" font-size="30.3" text-anchor="end" fill="#222">200</text>
<line x1="94.6" y1="640.7" x2="98.2" y2="640.7" stroke="#333" stroke-width="1.1"/>
<text transform="translate(91.5,652.3) scale(1,1.045)" x="0" y="0" style="font-family:'Liberation Sans',sans-serif" font-size="30.3" text-anchor="end" fill="#222">300</text>
<line x1="211.0" y1="980" x2="211.0" y2="983.6" stroke="#333" stroke-width="1.1"/>
<text transform="translate(211.0,1009.0) scale(1,1.045)" x="0" y="0" style="font-family:'Liberation Sans',sans-serif" font-size="30.3" text-anchor="middle" fill="#222">2.0</text>
<line x1="337.9" y1="980" x2="337.9" y2="983.6" stroke="#333" stroke-width="1.1"/>
<text transform="translate(337.9,1009.0) scale(1,1.045)" x="0" y="0" style="font-family:'Liberation Sans',sans-serif" font-size="30.3" text-anchor="middle" fill="#222">2.5</text>
<line x1="464.8" y1="980" x2="464.8" y2="983.6" stroke="#333" stroke-width="1.1"/>
<text transform="translate(464.8,1009.0) scale(1,1.045)" x="0" y="0" style="font-family:'Liberation Sans',sans-serif" font-size="30.3" text-anchor="middle" fill="#222">3.0</text>
<text transform="translate(760.5,562.3) scale(1,1.045)" x="0" y="0" style="font-family:'Liberation Sans',sans-serif" font-size="30.3" text-anchor="middle" fill="#000">FRA</text>
<clipPath id="cpFRA"><rect x="542.3" y="568.8" width="436.4" height="411.2"/></clipPath>
<g clip-path="url(#cpFRA)">
<path d="M749 895 788 899 791 908 768 902 671 905 657 850 762 901 639 903 908 915 639 877 734 911 694 908 688 876 688 903 638 905 705 847 891 860 626 903 646 884 797 890 639 933 712 913 671 927 602 877 639 895 748 776 708 869 909 902 729 875 759 905 698 862 584 897 834 889 728 873 750 902 682 902 639 906 681 847 828 922 819 871 777 901 698 917 653 894 736 922 751 868 956 851 626 893 673 902 655 928 734 925 752 892 584 924 734 896 638 912 704 871 732 883 698 843 777 907 794 862 645 925 584 923 746 846 682 952 759 835 837 890 660 891 738 820 760 898 703 926 676 889 751 849 750 946 797 880 779 843 686 887 723 933 600 945 626 905 696 916 674 902 729 853 712 900 957 850 679 851 626 892 777 907 828 888 622 883 737 873 704 887 672 888 682 914 704 898 799 936 788 863 908 905 683 910 778 886 751 885 909 910 599 911 729 911 688 809 752 839 638 957 721 893 682 888 751 907 655 873 828 873 751 886 643 910 660 907 639 887 728 886 694 870 735 889 734 865 763 845 688 920 673 955 759 911 725 877 697 905 688 905 738 895 639 884 724 878 751 932 737 884 794 887 682 891 639 893 893 900 825 892 602 888 599 889 697 893 688 928 662 894 728 891 714 881 684 913 768 905 688 924 908 926 760 893 729 894 837 881 674 927 826 821 779 911 759 837 733 905 645 915 760 900 626 853 671 921 672 841 819 866 734 900 825 896 646 905 627 873 682 896 776 834 713 915 639 930 828 900 682 903 733 861 657 910 639 922 703 868 704 882 585 896 908 916 621 898 682 952 776 890 729 911 679 762 737 938 736 852 713 897 778 868 751 889 681 895 643 886 687 903 639 924 751 931 599 888 691 891 674 924 601 908 788 854 739 881 825 861 709 918 747 919 789 897 682 895 723 919 749 911 759 910 788 908 776 875 724 846 784 929 660 928 642 938 713 867 778 863 645 895 704 848 705 874 682 912 682 921 784 904 694 868 827 879 760 930 734 889 704 940 736 904 794 914 602 925 893 904 698 861 784 915 682 921 712 844 683 875 751 857 788 917 825 881 734 851 828 897 708 913 680 902 600 881 771 888 682 909 729 903 639 907 738 891 705 846 759 894 728 924 893 884 735 899 599 901 712 904 734 902 709 898 682 929 826 875 704 853 763 916 674 880 825 888 704 877 646 928 680 882 673 895 642 876 626 886 705 879 829 894 733 843 682 872 728 837 585 911 728 836 736 905 751 888 697 927 640 870 703 876 643 921 687 906 747 888 712 901 729 851 687 912 662 899 639 898 704 859 779 886 738 835 682 916 752 836 697 895 698 908 777 895 672 914 836 878 892 900 825 875 733 834 668 877 683 836 688 923 761 872 828 923 626 901 780 873 584 877 752 848 713 854 688 949 688 889 704 888 688 894 639 913 705 911 667 912 704 907 703 853 672 812 709 930 643 910 731 900 763 914 751 908 713 923 780 896 747 895 779 888 682 902 682 907 820 958 704 876 780 885 866 898 640 879 777 860 788 874 713 884 688 932 688 874 673 908 728 866 680 946 682 895 712 865 645 866 759 892 763 890 643 914 825 893 698 905 724 894 696 893 688 920 734 865 585 894 646 896 759 851 827 874 674 895 643 930 698 870 728 897 737 891 788 919 724 882 682 934 643 943 734 860 602 920 676 898 733 877 639 881 584 872 667 881 738 856 956 864 907 906 673 939 626 895 760 877 642 951 639 895 688 877 682 927 682 924 763 933 646 849 908 884 602 907 626 886 956 799 584 905 735 945 776 867 729 883" fill="none" stroke="none" marker-start="url(#mr)" marker-mid="url(#mr)" marker-end="url(#mr)"/>
<path d="M736 883 837 886 639 889 761 905 738 900 682 946 908 906 829 914 658 924 760 871 759 901 728 906 748 810 667 847 866 908 654 884 626 920 672 905 640 914 703 898 892 899 709 878 788 863 654 892 729 936 736 883 708 894 935 888 733 906 892 897 640 801 584 909 778 885 713 871 791 928 866 892 672 894 869 892 646 888 734 901 761 894 704 874 724 856 747 881 806 870 759 902 638 904 640 892 697 901 723 889 638 830 820 924 759 872 893 854 584 901 671 899 601 919 752 893 720 918 682 908 638 900 865 909 834 826 762 863 626 865 933 795 776 862 638 887 780 869 584 919 729 846 732 901 643 916 729 879 584 913 751 804 869 897 688 921 585 893 687 883 759 886 645 877 779 857 599 888 688 861 790 881 729 859 738 858 584 835 825 862 705 877 705 876 688 910 622 910 737 852 584 902 705 854 657 860 671 899 729 901 673 908 672 872 674 912 738 860 682 902 672 909 680 867 694 895 680 908 688 831 639 891 751 845 695 822 584 905 698 827 680 837 639 923 733 912 643 878 724 866 660 876 764 908 834 877 599 899 639 911 626 926 584 875 733 885 762 784 601 922 674 907 585 903 729 894 787 886 791 877 724 924 733 873 657 891 672 896 794 898 668 856 698 907 789 905 600 911 645 877 694 905 682 914 779 872 834 900 794 837 713 856 688 897 713 906 645 912 687 903 737 903 673 870 674 923 800 892 828 919 639 897 688 957 762 888 768 875 891 911 703 846 780 837 837 867 667 925 893 903 796 795 698 859 687 907 768 905 777 877 653 893 729 882 677 802 698 856 645 887 776 852 640 824 759 860 682 910 681 873 686 855 698 901 682 884 698 897 690 854 645 867 673 894 738 899 639 889 779 860 668 888 723 914 680 913 672 863 712 880 794 877 908 912 724 886 893 904 777 883 682 920 762 877 733 851 760 894 683 871 704 891 698 896 655 932 653 926 760 913 673 726 639 921 788 871 724 904 639 918 680 884 833 915 759 900 639 853 667 838 695 916 723 882 705 879 654 940 828 888 697 840 682 898 640 915 748 872 698 882 639 927 789 904 584 889 795 851 621 903 779 784 638 907 749 878 662 880 672 898 893 907 643 890 697 884 639 914 724 871 733 864 640 844 678 892 721 908 601 890 709 901 777 899 584 888 788 883 688 892 737 834 584 880 655 884 764 745 677 931 728 894 709 867 724 886 646 908 747 852 653 904 638 941 655 875 790 845 693 805 712 905 737 867 698 868 729 879 704 897 833 909 639 912 683 869 789 887 642 932 833 893 643 940 697 896 837 863 602 914 729 894 662 901 698 885 643 904 682 905 834 907 600 812 751 912 779 892 698 851 760 923 638 883 667 856 672 880 682 858 736 884 776 911 682 881 748 843 747 910 687 802 724 881 655 883 708 899 837 865 681 891 729 889 643 849 724 847 736 861 672 880 639 883 729 865 672 898 866 913 703 879 698 889 737 888 908 856 646 921 825 909 705 885 643 927 776 844 764 745 640 839 643 914 829 882 933 801 600 890 695 905 682 917 668 906 736 870 682 909 724 828 749 926 667 838 759 834 585 905 698 916 682 888 729 865 621 881 764 787 776 903 759 901 673 903 652 866 646 852 688 874 723 899 759 836 688 833 825 900 599 905 779 914 638 882 674 883 828 882 659 901 737 869 777 912 764 891 779 911 760 842 828 891 705 913 698 917 682 908 642 857 777 880 639 922 703 874 642 914 599 888 751 892 794 808 736 887 820 891 643 938 729 845 769 871 723 899 683 899 639 900 703 907 825 900 789 809 731 860 688 905 584 894 725 875 639 888 752 885 827 880 760 893 672 930 685 878 794 845 696 862 761 924 672 879 828 893 682 820 776 897 682 891 729 877 779 857 703 872 704 884 760 904 696 872 713 876 728 846 680 882 737 824 789 892 800 904 667 854 639 877 763 890 729 879 639 922 764 866 825 884 725 886 752 880 760 894 584 869 751 841 694 889 673 921 698 880 682 896 763 859 705 890 680 861 705 855 704 894 751 908 621 915 788 853 698 917 639 873 673 861 659 898 643 922 788 895 638 950 798 863 682 876 709 832 704 847 763 901 760 905 751 831 892 824 688 910 682 875 654 911 639 883 789 872 776 868 747 931 828 882 680 900 705 880 585 895 825 897 684 896 681 916 688 767 759 844 682 914 681 893 777 840 779 889 776 890 667 928 752 882 776 890 740 900 682 913 795 889 698 874 684 909 834 886 891 855 703 884 709 883 789 874 640 889 789 913 662 899 737 837 652 884 668 887 599 874 720 815 585 906 680 842 826 896 694 871 705 870 639 913 776 850 667 873 668 876 747 802 682 909 759 901" fill="none" stroke="none" marker-start="url(#mg)" marker-mid="url(#mg)" marker-end="url(#mg)"/>
<path d="M759 872 584 897 680 896 642 841 737 871 834 908 638 930 750 916 705 848 698 925 599 894 626 901 725 867 601 897 622 891 674 906 826 872 736 920 643 904 759 873 736 843 807 871 585 884 776 879 712 889 776 829 642 905 837 873 643 914 828 893 602 885 708 877 820 848 673 868 599 921 672 883 733 881 777 873 763 880 683 869 771 821 761 886 733 840 688 892 638 905 761 886 673 919 780 824 752 885 777 867 642 871 682 884 697 849 737 838 729 904 584 896 709 865 668 880 737 851 642 907 638 887 739 884 789 873 750 911 709 852 626 871 750 900 643 886 682 893 639 915 723 851 601 901 639 916 640 862 907 915 761 874 733 844 777 888 837 876 736 824 646 868 728 830 761 851 820 886 646 894 682 896 698 881 655 923 600 877 657 881 698 843 639 903 737 757 696 883 668 858 680 901 585 912 680 881 733 906 654 905 640 898 794 876 828 889 750 888 681 881 738 892 721 888 751 885 828 898 655 893 759 857 736 876 759 841 674 868 639 916 667 911 725 901 789 888 703 907 776 864 751 880 584 802 688 901 682 894 788 868 680 917 643 916 738 816 600 914 584 932 584 896 599 901 674 839 760 880 639 803 784 851 703 877 645 874 671 900 599 877 779 855 828 845 674 881 763 852 704 855 708 886 682 808 660 903 639 918 601 897 601 911 778 890 737 904 646 881 764 872 688 868 728 874 828 898 680 882 640 908 680 809 654 910 763 885 671 910 682 906 720 895 645 899 957 890 833 865 828 895 654 906 933 792 688 901 653 925 908 890 769 844 737 883 680 871 645 898 737 816 690 892 733 920 709 913 750 880 798 935 698 840 820 900 751 845 640 874 654 915 747 883 667 913 671 905 688 847 668 898 729 840 709 887 778 860 798 903 828 900 674 932 828 862 584 888 645 900 908 919 584 921 682 866 734 877 709 926 762 838 712 854 751 868 655 882 585 912 728 889 673 940 682 869 734 823 668 883 779 880 696 830 788 871 698 841 736 866 662 867 728 902 733 857 646 884 779 883 759 870 759 926 728 860 685 883 682 859 797 906 674 871 724 870 788 861 688 869 761 870 737 786 761 873 668 837 704 829 705 917 715 835 866 899 733 881 734 860 703 879 764 903 640 923 687 874 760 880 679 855 688 901 752 814 834 903 672 867 737 909 724 926 642 878 683 918 738 861 729 854 761 884 667 866 600 937 673 945 752 794 720 858 806 889 622 853 729 888 645 822 646 889 674 916 728 895 828 863 713 905 712 873 621 876 725 886 759 880 824 902 779 870 600 900 638 910 681 806 621 914 825 893 667 900 824 901 680 852 663 943 785 839 639 885 672 938 734 810 724 942 780 857 761 899 789 880 698 842 724 892 627 922 724 865 698 905 640 843 749 891 667 880 662 858 750 889 712 882 738 928 698 870 654 867 645 882 584 895 585 909 705 868 645 946 660 871 698 917 737 866 728 872 643 850 599 898 673 825 764 889 668 866 736 818 777 860 640 898 833 895 713 882 639 875 724 888 734 915 795 892 731 901 683 924 703 895 797 755 601 888 751 868 776 877 751 905 794 807 640 917 640 873 807 906 778 867 672 850 729 872 778 899 602 901 798 857 737 863 682 822 621 918 709 865 684 853 784 902 697 868 704 906 698 898 704 858 703 859 626 872 752 882 703 858 654 894 752 890 729 886 697 817 672 898 688 891 698 863 778 855 698 869 690 897 833 916 639 943 728 909 893 880 771 894 909 929 674 890 706 870 667 842 789 752 698 844 674 944 667 854 827 876 739 907 713 895 643 881 654 883 599 879 763 860 736 866 729 878 658 868 728 907 703 875 673 876 643 943 777 839 750 890 777 887 752 840 713 898 654 877 777 864 736 903 674 904 737 898 646 890 738 866 747 897 688 889 643 881 667 864 705 865 747 903 825 881 673 885 724 867 794 857 584 925 698 878 668 930 703 838 672 882 777 909 909 911 728 882 752 882 728 829 866 887 789 881 790 919 771 889 681 858 759 909 705 860 712 915 735 842 690 881 639 903 728 893 680 886 699 862 789 845 660 917 778 911 712 857 749 872 646 846 728 868 677 862 806 853 585 891 724 898 779 827 600 858 583 830 725 903 600 887 585 898 672 894 759 881 728 840 794 846 714 888 643 873 673 883 724 882 750 916 776 828 601 919 682 925 679 766 627 859 674 851 639 908 704 877 672 919 683 910 688 868 778 887 696 883 698 877 713 887 713 853 645 911 687 858 737 882 681 878 626 905 704 845 788 834 789 858 709 906 672 943 707 896 758 770 639 877 739 888 736 856 825 842 777 866 708 888 892 811 626 891 763 870 736 803 734 867 869 881 601 904 738 876 734 875 678 868 734 879 777 902 682 902 751 855 687 879 724 849 761 891 682 896 703 887 750 852 690 855 712 899 682 818 724 855 835 774 655 893 698 868 688 860 708 883 794 877 779 879 602 899 672 881 829 904 698 838 825 865 820 867 712 889 739 918 739 859 585 899 657 851 643 922 769 844 642 882 778 858 794 912 639 895 672 866 698 837 724 894 836 899 747 936 828 884 668 915 702 887 640 877 724 892 668 853 698 867 704 891 698 868 680 913 708 838 724 884 671 910 674 926 673 915 713 888 779 878 729 813 621 919 698 837 797 853 760 898 734 833 682 858 776 885 731 904 659 872 747 908 659 900 778 861 729 917 779 834 653 883 682 905 676 881 638 911 724 884 838 875 778 887 957 885 709 842 780 904 682 880 828 893 698 886 751 908 729 863 667 896 728 905 776 864 672 896 737 877 667 883 780 844 678 873 639 866 724 838 761 898 733 858 645 915 713 859 639 952 667 855 745 949 933 879 724 819 601 912 729 896 627 929 645 930 825 901 703 875 869 901 724 890 638 851 682 858 909 912 736 875 750 876 712 859 759 862 584 929 639 883 825 899 892 893 698 913 659 893 750 919 734 859 798 843 933 795 698 829 713 881 703 870 762 878 672 933 705 815 585 901 674 895 714 881 621 880 698 916 646 848 643 921 825 894 645 907 724 877 747 845 639 893 642 802 639 908 729 845 768 879 892 893 709 870 601 866 645 903 643 881 705 875 704 845 638 860 763 918 698 873 751 885 778 872 762 866 729 897 747 885 825 890 724 870 672 873 672 895 645 841 639 856 933 889 828 886 601 886 584 876 703 883 747 854 751 898 768 848 733 896 752 862 892 881 709 897 798 847 761 898 703 864 601 928 788 914 729 821 640 914 869 883 794 877 638 905 688 860 752 888 728 879 653 906 836 905 627 869 600 870 798 836 698 894 713 881 777 877 673 914 667 836 729 873 698 840 621 916 599 928 750 899 760 901 626 911 740 869 688 849 776 872 752 859 746 833 657 848 584 889 680 917 751 918 777 866 712 909 660 914 685 855 622 891 751 943 672 894 725 869 697 845 602 913 682 936 713 840 601 932 600 878 682 893 934 910 601 890 759 869 646 886 680 900 654 853 670 948 654 896 667 865 640 838 703 910 789 889 752 843 687 901 584 882 697 893 768 912 795 868 820 864 777 865 728 916 892 896 747 812 646 918 777 895 646 878 738 850 797 813 752 904 698 896 752 868 643 908 739 895 760 915 704 908 705 887 679 884 764 921 734 834 600 877 747 865 682 843 674 908 761 859 697 900 908 902 760 815 724 881 833 886 622 897 627 903 759 854 777 878 678 869 837 831 752 812 760 887 777 857 672 919 729 874 736 894 733 896 638 887 640 898 833 893 798 856 704 901 639 868 712 900 680 861 829 907 659 890 784 863 705 886 957 798 729 874 681 846 667 881 800 914 708 855 737 847 778 896 655 878 662 888 602 879 752 865 776 903 688 880 698 844 724 884 638 867 778 855 682 833 788 865 682 886 680 908 600 880 626 903 697 893 671 889 690 904 640 883 759 877 732 870 681 854 639 940 729 864 655 910 688 870 643 890 712 873 780 837 729 869 759 842 667 888 674 907 729 821 837 875 599 906 733 900 833 895 654 897 683 840 696 892 764 895 711 889 737 820 737 882 602 838 778 850 698 887 713 869 748 765 724 893 682 913 688 877 737 907 639 844 682 921 659 908 709 886 751 789 712 840 654 781 654 894 640 905 705 874 736 823 723 878 705 873 780 866 686 885 704 890 825 834 828 894 736 915 728 829 682 872 762 888 788 881 779 778 733 839 737 874 686 816 705 912 688 899 788 881 790 876 713 848 643 867 681 808 777 852 760 871 724 808 704 922 708 913 682 864 763 885 729 861 697 872 663 863 736 919 704 878 892 869 646 902 761 889 778 848 705 841 687 841 729 890 672 841 671 898 683 823 784 905 713 896 735 880 778 857 688 845 655 868 646 865 643 896 736 883 639 889 698 878 688 940 752 885 638 865 640 909 778 869 934 908 788 886 640 943 763 873 583 798 934 901 711 898 682 891 599 904 704 899 683 893 713 873 646 924 621 865 737 870 683 905 708 902 703 841 584 828 733 844 638 903 643 884 639 914 709 886 645 836 788 882 688 905 639 886 684 882 683 900 836 891 807 861 626 899 584 912 777 870 909 929 688 873 724 905 729 874 642 803 640 881 778 851 584 891 639 892 729 902 729 900 672 852 739 901 713 888 705 895 601 901 687 908 724 842 759 885 720 905 737 879 705 882 698 888 674 896 713 836 705 878 698 882 655 922 682 883 763 898 724 905 667 855 667 839 672 827 626 886 833 910 622 890 654 899 698 909 602 910 824 899 724 869 759 888 683 876 708 890 601 880 671 860 672 814 777 896 682 895 645 843 697 918 626 902 584 923 738 878 697 853 713 850 780 858 712 858 680 845 673 880 639 904 643 886 600 881 639 866 747 885 681 857 908 888 671 889 778 906 728 870 825 898 729 851 892 909 752 921 760 917 645 879 751 866 713 893 704 879 712 860 777 879 585 894 778 888 957 800 688 858 621 906 777 878 837 881 698 904 728 845 698 840 837 900 776 824 680 903 643 827 752 936 643 877 683 905 697 918 752 842 680 878 825 894 715 894 828 887 688 862 585 880 697 873 680 846 584 876 703 889 824 879 674 871 908 910 779 878 768 897 728 889 791 866 957 877 653 869 643 895 713 878 784 888 764 869 750 912 747 894 794 848 794 861 794 863 827 878 778 884 816 800 819 893 672 894 704 911 825 888 790 929 794 875 697 850 660 889 759 901 600 871 736 819 738 859 828 875 705 891 747 891 709 844 686 899 643 883 638 911 737 860 777 879 751 858 683 913 778 882 788 844 645 903 584 908 688 880 674 865 626 911 908 888 734 871 667 914 639 864 584 883 892 883 834 841 640 907 759 904 687 851 736 853 643 906 626 889 667 870 667 897 824 855 712 852 713 866 737 917 908 890 737 888 779 918 780 838 584 905 799 683 600 877 728 851 892 885 796 786 640 796 709 845 704 872 682 893 645 907 733 865 643 921 688 857 737 881 760 866 655 888 713 877 667 843 724 855 736 827 825 859 709 899 696 857 667 899 698 863 698 890 698 875 819 923 682 913 584 875 740 909 705 908 646 892 626 913 835 760 709 903 751 885 704 855 778 805 762 901 660 866 705 847 776 853 787 871 712 853 747 892 763 891 729 889 643 850 819 900 833 920 761 914 703 842 800 842 697 935 834 858 736 825 668 915 601 882 724 910 708 892 668 837 698 844 667 881 688 910 893 898 729 862 777 894 776 834 627 888 626 874 682 834 751 859 703 832 748 895 672 843 654 901 601 897 681 910 688 894 736 817 698 882 724 880 698 840 725 911 698 864 760 912 759 840 639 893 643 925 708 866 829 904 788 848 682 925 705 847 733 920 746 891 836 890 682 877 584 877 660 913 760 871 690 923 739 922 673 888 779 858 672 915 600 911 799 778 788 795 762 790 674 876 829 865 673 815 703 921 686 855 703 909 674 896 712 910 788 853 806 792 660 894 674 874 866 908 712 891 748 770 712 877 761 860 728 866 682 891 584 881 729 860 655 857 688 901 759 896 759 841 682 881 836 854 682 928 704 882 724 868 777 907 759 901 673 897 672 874 622 879 672 878 784 888 600 856 826 872 759 916 680 815 834 926 750 875 705 865 622 903 682 827 599 864 695 846 697 854 794 842 683 879 704 863 777 823 908 916 729 870 819 920 728 881 777 881 751 837 761 878 723 892 602 901 728 898 584 860 639 901 600 890 738 819 682 862 707 893 737 826 645 858 794 868 698 871 673 895 714 881 708 915 736 876 733 855 698 896 777 886 683 874 728 894 737 883 646 828 751 852 639 916 643 877 585 904 679 747 688 871 688 897 794 870 737 901 601 865 642 887 673 846 584 906 682 918 672 869 705 892 639 867 697 907 738 891 654 888 698 879 713 873 771 881 682 941 748 883 778 843 720 883 759 920 736 897 820 900 646 802 639 894 794 867 645 922" fill="none" stroke="none" marker-start="url(#mb)" marker-mid="url(#mb)" marker-end="url(#mb)"/>
<path d="M638 919 626 858 601 895 682 920 673 894 737 901 584 876 734 801 643 857 639 935 668 926 729 834 712 896 707 877 829 890 728 926 682 902 733 897 709 883 585 899 703 868 585 860 794 879 751 904 778 899 736 862 747 911 677 924 682 873 737 890 761 915 668 877 729 847 698 924 724 876 639 877 762 912 713 939 733 841 672 887 768 881 682 881 703 886 626 922 688 894 736 889 733 874 680 933 585 899 788 857 682 878 668 912 667 934 737 903 790 870 638 897 867 893 828 888 683 873 738 899 784 910 728 898 601 890 639 877 760 892 682 921 829 910 794 891 763 813 909 910 601 928 698 873 737 888 671 875 751 839 737 870 683 911 621 900 682 920 738 902 832 885 737 833 698 923 728 861 794 891 698 921 724 853 893 906 828 914 703 880 733 854 600 923 602 889 820 874 708 915 736 926 724 918 776 915 680 888 679 913 709 867 640 922 682 899 763 886 750 889 806 931 768 888 729 858 714 901 704 916 733 880 712 916 639 928 790 925 734 873 934 838 751 920 643 925 705 865 703 877 738 912 688 895 640 868 668 862 626 882 688 922 752 903 704 909 708 872 709 920 705 867 704 861 640 943 645 901 672 907 734 868 734 903 723 900 680 888 682 907 740 901 584 903 585 881 749 897 668 895 729 853 684 887 779 907 729 894 683 933 683 955 713 906 698 915 655 904 703 947 737 785 697 885 777 884 908 915 739 875 671 903 728 830 789 860 673 930 704 855 735 894 639 956 837 852 776 869 724 928 626 916 667 890 734 842 834 914 825 884 679 841 776 860 729 920 832 889 828 884 720 912 673 911 738 907 682 892 737 866 705 892 780 857 733 889 703 858 600 904 643 956 825 913 600 877 725 882 761 903 697 938 643 899 655 890 638 916 794 825 705 912 600 887 680 888 667 881 667 931 654 910 752 888 653 919 585 897 584 906 780 906 788 929 654 935 866 908 688 954 584 888 733 877 750 928 688 931 639 899 688 907 779 848 682 873 779 895 737 869 780 877 601 920 760 894 738 875 681 903 639 927 737 881 703 891 690 902 639 909 750 851 798 911 646 883 646 890 683 883 683 937 776 902 736 892 682 859 834 899 759 880 646 939 653 854 759 876 829 861 713 920 697 884 789 887 780 904 674 885 747 904 602 902 653 923 723 873 639 871 798 921 697 883 680 921 690 882 794 859 682 864 892 903 737 887 640 875 638 921 736 868 687 860 683 858 638 899 712 887 638 873 759 918 761 854 643 920 703 876 759 907 748 878 712 920 750 905 776 875 779 865 585 811 696 859 724 856 764 853 698 908 672 912 794 875 672 909 736 885 698 917 658 892 836 905 600 903 682 887 668 881 645 940 736 854 751 929 698 893 602 854 713 893 795 901 735 902 734 905 729 884 643 917 705 878 688 891 729 931 785 874 704 856 698 862 736 848 657 875 728 837 674 896 826 892 737 936 682 906 639 875 713 908 645 885 646 926 750 932 698 927 645 887 698 901 734 902 622 889 699 882 657 930 738 874 738 909 698 906 837 897 749 917 828 872 776 901 654 894 759 891 672 902 639 926 778 879 698 867 697 882 672 898 643 916 697 902 712 898 762 915 705 900 736 885 584 940 638 887 724 849 866 892 892 900 698 868 724 913 621 856 680 938 705 876 672 810 646 898 738 885 668 913 682 872 639 939 621 885 778 828 680 906 729 827 584 902 627 830 599 902 626 910 584 922 747 889 674 890 688 896 622 904 709 900 892 897 698 863 825 893 680 898 737 837 599 902 893 906 708 889 686 878 791 933 736 845" fill="none" stroke="none" marker-start="url(#mr)" marker-mid="url(#mr)" marker-end="url(#mr)"/>
<path d="M704 894 667 859 760 897 780 902 829 900 688 860 797 856 683 903 705 867 643 921 673 846 674 849 655 869 729 840 640 936 680 859 777 908 658 934 646 890 733 860 703 879 602 856 672 932 643 909 600 869 713 895 645 743 729 900 645 943 705 875 687 895 733 854 826 865 639 902 728 898 683 890 934 859 708 886 655 906 776 856 674 896 697 879 731 885 713 817 646 929 703 856 768 890 602 891 698 852 869 897 691 954 807 903 708 900 584 912 825 887 747 916 667 892 673 845 733 860 682 907 674 838 600 906 724 869 728 888 698 819 672 873 667 803 640 852 626 839 731 902 682 883 672 879 750 875 777 893 778 884 737 887 713 881 642 918 704 853 585 919 688 893 639 857 687 815 681 874 639 862 933 904 709 855 724 859 705 883 672 844 751 808 680 876 673 936 908 909 674 877 833 878 654 883 667 867 680 876 731 919 705 848 638 802 682 874 794 911 713 916 626 858 639 900 704 909 640 884 639 871 682 884 909 917 780 868 668 829 794 859 779 811 682 856 673 935 799 902 674 931 747 904 704 899 662 891 908 886 654 879 713 891 734 898 777 867 752 889 957 776 724 901 725 855 646 883 834 810 713 901 752 904 731 915 584 878 709 885 734 842 834 833 819 871 778 873 673 881 956 894 584 885 705 928 759 901 698 874 892 900 957 864 682 918 752 901 725 906 681 840 709 885 600 893 585 876 640 902 667 857 733 902 626 899 584 889 643 915 622 909 602 893 698 892 750 912 787 884 688 870 734 885 712 858 759 900 687 906 713 896 751 861 584 862 704 891 657 917 704 905 734 876 655 845 736 911 709 902 762 885 892 907 737 876 709 906 602 903 728 870 837 908 752 803 729 883 825 863 626 858 687 865 677 890 682 932 622 901 639 895 684 894 752 875 729 881 655 901 643 903 600 906 682 904 933 870 694 908 667 917 794 885 643 840 627 900 761 850 683 915 788 842 933 862 798 910 763 872 674 897 584 885 645 881 748 800 682 802 600 916 824 883 729 858 621 929 705 837 788 808 866 905 642 899 789 875 728 912 687 908 646 862 806 850 679 778 691 899 654 920 642 823 778 862 729 844 721 863 684 892 698 875 622 912 645 901 688 871 685 908 752 886 698 887 584 924 957 775 668 858 639 923 602 915 750 878 736 868 740 896 667 894 646 946 806 912 660 906 646 904 659 920 825 860 626 876 683 860 721 888 779 904 749 919 654 891 735 885 729 878 667 915 777 858 734 805 660 847 584 834 646 925 715 944 934 795 655 927 788 803 638 903 673 890 734 890 599 913 724 902 751 867 703 889 734 925 639 938 654 856 681 873 708 878 672 888 584 901 705 859 737 883 737 869 687 936 688 878 584 886 751 857 674 847 704 886 720 859 759 896 698 879 751 827 780 841 909 918 733 902 585 920 729 873 724 891 643 857 671 884 696 909 776 899 667 892 584 890 751 877 667 861 622 851 668 886 621 859 759 882 654 887 728 870 759 845 712 876 800 899 724 912 715 898 601 919 709 882 705 907 659 911 688 837 759 897 698 910 671 902 639 937 667 936 837 915 658 896 639 914 698 909 820 907 602 861 724 868 724 896 697 889 752 949 638 858 828 910 828 899 713 895 621 896 601 913 752 927 626 909 761 900 762 882 736 880 825 852 837 892 776 928 826 901 709 895 639 936 682 841 698 903 655 921 724 891 585 868 819 909 622 879 761 899 751 875 724 943 655 915 646 919 641 784 643 891 747 815 696 931 672 917 682 883 585 870 668 911 723 889 673 876 797 794 698 911 621 860 723 857 639 912 798 808 760 838 708 869 705 898 658 925 797 810 690 866 626 896 777 873 698 901 705 878 787 861 729 908 584 883 660 914 737 830 771 849 645 929 729 856 791 862 736 915 640 911 645 929 682 895 734 875 657 931 752 872 680 804 728 877 779 881 697 919 621 898 682 920 747 826 682 865 602 896 836 874 682 905 584 918 682 903 698 893 728 902 738 854 639 820 724 863 769 889 708 862 654 897 778 926 768 865 956 862 680 856 642 893 824 855 660 907 713 905 687 856 724 853 709 888 909 906 750 935 643 929 685 881 724 868 687 867 724 853 585 898 713 857 638 904 747 892 655 895 688 897 779 861 734 791 728 847 663 942 703 866 736 878 621 855 750 867 712 872 654 928 672 899 600 875 705 875 708 892 729 859 667 900 712 876 761 884 892 900 704 898 638 915 643 843 600 919 687 891 698 887 825 886 728 881 779 918 705 819 712 878 601 878 712 846 709 922 684 933 643 841 728 899 714 915 673 927 893 839 704 860 667 912 737 854 828 899 682 902 776 887 764 878 660 874 674 914 657 865" fill="none" stroke="none" marker-start="url(#mg)" marker-mid="url(#mg)" marker-end="url(#mg)"/>
<path d="M776 861 724 888 646 938 778 888 866 897 866 886 712 912 825 891 794 863 668 853 787 861 639 840 668 899 584 895 673 891 658 873 759 874 639 853 673 887 728 872 680 807 585 899 777 864 687 874 655 878 599 820 677 862 934 861 622 884 807 885 682 871 760 892 724 916 908 921 703 894 639 870 788 851 728 815 688 936 709 831 714 854 627 900 682 915 645 881 866 904 703 887 778 886 668 858 667 905 639 905 712 912 734 898 777 872 641 835 682 852 762 882 703 894 642 898 747 904 798 911 828 873 688 847 683 867 688 869 776 825 667 898 704 893 788 906 788 900 705 840 639 928 751 849 724 892 734 855 703 874 797 878 736 830 672 856 794 870 795 872 638 865 828 799 712 928 707 909 703 885 709 832 673 886 751 893 639 889 674 891 640 900 682 848 723 886 673 929 704 900 776 871 737 896 721 865 678 889 752 901 751 908 731 868 698 890 643 899 693 891 645 863 736 820 723 859 892 900 658 927 866 859 660 895 681 926 728 880 788 798 747 849 747 847 673 869 693 877 712 862 643 907 761 889 621 871 682 858 682 904 752 897 728 831 724 893 704 848 712 890 703 926 736 859 826 856 737 857 761 890 824 855 672 888 724 879 584 768 639 906 682 923 731 853 828 905 737 767 764 903 703 842 712 845 683 892 737 820 734 864 798 906 680 879 777 824 654 906 866 911 728 833 667 893 601 864 790 861 736 873 736 906 709 900 724 898 585 880 725 893 800 897 790 860 682 867 752 930 672 928 682 899 681 831 751 921 709 915 709 846 789 876 682 902 643 869 703 898 682 929 584 878 892 903 751 915 677 906 712 834 734 887 585 888 779 886 688 891 957 891 761 891 828 903 788 887 724 873 640 847 800 812 734 882 751 904 724 852 752 848 626 874 704 897 599 855 724 924 780 876 759 842 825 890 752 870 704 856 639 891 643 923 643 939 787 889 654 904 728 894 673 881 660 885 681 869 602 902 682 885 703 871 759 873 752 882 643 849 673 892 760 837 642 850 678 923 653 914 729 913 798 873 723 913 708 849 759 875 828 909 584 879 737 886 825 883 585 877 643 866 713 894 761 889 696 883 763 891 639 890 728 884 626 893 751 895 728 893 747 919 672 892 602 879 638 865 673 854 626 871 759 887 705 877 759 884 788 908 751 904 643 878 734 919 703 900 733 883 642 863 728 904 761 892 639 915 697 791 764 879 738 886 671 841 626 864 642 875 729 892 728 843 672 879 751 889 834 908 688 868 654 925 729 842 736 856 643 880 622 915 698 896 751 897 819 902 688 860 667 900 645 914 746 850 759 876 733 876 643 858 672 920 778 904 585 873 688 893 908 920 646 882 760 860 738 905 638 852 752 865 820 866 728 896 698 851 643 894 655 915 643 935 708 891 600 775 729 886 639 852 705 850 729 846 777 858 643 907 736 888 777 872 794 906 585 913 729 869 584 898 737 847 622 897 704 889 870 898 777 893 739 879 712 879 834 920 780 840 779 907 654 906 643 955 673 871 698 861 737 884 659 894 627 913 655 852 599 913 585 880 695 897 748 786 688 855 646 929 704 901 710 745 714 917 714 883 645 899 829 877 736 895 732 882 778 885 733 905 672 883 778 854 662 865 729 841 736 919 680 870 654 905 682 906 892 886 724 837 740 811 584 879 759 875 688 868 652 888 672 860 601 871 724 898 778 896 643 910 711 894 800 857 621 867 704 867 737 847 585 898 696 879 626 908 724 873 737 848 585 923 751 847 688 897 682 939 668 904 788 879 709 868 626 900 709 844 736 866 643 876 639 852 729 861 654 917 639 921 682 858 779 875 638 877 682 912 728 830 600 862 794 847 737 835 660 872 724 896 729 835 674 889 601 874 654 861 671 894 682 904 712 840 687 882 837 893 662 955 639 844 764 899 599 897 645 877 682 888 681 913 698 866 776 889 780 836 679 876 958 895 704 836 643 860 728 875 698 837 820 885 712 922 673 927 654 893 825 885 673 893 736 867 784 858 680 897 751 881 674 886 761 813 764 871 777 858 737 837 643 919 682 862 668 884 763 881 674 879 736 807 626 914 698 868 688 898 763 863 829 886 584 873 681 865 761 882 704 836 683 877 724 925 751 868 584 919 682 882 725 869 728 901 751 860 837 868 639 916 713 869 704 869 688 887 601 921 698 856 713 888 724 847 759 838 788 842 639 856 657 898 708 880 642 899 736 895 834 895 703 880 639 919 829 891 705 903 599 917 828 854 778 862 653 881 683 898 764 907 584 907 655 909 759 917 698 894 934 837 892 886 584 903 688 904 751 877 643 892 777 885 784 875 680 897 697 908 776 919 751 904 622 858 736 871 776 880 909 902 683 867 751 889 667 852 759 907 733 874 703 876 713 901 601 860 643 838 713 895 600 874 655 876 738 907 712 871 639 900 764 876 685 854 736 873 642 906 761 848 747 882 820 883 728 888 682 882 778 875 639 868 584 889 646 860 673 829 682 920 705 865 825 873 825 810 760 855 736 866 729 848 672 842 709 868 673 905 643 930 600 904 761 839 698 865 585 909 585 899 724 885 682 900 643 871 788 908 655 898 703 896 724 845 733 902 778 869 733 877 601 879 646 903 602 896 645 906 646 914 679 900 688 905 584 863 837 883 729 832 737 896 791 879 682 877 679 865 778 888 837 888 639 949 712 853 688 896 907 897 660 898 736 877 654 904 643 903 585 921 866 908 680 867 728 867 736 877 751 928 681 898 660 924 709 817 789 825 622 901 642 829 683 925 750 878 794 842 584 915 672 839 763 895 655 897 729 914 682 932 698 893 729 876 655 912 698 882 869 884 585 848 794 835 724 888 825 796 659 883 645 754 703 901 751 855 639 864 724 829 697 853 750 918 659 888 600 869 584 903 667 934 639 910 698 851 673 851 826 912 779 902 584 871 729 804 735 862 677 912 741 953 729 909 682 892 698 913 703 895 728 851 680 883 735 705 713 889 735 879 667 881 736 795 712 864 645 859 672 905 640 878 681 915 696 905 829 881 584 918 622 897 736 851 672 871 705 864 729 908 778 838 638 895 789 865 683 915 728 910 748 762 698 877 779 883 654 881 585 911 825 879 708 846 747 893 705 883 704 895 694 861 693 843 826 878 683 891 602 892 705 867 705 905 703 856 673 833 833 902 655 880 724 908 825 847 776 880 751 857 682 888 584 886 759 865 828 908 708 877 737 931 733 901 820 878 697 852 705 846 680 824 584 898 643 875 584 861 760 870 761 872 584 867 737 823 747 893 724 904 643 868 760 848 697 883 837 887 708 892 698 864 626 906 645 923 682 833 709 890 705 884 724 901 780 833 728 891 639 936 676 874 737 914 703 907 794 895 752 874 691 819 705 905 698 897 729 839 720 863 751 871 776 867 820 856 762 883 584 901 708 889 751 875 825 911 639 933 621 925 640 912 643 837 639 881 672 907 646 848 724 897 724 881 646 864 752 920 704 899 709 855 704 836 778 866 687 927 698 864 639 896 777 839 728 896 869 886 869 900 674 790 657 901 778 853 682 899 777 906 724 840 734 829 680 851 779 908 833 882 909 922 638 881 668 874 736 860 728 889 638 893 646 872 738 882 704 888 705 842 752 867 751 875 585 892 642 849 751 877 705 831 599 869 697 865 698 876 653 858 653 884 682 864 777 914 688 886 680 848 584 921 685 872 673 910 712 833 680 888 621 919 643 868 584 903 646 916 763 912 708 900 682 838 712 832 638 922 600 891 713 910 626 859 643 904 731 862 643 899 668 839 712 861 934 809 737 863 585 898 770 856 681 867 737 874 679 878 724 824 683 923 680 908 643 899 622 874 643 872 703 879 687 897 712 887 584 863 734 821 671 912 621 881 708 884 698 925 751 846 621 891 752 791 760 869 779 877 734 912 747 872 680 914 600 853 660 895 729 867 908 903 698 832 687 846 779 812 639 935 640 858 673 851 672 885 673 858 705 829 703 861 784 844 599 905 729 872 761 887 825 889 737 857 794 851 759 886 601 934 789 851 703 878 646 858 682 880 704 886 674 832 655 888 642 857 709 924 750 871 791 899 698 893 828 898 681 851 751 910 733 875 747 851 688 852 734 820 752 865 660 905 626 876 621 922 698 854 697 784 789 830 645 936 778 836 690 903 826 899 736 873 825 892 778 898 708 892 667 830 638 900 866 879 697 860 601 899 760 863 645 859 733 882 778 893 750 932 734 879 655 916 729 906 760 889 668 908 697 866 777 901 780 841 682 913 737 882 759 910 643 886 728 794 639 920 688 914 729 834 674 887 820 865 789 859 712 877 657 896 697 865 704 894 655 915 956 880 828 901 750 848 674 877 698 903 829 892 724 855 779 890 777 911 728 874 655 917 760 873 655 873 709 895 729 889 642 910 734 865 729 837 705 896 667 859 764 917 698 896 777 876 667 937 686 806 672 891 712 904 893 884 674 874 834 877 777 908 729 872 676 846 738 863 601 881 668 896 714 899 672 889 646 857 681 916 791 894 724 879 621 886 698 860 621 899 599 884 737 846 729 855 674 878 682 934 645 901 734 888 679 834 737 889 780 811 657 903 908 919 668 879 655 912 702 863 584 918 738 834 777 905 764 857 751 805 751 860 674 900 680 905 893 892 764 894 683 866 747 871 600 871 825 900 763 862 762 870 639 928 751 904 639 903 778 814 711 895 645 856 789 899 892 891 763 868 639 874 682 881 734 909 776 877 641 843 828 858 682 868 690 894 602 905 734 878 909 897 759 851 736 880 737 847 643 873 776 827 690 854 751 898 683 919 646 859 791 857 639 912 682 906 688 924 798 881 667 901 737 857 909 910 639 912 645 865 584 913 832 900 682 909 736 859 673 872 724 858 672 863 643 904 833 877 705 903 712 855 825 874 584 904 687 908 695 861 671 859 585 911 734 909 759 899 759 903 829 877 751 885 697 870 584 866 698 894 933 893 777 882 776 877 639 904 820 915 645 850 673 918 729 824 704 894 777 857 729 815 763 905 909 915 704 816 601 887 680 890 734 899 662 888 642 883 702 906 626 876 834 866 640 909 639 802 794 877 759 866 957 799 685 891 866 909 715 902 892 810 759 840 645 925 688 874 908 904 667 860 682 894 734 811 708 866 682 868 737 904 760 876 638 950 621 895 724 862 602 877 673 858 602 865 834 872 705 837 750 887 725 892 908 923 682 936 778 866 680 920 640 927 602 910 698 876 737 906 678 887 728 796 688 844 729 871 724 832 776 886 626 906 646 876 712 861 695 865 833 857 657 893 800 887 646 926 643 914 829 874 697 834 698 844 681 942 733 885 759 893 724 854 668 876 688 901 789 847 728 900 682 867 829 884 759 894 585 918 729 928 713 935 703 873 736 790 639 921 681 875 640 883 585 918 784 880 737 797 667 844 752 860 697 842 705 891 728 892 658 897 737 881 869 903 682 858 759 895 627 904 778 844 626 915 643 923 599 919 729 941 702 924 667 905 682 855 800 880 751 917 627 871 645 892 752 912 638 864 870 914 663 896 622 887 761 848 909 896 728 916 728 831 640 907 667 917 777 886 759 869 682 830 779 886 672 866 585 872 820 895 736 803 828 800 736 866 671 910 761 848 682 924 709 892 698 836 621 897 724 894 759 894 713 885 697 889 621 902 642 900 698 830 584 885 752 866 780 891 708 883 705 903 763 879 639 938 673 830 771 898 739 851 736 905 640 888 739 908 645 925 639 922 627 924 645 743 682 907 667 849 751 864 779 840 777 807 824 856 734 914 794 859 654 907 657 861 599 774 713 879 643 912 734 884 734 906 794 873 667 872 738 852 777 899 706 823 682 878 601 877 763 876 779 858 602 903 697 873 724 917 654 874 709 854 584 929 712 901 626 895 751 880 788 873 672 631 682 838 721 879 683 905 733 845 713 873 639 906 736 848 709 904 729 868 737 856 828 909 626 911 787 902 797 753 724 884 777 845 825 884 759 919 674 839 643 849 733 885 731 923 601 870 908 899 584 890 678 909 892 897 760 819 728 850 698 891 752 886 729 915 698 859 639 897 654 912 602 876 825 857 683 862 780 853 759 900 643 890 639 894 667 921 724 887 697 811 697 901 643 879 704 869 705 892 691 926 638 908 737 892 639 849 704 864 688 919 752 865 777 868 646 942 751 892 724 862 646 899 787 881 713 876 683 898 712 924 687 924 677 906 585 866 789 857 672 889 729 867 672 916 646 919 703 877 643 935 834 875 683 872 639 903 800 890 759 904 645 927 713 816 680 857 659 870 829 887 682 846 674 823 682 867 643 828 698 914 788 878 705 899 660 902 776 863 658 913 654 904 667 825 687 820 709 904 697 889 713 885 778 900 751 888 654 890 621 893 626 909 585 886 681 863 709 864 703 844 825 869 795 897 674 830 712 897 683 917 683 851 640 895" fill="none" stroke="none" marker-start="url(#mb)" marker-mid="url(#mb)" marker-end="url(#mb)"/>
</g>
<line x1="583.2" y1="899.4" x2="956.5" y2="885.5" stroke="#F0554C" stroke-width="5.2"/>
<line x1="583.2" y1="893.6" x2="956.5" y2="874.3" stroke="#16A82C" stroke-width="5.2"/>
<line x1="583.2" y1="880.7" x2="956.5" y2="858.9" stroke="#4E82EE" stroke-width="5.2"/>
<rect x="542.3" y="568.8" width="436.4" height="411.2" fill="none" stroke="#333" stroke-width="1.1"/>
<text transform="translate(615.3,619.2) scale(1,1.045)" x="0" y="0" style="font-family:'Liberation Sans',sans-serif" font-size="28.3" text-anchor="middle" fill="#000">r<tspan dx="7">=</tspan><tspan dx="7">0.1</tspan></text>
<line x1="655.1" y1="980" x2="655.1" y2="983.6" stroke="#333" stroke-width="1.1"/>
<text transform="translate(655.1,1009.0) scale(1,1.045)" x="0" y="0" style="font-family:'Liberation Sans',sans-serif" font-size="30.3" text-anchor="middle" fill="#222">2.0</text>
<line x1="782.0" y1="980" x2="782.0" y2="983.6" stroke="#333" stroke-width="1.1"/>
<text transform="translate(782.0,1009.0) scale(1,1.045)" x="0" y="0" style="font-family:'Liberation Sans',sans-serif" font-size="30.3" text-anchor="middle" fill="#222">2.5</text>
<line x1="908.9" y1="980" x2="908.9" y2="983.6" stroke="#333" stroke-width="1.1"/>
<text transform="translate(908.9,1009.0) scale(1,1.045)" x="0" y="0" style="font-family:'Liberation Sans',sans-serif" font-size="30.3" text-anchor="middle" fill="#222">3.0</text>
<text transform="translate(1204.3,562.3) scale(1,1.045)" x="0" y="0" style="font-family:'Liberation Sans',sans-serif" font-size="30.3" text-anchor="middle" fill="#000">POL</text>
<clipPath id="cpPOL"><rect x="986.1" y="568.8" width="436.4" height="411.2"/></clipPath>
<g clip-path="url(#cpPOL)">
<path d="M1143 915 1161 915 1143 865 1224 867 1178 877 1180 907 1214 892 1164 863 1160 918 1180 952 1129 936 1215 825 1186 886 1169 803 1213 900 1214 897 1090 842 1239 913 1280 873 1094 910 1100 875 1161 884 1224 933 1275 927 1114 899 1101 892 1168 896 1232 910 1109 887 1198 928 1114 904 1331 912 1306 928 1139 918 1124 902 1093 912 1169 920 1097 902 1163 878 1229 906 1168 906 1149 909 1216 896 1165 917 1247 892 1164 856 1186 912 1254 933 1165 887 1139 859 1144 909 1110 899 1090 916 1120 896 1280 924 1101 856 1138 921 1128 899 1128 906 1199 905 1148 902 1114 857 1224 869 1265 930 1275 885 1227 904 1129 885 1133 897 1239 915 1157 921 1285 911 1078 881 1092 879 1215 889 1180 887 1110 839 1113 864 1213 899 1165 898 1157 864 1180 889 1163 912 1321 923 1163 917 1264 913 1093 912 1103 799 1144 924 1214 812 1288 904 1133 926 1186 937 1161 884 1186 922 1098 867 1115 879 1118 870 1163 898 1139 921 1109 876 1101 900 1154 828 1161 892 1231 905 1148 947 1307 903 1093 911 1278 907 1114 926 1214 896 1138 896 1163 905 1246 869 1129 903 1285 912 1164 901 1275 894 1144 920 1133 889 1216 861 1119 910 1168 927 1161 911 1246 890 1161 913 1108 817 1301 926 1165 866 1214 904 1229 907 1304 888 1093 912 1090 891 1332 886 1128 849 1119 879 1094 884 1091 901 1125 930 1253 900 1264 920 1157 895 1309 911 1144 918 1102 864 1143 903 1274 947 1224 921 1157 864 1109 901 1128 923 1110 874 1230 857 1210 930 1090 900 1180 898 1078 891 1139 908 1114 933 1097 925 1138 884 1225 900 1232 885 1288 908 1109 868 1101 879 1224 915 1304 911 1110 891 1214 927 1247 905 1215 888 1185 910 1199 935 1280 904 1117 915 1101 882 1158 873 1202 912 1098 880 1109 894 1186 896 1163 905 1181 927 1303 926 1180 919 1163 918 1273 908 1093 904 1304 888 1278 908 1144 896 1118 897 1114 900 1186 879 1138 897 1114 909 1093 858 1093 861 1273 933 1078 911 1202 902 1115 857 1163 886 1186 897 1110 879 1093 919 1115 909 1278 930 1102 866 1163 943 1078 901 1186 901 1093 901 1240 871 1133 906 1198 918 1224 911 1157 905 1094 876 1394 908 1235 911 1161 861 1216 905 1215 914 1098 870 1198 891 1143 897 1310 893 1321 882 1198 936 1129 879 1284 870 1113 910 1214 920 1300 822 1165 904 1110 887 1100 893 1236 912 1117 914 1078 875 1093 937 1246 911 1133 915 1186 914 1178 857 1186 900 1278 931 1148 902 1213 914 1199 883 1157 887 1213 898 1097 925 1114 901 1092 902 1210 898 1179 923 1329 910 1329 923 1094 873 1139 890 1161 895 1110 857 1214 921 1158 879 1210 895 1214 892 1102 904 1119 929 1186 915 1213 902 1129 919 1216 904 1118 913 1094 918 1094 919 1163 910 1215 932 1133 937 1254 928 1117 858 1125 889 1236 847 1128 933 1246 871 1097 899 1184 919 1165 924 1124 859 1284 885 1149 926 1161 857 1186 898 1133 868 1239 889 1224 900 1129 932 1278 893 1165 875 1097 913 1157 849 1092 897 1213 913 1157 883 1144 895 1128 891 1110 880 1202 924 1160 890 1230 868 1077 876 1097 917 1239 907 1181 880 1230 916 1273 886 1128 870 1199 935 1143 909 1078 906 1213 879 1186 928 1161 898 1133 911 1247 890 1093 873 1157 900 1169 816 1240 898 1310 877 1224 898 1161 911 1102 899 1289 918 1078 864 1232 889 1186 903 1214 905 1215 898 1239 911 1100 909 1228 928 1157 893 1394 913 1230 878 1161 868 1273 904 1214 897 1247 925 1125 913 1124 918 1254 919 1109 878 1120 831 1139 892 1230 935 1213 936 1163 917 1143 864 1138 932 1140 883 1171 798 1236 913 1224 905 1078 895 1213 916 1246 871 1214 890 1138 865 1178 901 1186 911 1321 928 1078 860 1078 873 1214 924 1316 941 1178 883 1273 926 1161 902 1163 897 1090 891 1129 933 1264 886 1395 943 1236 923 1128 859 1121 926 1139 891 1101 907 1121 876 1278 926 1139 897 1161 942 1279 885 1143 851 1228 894 1139 929 1144 864 1213 913 1119 889 1185 908 1139 912 1213 898 1077 887 1161 880 1284 939 1247 873 1114 864 1161 866 1199 865 1186 907 1097 890 1215 909 1128 875 1125 906 1169 898 1247 908 1180 916 1304 897 1224 882 1228 939 1078 897 1120 906 1239 922 1117 864 1307 936 1161 915 1198 935 1139 889 1273 906 1273 886 1224 935 1275 905 1102 903 1138 886 1161 925 1164 899 1161 899 1214 892 1100 889 1162 890 1078 886 1213 882 1097 907 1132 901 1120 896 1078 908 1102 936 1119 904 1161 897 1158 887 1247 930 1329 865 1227 902 1178 922 1160 920 1149 891 1186 899 1229 913 1246 903 1097 873 1132 914 1114 909 1164 916 1149 903 1161 877 1224 941 1100 916 1329 918 1301 922 1394 896 1185 887 1186 925 1138 930 1253 906 1097 898 1214 873 1101 916 1164 914 1093 878 1230 879 1232 908 1102 889 1110 898 1168 854 1235 921 1178 891 1180 918 1097 889" fill="none" stroke="none" marker-start="url(#mr)" marker-mid="url(#mr)" marker-end="url(#mr)"/>
<path d="M1215 880 1158 911 1186 895 1128 880 1090 908 1091 904 1161 868 1143 912 1187 914 1118 881 1114 874 1229 908 1097 887 1100 893 1091 884 1139 873 1114 898 1210 915 1143 909 1103 770 1202 905 1094 889 1121 841 1168 907 1168 883 1094 855 1114 847 1278 915 1178 936 1139 899 1157 875 1164 926 1239 913 1110 911 1236 896 1214 915 1102 874 1090 900 1216 885 1214 909 1102 827 1093 879 1093 887 1213 918 1139 937 1248 897 1163 927 1114 891 1115 885 1158 885 1157 849 1114 931 1253 907 1184 901 1163 904 1275 910 1101 886 1114 869 1128 894 1114 926 1321 942 1180 877 1214 888 1161 858 1198 891 1310 906 1118 869 1139 900 1164 892 1165 922 1332 870 1139 929 1162 889 1139 938 1316 877 1101 866 1253 904 1102 861 1160 905 1090 870 1402 886 1178 935 1119 883 1235 815 1180 861 1163 888 1139 884 1125 891 1139 917 1094 904 1202 893 1149 919 1113 919 1214 880 1113 910 1118 884 1304 916 1239 910 1094 875 1202 898 1224 935 1278 907 1315 911 1139 925 1138 887 1110 897 1179 914 1143 913 1280 903 1320 912 1078 909 1278 906 1133 923 1090 919 1184 891 1097 888 1187 903 1125 867 1097 882 1216 893 1230 882 1224 880 1160 876 1139 909 1231 914 1216 889 1230 892 1114 892 1215 904 1279 909 1239 920 1216 906 1164 913 1090 879 1143 867 1078 887 1229 882 1184 888 1114 899 1143 940 1186 910 1158 928 1143 915 1164 898 1178 894 1158 898 1162 915 1115 906 1093 913 1186 875 1214 876 1120 910 1275 912 1184 906 1101 894 1230 895 1139 861 1302 902 1161 919 1180 895 1239 905 1229 924 1239 904 1227 876 1163 914 1185 877 1247 894 1307 877 1094 915 1168 899 1101 879 1163 872 1097 874 1178 883 1109 846 1093 895 1254 925 1095 887 1280 901 1209 887 1264 910 1093 909 1178 895 1161 899 1149 843 1231 882 1114 878 1227 928 1133 869 1165 921 1276 887 1149 877 1091 878 1128 950 1161 850 1110 904 1139 870 1305 872 1186 904 1163 856 1224 874 1168 915 1100 909 1148 893 1198 887 1094 904 1273 935 1253 909 1100 900 1133 899 1124 892 1078 885 1202 898 1216 898 1094 912 1161 920 1231 889 1168 866 1185 904 1229 907 1316 912 1157 866 1163 863 1229 917 1181 909 1143 881 1143 917 1275 924 1161 874 1239 911 1230 863 1114 865 1169 851 1227 892 1100 917 1224 897 1310 899 1078 899 1139 893 1186 867 1236 862 1124 899 1139 899 1160 894 1186 865 1186 912 1110 908 1227 923 1184 852 1094 892 1168 915 1199 874 1230 916 1180 882 1091 905 1180 887 1132 936 1239 939 1273 898 1275 913 1093 889 1163 874 1094 877 1118 856 1264 895 1169 907 1077 873 1132 860 1227 913 1180 904 1139 933 1093 896 1235 890 1160 880 1093 864 1247 868 1129 839 1180 901 1306 913 1239 909 1162 883 1097 899 1164 861 1163 914 1273 917 1161 895 1091 899 1162 894 1186 892 1094 865 1331 908 1214 886 1185 882 1225 852 1329 894 1101 887 1133 897 1203 910 1214 909 1186 902 1210 890 1157 892 1231 884 1306 897 1115 933 1097 885 1199 905 1198 867 1110 851 1161 890 1302 918 1224 909 1143 899 1180 892 1305 913 1161 902 1202 893 1227 885 1185 919 1202 920 1168 890 1202 920 1289 918 1284 918 1161 903 1078 906 1210 858 1139 922 1078 830 1199 864 1275 919 1114 896 1209 827 1180 868 1110 865 1209 907 1403 898 1101 916 1094 898 1239 937 1170 721 1239 922 1094 900 1214 890 1214 921 1186 736 1199 912 1138 883 1139 900 1120 892 1180 869 1114 887 1098 922 1186 894 1161 919 1138 902 1120 895 1210 911 1280 906 1165 899 1144 875 1198 857 1236 874 1094 934 1114 896 1185 900 1181 884 1093 872 1094 925 1132 883 1310 910 1093 865 1143 897 1164 909 1198 912 1128 918 1109 920 1331 903 1128 877 1114 864 1094 909 1279 917 1094 899 1202 892 1093 893 1094 902 1186 871 1101 882 1129 878 1114 922 1161 895 1129 907 1101 895 1133 881 1275 882 1165 906 1201 926 1165 908 1143 914 1117 937 1139 870 1128 924 1157 881 1310 877 1180 897 1162 916 1302 915 1149 873 1254 920 1100 903 1255 929 1395 897 1288 877 1077 880 1328 945 1214 864 1101 895 1114 898 1289 894 1101 917 1133 907 1213 926 1227 939 1162 831 1181 948 1101 885 1110 894 1280 913 1168 879 1273 901 1114 861 1138 892 1158 875 1094 915 1310 899 1091 896 1198 921 1129 942 1094 881 1180 883 1143 917 1158 902 1102 893 1114 855 1133 928 1097 895 1210 882 1114 911 1164 913 1168 928 1078 869 1133 896 1101 939 1157 947 1091 896 1143 892 1199 881 1158 919 1138 906 1304 880 1101 943 1239 875 1178 902 1185 917 1138 909 1310 889 1185 869 1160 908 1119 906 1125 915 1303 912 1202 898 1161 903 1164 878 1102 873 1289 915 1115 887 1228 878 1101 919 1168 854 1264 876 1228 910 1100 870 1094 925 1165 876 1210 891 1184 865 1186 900 1139 851 1128 917 1090 914 1161 872 1102 925 1307 920 1139 901 1139 903 1160 918 1202 904 1254 892 1129 909 1280 895 1301 888 1178 891 1230 890 1163 927 1100 891 1288 911 1162 890 1149 912 1216 895 1289 933 1239 883 1094 888 1133 892 1247 908 1128 863 1161 896 1216 938 1139 865 1214 880 1114 927 1216 867 1139 912 1227 952 1235 924 1139 851 1139 914 1132 858 1273 882 1132 916 1273 923 1285 911 1117 887 1239 931 1169 872 1184 924 1307 896 1101 841 1214 929 1101 909 1302 902 1231 902 1228 903 1161 918 1149 913 1125 916 1224 894 1139 884 1118 880 1310 931 1214 871 1307 911 1213 874 1101 898 1164 909 1158 889 1165 919 1185 907 1213 907 1110 897 1186 890 1329 911 1094 859 1210 900 1128 893 1113 901 1185 887 1133 934 1186 894 1213 875 1247 898 1214 870 1214 914 1157 879 1139 881 1301 877 1178 905 1110 921 1114 834 1306 879 1227 922 1161 914 1178 857 1092 911 1077 874 1169 895 1199 917 1232 904 1186 920 1139 906 1093 911 1121 877 1186 943 1149 903 1077 896 1102 848 1094 843 1186 861 1093 939 1257 851 1181 893 1246 897 1129 904 1184 897 1276 894 1227 932 1303 918 1163 907 1094 861 1078 875 1254 907 1133 850 1165 905 1115 892 1102 875 1180 880 1117 893 1185 900 1285 921 1101 882 1138 906 1224 906 1199 917 1115 886 1132 918 1139 940 1163 896 1231 891 1158 908 1215 938 1093 898 1216 920 1094 863 1186 894 1215 855 1110 903 1161 902 1185 927 1264 892 1121 894 1102 923 1236 914 1110 900 1139 932 1186 854 1179 916 1186 906 1119 918 1273 888 1170 792 1109 883 1114 886 1153 824 1129 901 1186 882 1143 877 1109 859 1161 896 1118 904 1093 892 1168 881 1169 887 1273 914 1149 879 1180 903 1102 854 1224 910 1306 891 1110 852 1161 866 1240 905 1162 899 1102 890 1139 949" fill="none" stroke="none" marker-start="url(#mg)" marker-mid="url(#mg)" marker-end="url(#mg)"/>
<path d="M1328 910 1121 887 1139 937 1185 905 1231 901 1094 890 1161 913 1113 896 1281 869 1162 915 1093 895 1235 909 1184 888 1232 905 1139 908 1214 925 1321 906 1215 863 1101 907 1160 907 1239 892 1143 902 1149 866 1139 906 1158 926 1097 893 1077 881 1124 889 1178 912 1186 899 1091 874 1235 921 1274 913 1078 862 1239 887 1148 895 1228 849 1239 893 1094 891 1165 891 1078 891 1275 885 1180 898 1161 886 1129 888 1180 848 1110 918 1133 930 1091 877 1224 861 1139 920 1213 883 1110 857 1215 851 1132 891 1274 913 1210 865 1198 888 1274 927 1149 912 1254 919 1114 869 1094 844 1121 890 1247 905 1163 919 1315 898 1143 865 1144 921 1078 903 1163 864 1210 886 1273 915 1093 863 1121 804 1285 907 1186 895 1273 889 1090 880 1214 911 1144 911 1093 863 1264 905 1235 893 1133 840 1254 925 1210 911 1214 731 1178 922 1224 869 1168 883 1202 938 1178 913 1078 918 1160 901 1186 874 1202 903 1129 922 1231 910 1102 854 1280 909 1129 896 1149 914 1120 918 1231 921 1109 877 1101 892 1139 849 1230 900 1139 918 1133 909 1114 907 1225 913 1148 888 1097 877 1288 888 1198 885 1273 906 1157 881 1224 852 1210 900 1093 897 1165 872 1093 895 1094 868 1077 867 1164 892 1230 894 1274 924 1139 891 1185 902 1239 910 1216 882 1169 854 1114 874 1133 937 1203 917 1157 902 1110 896 1139 916 1163 922 1224 916 1120 903 1139 887 1168 896 1229 890 1328 900 1163 874 1215 913 1198 859 1246 910 1118 941 1224 948 1246 885 1240 867 1097 872 1178 880 1100 915 1202 914 1165 891 1275 904 1161 898 1161 857 1264 923 1184 874 1165 868 1231 897 1231 892 1118 876 1169 889 1240 924 1254 914 1168 864 1102 872 1179 897 1128 917 1178 926 1328 881 1124 864 1214 909 1240 927 1273 879 1092 906 1247 872 1162 915 1160 895 1169 861 1097 920 1097 846 1309 905 1145 944 1089 866 1180 906 1100 899 1149 872 1093 872 1235 886 1332 885 1157 911 1227 878 1102 920 1224 857 1102 853 1181 874 1202 905 1122 947 1178 906 1224 859 1143 844 1224 860 1214 893 1143 901 1165 890 1100 897 1284 903 1180 901 1101 917 1114 866 1133 888 1094 882 1209 874 1115 877 1209 915 1139 883 1157 900 1129 875 1224 866 1120 898 1091 910 1202 871 1231 910 1092 882 1254 895 1302 906 1163 903 1113 918 1128 919 1180 884 1161 871 1114 872 1170 758 1093 889 1301 879 1091 891 1165 877 1210 876 1164 915 1184 901 1181 894 1264 876 1128 903 1202 900 1149 899 1213 878 1165 845 1128 891 1210 893 1090 867 1235 913 1101 922 1128 893 1162 899 1091 907 1093 893 1246 899 1124 880 1215 912 1210 873 1202 895 1125 893 1202 900 1199 909 1304 910 1100 844 1129 877 1114 856 1201 933 1168 889 1227 850 1224 883 1232 897 1078 889 1097 892 1239 919 1143 899 1102 900 1100 883 1202 791 1094 856 1114 885 1114 891 1273 901 1329 875 1077 863 1117 888 1274 899 1214 887 1129 885 1214 910 1165 920 1224 897 1100 855 1110 905 1139 875 1329 888 1143 863 1224 850 1254 909 1186 867 1186 909 1236 861 1078 893 1143 934 1263 904 1093 907 1098 896 1093 912 1077 844 1094 925 1129 920 1246 869 1147 949 1148 840 1309 891 1160 931 1247 911 1094 885 1165 919 1114 896 1078 902 1263 905 1114 911 1149 876 1164 904 1302 884 1274 915 1178 855 1110 917 1201 902 1090 895 1210 882 1161 878 1120 796 1247 920 1094 911 1163 934 1240 892 1240 859 1120 884 1321 861 1160 876 1168 878 1148 814 1186 882 1164 862 1180 907 1227 886 1227 915 1306 887 1143 890 1284 924 1160 895 1101 899 1100 878 1132 932 1094 900 1310 884 1139 904 1157 876 1186 872 1143 866 1094 841 1214 912 1161 935 1113 864 1210 852 1094 850 1213 887 1168 913 1144 918 1102 849 1305 901 1144 900 1169 913 1114 884 1114 884 1273 918 1275 893 1093 852 1128 908 1102 870 1139 925 1165 884 1170 803 1185 900 1232 926 1097 854 1178 867 1239 919 1129 938 1275 915 1227 868 1202 939 1078 879 1248 828 1202 931 1185 909 1181 886 1138 889 1179 892 1265 935 1185 896 1090 890 1202 945 1273 876 1178 927 1144 905 1093 849 1247 894 1114 858 1229 905 1301 854 1403 874 1304 903 1114 872 1198 868 1094 910 1110 906 1227 906 1161 909 1273 883 1231 901 1117 879 1239 869 1215 879 1288 917 1165 919 1163 846 1139 887 1186 871 1224 866 1285 915 1178 914 1199 911 1163 891 1180 906 1139 901 1157 855 1102 883 1235 908 1180 898 1093 878 1185 863 1202 931 1224 917 1138 871 1224 886 1100 902 1214 853 1078 865 1148 909 1185 919 1092 924 1186 894 1301 880 1303 927 1164 864 1310 871 1165 873 1216 864 1186 880 1255 866 1100 855 1161 896 1185 896 1186 900 1139 916 1284 909 1229 865 1161 886 1163 838 1264 920 1178 895 1165 885 1227 883 1186 921 1169 879 1148 914 1124 912 1235 902 1264 900 1162 860 1216 873 1118 892 1093 897 1114 871 1247 904 1321 883 1129 875 1302 877 1394 905 1246 877 1186 863 1186 861 1139 928 1215 886 1129 908 1395 935 1148 854 1149 891 1100 904 1133 883 1213 870 1092 861 1331 899 1117 919 1178 895 1093 859 1254 907 1102 923 1232 901 1231 891 1178 883 1168 893 1118 858 1139 893 1077 895 1093 853 1110 889 1246 893 1315 860 1094 904 1158 886 1093 854 1178 857 1165 934 1264 920 1186 916 1236 860 1332 895 1133 876 1143 916 1202 899 1163 882 1179 886 1169 860 1129 899 1299 828 1186 871 1118 902 1246 928 1224 875 1118 933 1113 846 1139 904 1169 893 1274 886 1138 906 1144 907 1304 903 1394 881 1199 893 1165 896 1224 917 1161 876 1178 887 1110 871 1216 871 1115 885 1227 862 1100 894 1264 921 1254 887 1180 910 1273 914 1214 889 1101 881 1235 935 1332 900 1100 849 1160 901 1202 903 1254 889 1227 924 1143 889 1110 894 1304 906 1090 893 1093 898 1227 899 1100 855 1228 881 1097 909 1138 885 1202 890 1158 904 1139 871 1264 919 1163 870 1289 908 1239 879 1149 882 1288 897 1284 884 1274 878 1132 907 1227 886 1114 858 1180 895 1246 878 1254 921 1203 924 1128 876 1209 913 1093 897 1143 865 1235 929 1284 866 1246 925 1310 898 1110 901 1186 859 1078 874 1090 914 1310 930 1117 868 1247 928 1280 921 1178 908 1168 914 1224 846 1101 872 1149 864 1274 929 1101 832 1227 897 1161 918 1092 907 1321 885 1119 929 1168 878 1109 908 1184 904 1213 855 1273 897 1202 869 1158 908 1149 901 1186 904 1285 934 1214 899 1224 909 1202 896 1144 944 1129 927 1301 895 1202 880 1162 888 1224 859 1186 894 1132 861 1162 879 1235 903 1140 903 1301 859 1139 898 1214 922 1227 895 1210 858 1164 761 1180 857 1161 883 1097 916 1120 910 1184 884 1211 867 1216 886 1275 901 1305 866 1091 898 1273 894 1097 898 1165 893 1231 880 1185 887 1186 862 1149 928 1199 913 1132 901 1133 899 1273 897 1089 919 1161 847 1129 901 1101 873 1093 851 1110 894 1139 881 1247 936 1114 927 1303 880 1093 899 1394 925 1149 919 1101 873 1094 885 1129 905 1102 910 1235 918 1161 854 1110 897 1093 871 1224 927 1310 894 1185 921 1273 922 1239 906 1164 886 1213 875 1164 865 1225 897 1199 915 1185 864 1138 874 1214 865 1163 899 1139 901 1110 858 1168 853 1265 902 1100 861 1097 913 1201 874 1169 869 1100 859 1215 934 1186 911 1216 938 1093 885 1186 908 1164 790 1078 890 1117 877 1186 904 1114 907 1331 867 1198 876 1214 898 1144 891 1202 864 1247 860 1168 862 1169 889 1235 902 1214 879 1101 891 1227 927 1161 916 1138 864 1178 867 1247 880 1264 886 1102 883 1231 873 1264 939 1139 898 1094 878 1284 911 1224 880 1168 892 1210 858 1186 883 1143 894 1168 862 1144 904 1101 899 1186 891 1144 921 1094 865 1214 870 1163 885 1273 902 1162 905 1129 895 1149 900 1274 909 1169 906 1288 908 1164 886 1139 912 1097 898 1168 889 1284 881 1214 880 1101 919 1097 853 1139 899 1247 906 1098 873 1227 914 1214 884 1239 930 1180 910 1144 889 1227 897 1215 897 1097 883 1100 934 1209 891 1119 910 1157 896 1162 880 1275 888 1279 897 1178 899 1161 876 1132 906 1274 930 1144 872 1139 928 1168 877 1274 878 1125 914 1186 855 1213 863 1093 865 1144 919 1110 889 1128 904 1101 916 1202 898 1078 788 1178 889 1210 857 1078 879 1139 898 1210 833 1097 898 1178 877 1138 874 1228 927 1097 879 1114 854 1186 886 1185 889 1213 883 1210 912 1180 927 1264 891 1247 943 1301 890 1143 896 1157 853 1394 897 1178 873 1098 845 1214 887 1140 901 1114 882 1210 855 1280 910 1236 895 1110 879 1139 912 1214 884 1235 907 1213 863 1202 906 1178 908 1138 855 1143 898 1285 898 1161 893 1210 887 1101 866 1229 876 1216 908 1162 894 1113 875 1240 916 1139 897 1186 901 1128 907 1157 870 1227 897 1161 926 1102 886 1093 920 1278 919 1139 897 1148 837 1119 917 1186 873 1285 897 1198 909 1180 868 1114 868 1110 902 1093 916 1093 822 1114 893 1114 894 1097 886 1114 907 1273 914 1114 919 1101 888 1109 862 1097 881 1128 928 1169 792 1078 852 1210 901 1171 820 1162 883 1143 901 1165 869 1139 910 1255 864 1186 914 1078 904 1180 892 1240 909 1213 915 1133 898 1202 897 1161 903 1109 900 1224 921 1186 896 1332 876 1216 896 1163 885 1139 907 1168 908 1264 894 1129 867 1144 867 1273 910 1133 860 1114 914 1077 905 1139 862 1100 894 1132 915 1199 942 1094 860 1133 931 1264 921 1115 882 1246 923 1168 868 1097 895 1139 893 1210 879 1246 909 1110 871 1185 923 1078 882 1138 910 1133 880 1179 883 1235 915 1118 924 1139 866 1165 891 1229 888 1097 894 1304 917 1109 888 1164 884 1139 879 1329 893 1214 887 1186 909 1161 898 1216 896 1100 887 1103 743 1077 909 1165 902 1214 922 1133 939 1213 904 1094 851 1216 902 1210 885 1143 919 1214 904 1119 863 1184 869 1180 895 1165 873 1332 901 1328 893 1164 920 1215 888 1115 890 1132 902 1232 891 1215 856 1139 938 1093 860 1304 926 1253 914 1165 901 1202 911 1093 876 1079 863 1144 937 1118 912 1094 917 1117 911 1114 907 1209 876 1078 878 1113 894 1092 895 1236 896 1101 880 1089 881 1097 901 1215 883 1169 898 1101 887 1102 905 1303 889 1138 876 1132 937 1202 853 1246 901 1094 857 1186 911 1117 902 1213 891 1101 915 1094 873 1113 875 1235 880 1117 878 1210 902 1216 886 1109 836 1120 887 1078 872 1301 919 1280 919 1230 844 1102 902 1247 921 1186 915 1138 878 1093 895 1239 916 1185 887 1216 917 1273 906 1213 899 1184 909 1310 913 1306 872 1247 884 1139 880 1180 852 1132 919 1110 881 1285 918 1110 872 1128 875 1078 873 1139 916 1098 865 1310 873 1102 882 1231 882 1100 883 1310 888 1078 871 1143 916 1093 883 1160 893 1280 923 1114 903 1115 882 1117 920 1125 888 1139 849 1168 859 1102 866 1165 900 1302 920 1091 884 1214 881 1093 928 1091 894 1121 866 1149 881 1216 923 1225 847 1102 871 1091 898 1302 897 1161 920 1224 897 1305 905 1121 868 1320 878 1149 879 1101 894 1224 854 1254 904 1114 897 1186 909 1194 817 1094 861 1225 901 1139 883 1139 856 1094 929 1078 886 1078 902 1115 908 1161 916 1128 900 1161 903 1184 893 1202 903 1169 884 1224 926 1101 913 1102 889 1109 888 1310 922 1125 897 1078 894 1185 923 1179 881 1236 901 1161 906 1214 897 1148 871 1230 877 1149 924 1109 908 1157 874 1093 894 1114 899 1275 890 1185 877 1199 905 1246 905 1180 878 1093 916 1316 866 1239 899 1203 868 1210 905 1213 870 1213 876 1143 876 1098 889 1092 897 1169 893 1115 901 1128 852 1264 904 1102 889 1161 897 1328 871 1114 901 1213 920 1181 864 1133 894 1143 912 1077 871 1273 900 1097 879 1265 928 1275 935 1139 930 1119 930 1102 884 1168 917 1199 845 1119 921 1224 907 1094 895 1214 894 1093 916 1202 881 1229 908 1247 923 1230 877 1213 889 1149 933 1114 867 1097 872 1185 892 1301 911 1139 930 1110 890 1090 908 1210 872 1114 868 1181 923 1215 859 1158 897 1169 880 1090 897 1129 907 1139 867 1186 909 1149 902 1148 888 1162 925 1160 894 1113 862 1113 899 1254 896 1132 884 1158 895 1078 773 1114 868 1114 901 1101 880 1118 905 1186 914 1101 906 1158 903 1100 842 1094 861 1139 923 1128 905 1125 880 1109 907 1139 872 1163 879 1161 885 1139 930 1101 900 1118 897 1165 900 1184 888 1101 895 1185 870 1094 907 1158 891 1157 872 1216 933 1143 866 1190 779 1161 906 1137 815 1254 870 1158 882 1328 899 1186 886 1139 895 1114 877 1168 866 1198 917 1231 880 1120 885 1115 882 1165 835 1274 916 1110 922 1275 908 1148 919 1186 886 1210 918 1178 882 1184 912 1302 877 1224 895 1237 765 1101 889 1316 893 1304 880 1100 885 1139 884 1202 934 1247 894 1121 869 1148 901 1139 879 1115 888 1161 920 1202 887 1113 838 1149 873 1228 904 1186 920 1254 861 1224 912 1273 903 1240 901 1235 862 1158 887 1395 924 1129 911 1120 921 1114 890 1265 875 1230 857 1216 899 1110 867 1157 847 1213 902 1138 930 1186 912 1160 913 1279 910 1199 920 1164 899 1077 908 1181 866 1102 849 1187 910 1102 871 1202 891 1100 884 1232 913 1170 772 1164 914 1078 825 1110 912 1168 911 1254 899 1143 890 1214 891 1077 894 1213 902 1180 879 1132 914 1158 907 1214 933 1129 896 1214 925 1214 931 1224 906 1078 857 1095 915 1235 908 1402 898 1210 862 1162 899 1090 865 1139 894 1114 885 1180 892 1403 855 1209 875 1094 898 1273 912 1231 901 1230 872 1161 868 1178 916 1199 886 1210 909 1275 907 1100 912 1119 885 1115 923 1198 890 1114 860 1115 904 1210 875 1114 929 1232 933 1227 906 1301 881 1304 898 1132 900 1302 909 1178 890 1224 905 1110 868 1316 870 1213 898 1133 890 1210 859 1097 895 1128 891 1132 904 1139 920 1121 868 1198 920 1144 861 1301 881 1232 860 1265 920 1097 872 1101 853 1190 798 1162 911 1165 928 1211 865 1139 901 1092 882 1306 894 1161 858 1225 864 1210 890 1301 826 1118 894 1139 865 1178 896 1165 868 1163 867 1110 869 1143 867 1157 899 1090 909 1098 875 1113 906 1253 899 1202 845 1148 912 1128 913 1273 907 1198 866 1235 924 1254 863 1199 874 1307 887 1163 877 1113 859 1139 867 1239 898 1248 896 1202 895 1165 916 1097 879 1304 916 1078 896 1235 915 1118 857 1139 869 1239 915 1274 928 1264 902 1403 893 1164 875 1139 891 1168 899 1264 935 1263 892 1265 907 1253 908 1144 894 1199 859 1129 879 1139 912 1179 862 1128 900 1110 882 1149 903 1232 910 1139 901 1128 853 1163 928 1254 912 1284 875 1202 867 1228 901 1185 874 1214 892 1186 890 1092 917 1264 885 1138 927 1094 886 1198 872 1264 879 1149 850 1329 923 1227 904 1093 883 1168 869 1273 891 1114 897 1254 865 1185 928 1202 885 1216 883 1168 857 1273 922 1114 849 1110 884 1161 876 1165 898 1139 913 1133 910 1184 920 1119 890 1161 874 1214 930 1246 891 1100 914 1284 913 1273 895 1094 906 1190 810 1184 911 1093 892 1114 890 1214 864 1113 908 1185 861 1118 878 1101 868 1133 912 1165 905 1109 909 1161 900 1098 896 1201 901 1321 936 1161 876 1198 879 1395 892 1113 916 1132 885 1214 902 1216 880 1178 902 1149 871 1165 876 1114 900 1275 885 1224 866 1165 879 1202 886 1235 900 1148 879 1144 894 1149 872 1133 920 1093 890 1144 879 1279 876 1139 928 1078 852 1178 893 1304 879 1114 893 1186 887 1185 863 1178 907 1091 908 1097 888 1110 872 1113 882 1102 871 1213 929 1157 892 1239 921 1093 878 1210 903 1101 877 1210 891 1211 900 1149 857 1306 907 1093 894 1114 904 1264 923 1304 884 1144 898 1310 874 1149 848 1228 885 1275 913 1124 908 1144 833 1110 890 1164 913 1230 854 1110 894 1264 919 1275 902 1114 881 1149 867 1125 916 1303 917 1133 893 1224 888 1169 850 1224 875 1186 905 1254 898 1139 906 1310 921" fill="none" stroke="none" marker-start="url(#mb)" marker-mid="url(#mb)" marker-end="url(#mb)"/>
<path d="M1235 912 1118 925 1180 898 1255 929 1165 934 1109 914 1101 906 1246 895 1280 899 1100 887 1091 902 1320 884 1098 899 1093 886 1114 846 1240 924 1143 928 1181 931 1169 941 1227 896 1275 907 1101 888 1164 912 1157 891 1279 902 1128 892 1210 932 1264 877 1213 931 1202 910 1224 942 1180 890 1198 855 1089 901 1161 871 1114 910 1139 927 1264 901 1121 870 1138 862 1264 915 1098 894 1213 932 1114 915 1229 878 1246 893 1161 859 1094 909 1214 916 1101 895 1149 862 1216 891 1306 926 1120 898 1157 916 1224 921 1117 888 1247 938 1115 895 1139 922 1320 925 1215 941 1110 894 1224 876 1161 900 1117 916 1157 934 1132 926 1162 847 1078 888 1227 921 1239 898 1115 909 1090 874 1224 910 1275 894 1114 924 1164 880 1114 885 1247 915 1224 926 1109 917 1143 904 1273 906 1280 888 1215 883 1186 893 1139 909 1089 884 1214 928 1214 924 1184 915 1117 856 1077 883 1121 863 1179 905 1097 858 1165 902 1163 909 1160 913 1163 914 1138 938 1224 891 1186 896 1152 796 1114 864 1158 927 1078 851 1097 891 1279 920 1121 922 1235 909 1227 904 1214 912 1114 880 1139 883 1227 910 1224 893 1185 907 1186 901 1246 909 1214 929 1148 919 1114 870 1138 928 1181 910 1265 897 1239 895 1109 883 1202 894 1163 920 1278 902 1114 913 1094 846 1101 889 1139 920 1161 933 1304 935 1309 911 1332 874 1094 892 1302 891 1181 908 1114 879 1097 894 1210 903 1216 878 1097 905 1161 922 1095 886 1149 902 1214 888 1394 903 1214 898 1163 938 1149 939 1097 891 1143 872 1139 923 1216 920 1247 907 1213 895 1165 911 1215 889 1102 925 1110 823 1199 880 1094 925 1163 910 1254 929 1118 894 1185 906 1228 889 1115 888 1178 912 1213 889 1274 908 1332 910 1214 905 1139 873 1273 923 1090 912 1186 909 1162 873 1186 908 1395 933 1240 909 1304 886 1186 879 1114 901 1161 907 1101 864 1246 896 1168 879 1165 903 1100 913 1198 905 1164 879 1395 896 1185 920 1202 919 1143 895 1139 862 1161 842 1169 887 1109 870 1090 919 1306 853 1274 900 1158 944 1163 918 1078 894 1254 923 1109 904 1094 919 1247 897 1186 901 1304 887 1148 890 1184 900 1133 926 1225 919 1161 892 1186 908 1109 911 1198 920 1199 895 1263 903 1132 914 1186 927 1247 897 1229 921 1143 920 1093 895 1247 913 1097 871 1161 869 1215 897 1094 885 1078 906 1102 904 1163 914 1077 904 1216 908 1199 913 1118 921 1180 865 1235 873 1160 898 1094 900 1198 937 1143 912 1235 899 1224 888 1257 842 1288 914 1094 897 1229 926 1097 863 1090 879 1273 908 1118 950 1264 892 1248 869 1097 879 1163 921 1165 895 1161 904 1078 913 1139 900 1273 926 1093 895 1100 884 1101 891 1161 923 1101 900 1133 877 1229 920 1125 881 1138 917 1328 908 1110 852 1117 955 1199 850 1264 929 1239 904 1161 920 1214 897 1216 928 1185 858 1181 918 1272 885 1148 907 1094 867 1178 908 1097 888 1216 950 1143 834 1115 875 1304 894 1164 937 1305 913 1139 905 1102 906 1224 948 1097 904 1274 887 1199 928 1094 903 1138 862 1229 909 1139 902 1202 877 1165 876 1202 904 1114 884 1110 915 1161 894 1164 900 1307 882 1148 903 1202 872 1288 902 1321 922 1264 916 1247 894 1133 912 1121 874 1301 907 1094 906 1180 915 1186 899 1239 933 1198 916 1210 874 1143 923 1210 930 1078 835 1230 884 1139 923 1272 832 1165 887 1304 888 1161 894 1138 921 1115 897 1280 899 1301 885 1272 905 1216 920 1097 937 1114 894 1149 913 1094 912 1279 889 1128 880 1161 868 1129 914 1187 926 1235 895 1114 879 1149 863 1216 860 1125 866 1128 886 1214 910 1179 888 1199 900 1301 913 1264 913 1301 889 1143 877 1185 927 1213 905 1129 897 1274 913 1328 923 1139 891 1213 888 1198 878 1210 889 1178 851 1077 894 1273 880 1110 895 1157 903 1273 922 1164 905 1114 886 1169 900 1138 914 1185 874 1161 899 1310 912 1149 912 1093 907 1165 903 1139 937 1240 931 1168 890 1162 891 1227 918 1124 913 1184 899 1232 912 1102 904 1144 908 1139 919 1187 907 1169 933 1306 931 1094 912 1092 862 1113 888 1246 877 1273 925 1115 867 1114 914 1199 950 1114 865 1202 910 1279 911 1165 881 1114 890 1097 886 1321 941 1227 892 1114 919 1102 926 1110 903 1102 900 1280 881 1284 904 1306 881 1165 929 1246 868 1230 914 1225 875 1210 908 1178 919 1093 876 1202 910 1109 892 1101 873 1280 899 1225 917 1264 915 1213 885 1163 887 1235 874 1091 911 1202 794 1202 915 1094 894 1178 898 1202 900 1120 916 1214 890 1161 884 1094 935 1114 875 1164 870 1097 913 1231 913 1224 893 1231 868 1198 927 1301 902 1232 935 1214 903 1214 893 1180 897 1101 898 1169 922 1239 896 1186 887 1170 786 1158 912 1224 908 1164 913 1139 896 1101 879 1288 895 1199 911 1239 935 1093 879 1119 914 1102 901 1138 947 1114 864 1139 876" fill="none" stroke="none" marker-start="url(#mr)" marker-mid="url(#mr)" marker-end="url(#mr)"/>
<path d="M1138 856 1149 890 1093 909 1210 911 1181 894 1138 900 1187 889 1320 885 1139 883 1185 894 1129 894 1186 898 1092 899 1213 886 1231 880 1210 899 1125 910 1227 891 1179 900 1202 886 1139 916 1100 885 1169 948 1273 917 1246 875 1143 855 1331 883 1184 923 1100 887 1239 915 1235 916 1120 870 1185 866 1139 896 1272 904 1228 916 1331 887 1247 887 1115 916 1202 877 1157 936 1128 865 1236 869 1158 911 1114 882 1128 890 1280 904 1231 901 1077 874 1273 935 1139 890 1139 897 1094 906 1091 855 1129 908 1164 910 1160 900 1224 895 1278 921 1078 847 1285 891 1114 868 1171 815 1253 930 1110 905 1235 909 1114 844 1284 897 1210 889 1133 915 1129 879 1169 874 1144 854 1101 902 1254 913 1168 906 1186 878 1213 904 1094 912 1143 909 1315 891 1149 893 1138 857 1284 914 1101 899 1178 897 1214 922 1100 900 1279 929 1169 918 1118 881 1117 881 1254 903 1128 910 1227 913 1093 910 1163 906 1161 900 1149 910 1185 890 1181 892 1211 896 1184 876 1305 928 1224 921 1215 909 1161 879 1158 904 1227 863 1210 919 1102 905 1246 918 1210 913 1232 882 1165 876 1165 883 1102 903 1224 864 1178 885 1289 899 1213 894 1163 893 1161 894 1120 859 1102 871 1158 891 1232 928 1163 868 1273 891 1093 903 1235 914 1097 911 1110 914 1198 867 1114 882 1185 890 1171 807 1149 906 1254 926 1186 915 1160 869 1115 907 1161 874 1101 910 1077 887 1133 883 1129 862 1184 884 1239 900 1228 920 1094 902 1161 897 1214 878 1225 900 1187 900 1100 918 1216 861 1121 890 1304 897 1094 899 1139 937 1162 906 1276 910 1143 879 1284 882 1163 913 1101 907 1301 877 1101 939 1139 908 1181 921 1160 921 1132 857 1239 899 1210 887 1098 911 1093 890 1093 901 1210 883 1143 905 1230 853 1160 901 1164 882 1178 898 1210 914 1202 925 1148 897 1273 930 1315 900 1288 889 1118 854 1239 943 1186 873 1125 868 1210 910 1328 908 1078 862 1331 892 1216 866 1224 859 1254 924 1109 895 1180 870 1186 884 1235 919 1273 906 1186 902 1210 893 1148 896 1129 891 1077 902 1094 878 1109 892 1229 935 1138 869 1128 907 1224 897 1210 864 1144 864 1316 895 1163 872 1186 875 1139 906 1091 922 1114 866 1210 903 1178 903 1229 923 1214 895 1320 885 1213 913 1186 904 1114 889 1198 900 1280 910 1158 899 1232 932 1227 901 1161 907 1120 872 1178 893 1235 935 1202 897 1235 888 1285 891 1078 905 1210 916 1102 860 1091 920 1094 899 1143 931 1216 905 1247 894 1202 927 1202 894 1246 907 1102 895 1247 922 1102 868 1180 912 1090 880 1163 918 1101 891 1129 921 1145 820 1181 873 1090 905 1229 934 1161 860 1214 891 1168 954 1139 869 1305 899 1395 908 1101 905 1186 902 1185 943 1163 882 1078 932 1224 920 1139 894 1288 894 1202 934 1114 892 1149 880 1120 927 1224 886 1272 905 1128 817 1309 895 1093 887 1077 899 1139 889 1235 939 1180 881 1139 947 1186 895 1089 873 1184 912 1093 881 1149 916 1165 934 1202 915 1165 889 1315 922 1128 908 1101 866 1210 894 1164 852 1168 885 1114 881 1186 902 1100 917 1094 889 1101 906 1305 933 1239 881 1199 925 1092 872 1178 927 1198 851 1119 921 1113 857 1094 907 1114 847 1139 855 1138 923 1102 922 1186 934 1316 903 1165 889 1199 890 1101 928 1110 863 1202 909 1215 896 1213 889 1163 885 1214 914 1280 923 1163 933 1129 894 1102 898 1247 918 1264 926 1214 921 1202 874 1120 904 1114 885 1115 876 1304 903 1239 891 1181 837 1302 876 1178 907 1143 872 1198 937 1132 894 1185 883 1230 933 1139 865 1109 892 1288 919 1169 896 1178 909 1162 927 1310 926 1213 877 1160 923 1216 860 1139 929 1215 902 1235 897 1180 913 1127 951 1332 884 1144 876 1101 889 1198 915 1161 867 1109 890 1285 907 1316 877 1168 868 1264 887 1263 916 1180 887 1118 891 1198 904 1274 898 1254 921 1180 931 1198 861 1284 902 1209 923 1118 896 1199 938 1186 920 1168 873 1090 878 1247 918 1163 884 1090 915 1186 917 1094 887 1164 865 1165 916 1232 926 1078 901 1199 912 1148 920 1180 910 1121 893 1163 855 1279 893 1110 896 1225 869 1103 763 1093 871 1202 910 1144 938 1316 902 1101 869 1101 853 1198 907 1161 895 1143 917 1246 874 1246 923 1163 889 1264 911 1102 847 1180 904 1402 889 1403 845 1119 923 1095 907 1315 903 1094 897 1149 887 1184 881 1169 902 1230 909 1210 902 1225 898 1143 864 1118 930 1161 909 1139 903 1169 912 1132 881 1149 880 1092 913 1077 888 1247 932 1259 796 1139 894 1125 859 1216 899 1094 863 1213 905 1180 877 1109 898 1110 882 1163 861 1133 927 1264 917 1114 873 1198 911 1102 898 1089 905 1110 873 1288 902 1224 879 1094 920 1395 901 1114 900 1214 917 1274 907 1097 936 1246 859 1133 919 1186 894 1098 848 1118 931 1216 917 1093 925 1128 882 1185 899 1279 929 1216 901 1109 902 1186 878 1077 872 1161 908 1199 850 1078 869 1161 902 1109 894 1331 893 1227 926 1236 916 1185 856 1120 919 1101 886 1232 913 1125 909 1090 909 1133 863 1310 919 1138 929 1321 907 1198 893 1139 909 1178 891 1210 865 1077 926 1239 947 1185 888 1180 876 1216 861 1109 901 1230 899 1213 873 1139 907 1119 892 1110 867 1132 929 1129 912 1214 892 1305 894 1120 900 1247 894 1246 935 1186 887 1162 878 1227 909 1239 884 1210 927 1138 903 1224 901 1078 888 1246 864 1305 912 1303 874 1139 886 1165 935 1102 899 1186 892 1180 926 1149 857 1101 924 1303 896 1100 901 1275 886 1114 885 1213 906 1214 902 1186 900 1165 866 1232 896 1332 906 1157 905 1225 845 1120 920 1114 939 1310 905 1214 897 1097 905 1101 877 1158 907 1129 875 1110 866 1224 893 1113 884 1097 900 1163 902 1273 909 1093 919 1114 902 1264 886 1093 882 1138 874 1094 888 1093 901 1178 889 1090 904 1235 924 1215 907 1139 913 1157 880 1224 936 1229 909 1115 857 1199 865 1253 870 1078 899 1199 856 1139 848 1273 885 1149 912 1109 856 1094 850 1214 922 1109 873 1232 904 1158 906 1101 883 1139 875 1316 865 1227 882 1224 910 1202 876 1180 908 1190 790 1186 919 1114 901 1225 936 1161 901 1097 901 1304 899 1178 909 1168 897 1098 903 1273 928 1097 861 1101 865 1149 896 1272 922 1144 903 1113 893 1216 935 1224 934 1160 890 1229 903 1102 831 1215 937 1101 915 1157 941 1202 896 1101 846 1285 914 1110 881 1101 902 1214 912 1254 916 1163 862 1227 882 1112 833 1109 938 1247 904 1236 894 1093 892 1148 894 1124 915 1216 890 1185 908 1114 897 1202 941 1246 908 1093 903 1169 864 1185 913 1093 918 1247 886 1253 897 1095 918 1232 858 1097 891 1144 856 1273 908 1246 915 1232 896 1139 925 1132 924" fill="none" stroke="none" marker-start="url(#mg)" marker-mid="url(#mg)" marker-end="url(#mg)"/>
<path d="M1110 887 1097 866 1133 891 1213 908 1098 869 1224 897 1239 921 1093 886 1395 915 1235 907 1132 896 1216 876 1132 906 1202 900 1114 900 1094 862 1102 876 1304 906 1216 909 1203 882 1213 927 1128 905 1077 838 1129 928 1273 902 1161 911 1232 917 1316 875 1157 898 1113 882 1289 906 1168 925 1214 903 1115 896 1124 929 1115 924 1210 938 1228 908 1181 908 1165 900 1306 853 1113 879 1186 892 1139 917 1109 900 1102 850 1185 900 1309 908 1148 895 1178 884 1224 867 1091 904 1316 900 1184 868 1094 888 1180 894 1093 856 1239 888 1247 881 1114 922 1113 921 1180 899 1264 919 1160 874 1213 894 1186 923 1214 897 1161 911 1214 794 1215 894 1210 934 1091 868 1139 838 1077 863 1090 908 1163 893 1097 877 1186 894 1254 928 1201 905 1091 876 1224 864 1232 931 1078 849 1097 870 1275 907 1101 907 1186 872 1101 898 1163 893 1097 883 1227 942 1133 861 1186 933 1163 929 1303 867 1285 915 1129 934 1164 934 1102 843 1161 881 1129 884 1077 910 1180 878 1119 911 1263 914 1199 914 1133 859 1092 904 1186 915 1129 870 1216 880 1306 902 1184 912 1109 866 1157 878 1093 879 1274 907 1278 908 1162 875 1114 860 1224 875 1169 911 1114 886 1304 905 1232 890 1232 901 1158 903 1216 854 1091 904 1229 868 1101 921 1215 906 1202 892 1224 901 1110 808 1198 887 1078 866 1163 899 1224 891 1094 890 1227 893 1186 875 1247 884 1202 895 1185 931 1186 888 1144 885 1139 878 1254 909 1179 920 1114 860 1394 926 1161 843 1114 895 1235 903 1235 890 1247 903 1247 919 1165 895 1303 918 1093 890 1178 859 1126 759 1114 905 1214 862 1186 883 1273 913 1128 921 1285 901 1224 913 1225 888 1114 912 1101 917 1288 895 1092 861 1110 926 1394 889 1117 898 1160 914 1114 874 1094 906 1113 895 1186 896 1248 817 1160 887 1229 842 1128 903 1247 898 1078 902 1078 910 1110 848 1101 886 1078 867 1148 907 1303 860 1158 892 1091 868 1097 845 1094 920 1079 890 1273 905 1168 889 1230 895 1178 907 1097 899 1094 886 1168 882 1179 895 1332 882 1128 898 1109 925 1246 909 1163 927 1164 897 1190 769 1133 900 1115 864 1120 894 1181 898 1168 877 1078 888 1165 848 1102 891 1214 909 1168 852 1118 883 1163 909 1119 854 1114 910 1117 899 1163 886 1303 871 1214 905 1404 903 1210 908 1094 866 1114 872 1161 885 1114 915 1078 898 1321 859 1114 907 1168 904 1139 859 1213 857 1114 904 1101 854 1303 866 1101 889 1235 886 1201 881 1129 901 1161 887 1186 891 1180 895 1186 899 1077 889 1110 919 1093 880 1165 877 1303 901 1181 900 1161 893 1143 925 1101 869 1180 882 1199 831 1254 900 1165 864 1100 830 1229 930 1165 861 1139 868 1301 871 1078 867 1169 799 1239 918 1094 917 1163 891 1128 929 1264 916 1090 903 1180 890 1114 898 1114 890 1273 880 1224 874 1139 921 1310 891 1228 912 1102 948 1161 901 1119 897 1161 900 1102 888 1110 848 1254 911 1186 909 1168 904 1160 924 1210 874 1077 891 1115 894 1139 906 1214 938 1109 898 1273 919 1184 864 1164 924 1254 875 1230 920 1120 912 1164 856 1232 917 1235 889 1186 888 1093 908 1202 911 1158 891 1278 925 1132 858 1161 884 1239 909 1302 891 1094 869 1093 900 1253 909 1235 909 1101 899 1163 902 1198 877 1113 897 1114 921 1284 909 1161 904 1285 886 1165 863 1110 913 1129 937 1110 899 1285 911 1179 918 1273 882 1114 915 1110 919 1186 859 1114 884 1201 905 1114 876 1097 919 1204 824 1180 864 1186 904 1181 853 1148 911 1227 879 1163 896 1232 909 1158 862 1114 924 1229 885 1118 920 1165 880 1162 876 1213 920 1315 912 1273 914 1253 902 1213 873 1110 873 1165 910 1278 876 1184 890 1239 901 1214 898 1113 889 1100 883 1186 874 1168 877 1240 899 1149 914 1093 884 1113 916 1139 917 1168 874 1315 909 1213 885 1273 916 1199 853 1235 909 1163 870 1139 845 1186 866 1178 903 1114 916 1098 877 1110 912 1288 927 1115 880 1132 879 1199 908 1185 886 1139 912 1100 896 1157 926 1214 766 1133 919 1158 883 1094 870 1280 917 1329 915 1125 905 1239 876 1129 929 1100 907 1094 900 1246 910 1184 901 1216 913 1118 882 1100 895 1161 896 1094 890 1168 881 1273 891 1302 919 1220 816 1133 891 1198 917 1168 871 1307 920 1178 868 1169 881 1302 864 1165 893 1164 895 1161 896 1214 790 1078 922 1178 876 1128 905 1302 895 1114 869 1202 910 1133 874 1090 877 1278 887 1114 894 1165 847 1097 920 1186 897 1148 889 1273 927 1161 906 1165 897 1232 905 1143 911 1280 925 1160 900 1094 907 1213 867 1328 886 1115 889 1289 902 1161 878 1143 892 1093 844 1149 845 1202 863 1216 925 1209 883 1321 929 1181 867 1113 883 1119 912 1210 895 1210 907 1078 844 1093 883 1164 910 1306 925 1157 925 1214 896 1213 865 1161 857 1186 889 1180 899 1157 862 1100 903 1198 889 1118 897 1157 902 1165 939 1101 879 1185 910 1101 921 1139 877 1288 898 1169 931 1117 879 1097 848 1094 869 1225 870 1157 870 1229 863 1094 888 1239 861 1165 910 1187 868 1227 923 1097 862 1232 909 1143 870 1129 852 1162 881 1161 835 1216 920 1178 914 1163 910 1216 890 1216 909 1224 930 1264 897 1274 886 1254 893 1202 904 1101 909 1214 906 1306 888 1213 897 1109 861 1274 930 1210 925 1094 893 1232 769 1157 928 1097 893 1253 921 1304 914 1109 859 1273 933 1240 858 1302 877 1180 883 1178 879 1235 912 1224 866 1078 876 1102 889 1139 848 1139 907 1180 897 1133 916 1139 863 1246 902 1149 888 1198 855 1168 893 1180 896 1097 854 1139 903 1138 903 1120 914 1078 921 1264 929 1114 856 1077 884 1328 838 1161 908 1161 894 1109 933 1232 900 1179 896 1133 916 1109 909 1101 859 1139 885 1186 881 1149 893 1254 876 1143 899 1129 882 1264 912 1232 884 1143 861 1161 920 1202 906 1274 930 1164 880 1161 890 1133 915 1181 886 1103 731 1157 922 1110 855 1158 928 1143 876 1253 921 1143 900 1161 891 1148 875 1121 863 1178 879 1100 916 1305 924 1144 876 1213 890 1247 875 1132 904 1273 922 1199 886 1186 902 1133 893 1118 898 1143 872 1148 897 1149 896 1187 906 1275 899 1302 897 1101 906 1161 867 1316 864 1077 849 1114 889 1284 889 1077 865 1120 873 1133 923 1168 902 1078 875 1163 891 1148 895 1094 890 1329 863 1227 895 1279 937 1164 892 1284 879 1185 896 1149 874 1278 893 1180 907 1090 904 1181 884 1215 931 1138 914 1139 925 1118 909 1186 880 1100 870 1275 889 1247 908 1115 854 1132 789 1216 921 1078 866 1097 899 1215 894 1114 890 1198 932 1306 908 1289 881 1299 823 1186 917 1132 911 1239 908 1133 815 1098 853 1093 870 1254 856 1149 934 1118 884 1119 873 1102 880 1139 902 1148 907 1138 855 1163 865 1187 893 1093 902 1118 908 1225 898 1091 867 1168 909 1224 901 1097 874 1138 911 1100 880 1144 858 1254 925 1162 902 1093 870 1117 876 1094 883 1093 900 1128 906 1133 871 1102 894 1120 922 1143 901 1128 897 1102 883 1161 874 1160 918 1247 906 1275 885 1307 922 1309 915 1213 934 1180 890 1162 877 1113 868 1139 907 1224 896 1161 914 1254 905 1304 917 1161 887 1272 902 1201 902 1210 911 1210 927 1235 895 1115 868 1114 875 1102 901 1100 901 1149 859 1178 901 1394 918 1284 895 1114 915 1198 862 1213 856 1161 850 1132 890 1100 919 1132 929 1214 831 1133 889 1273 833 1120 811 1101 909 1224 839 1161 902 1180 879 1093 899 1092 862 1186 854 1133 939 1214 902 1109 896 1114 889 1310 894 1138 916 1101 884 1304 910 1118 918 1094 917 1161 905 1094 903 1139 874 1209 909 1128 850 1274 930 1089 903 1228 905 1307 905 1332 917 1209 905 1133 911 1113 901 1158 918 1100 813 1110 880 1227 898 1198 881 1161 916 1143 857 1118 857 1306 924 1198 900 1199 913 1129 900 1254 911 1101 893 1091 868 1115 900 1093 896 1103 775 1315 923 1321 896 1077 906 1280 897 1214 896 1114 867 1119 898 1161 895 1093 903 1139 919 1186 910 1264 881 1165 868 1186 854 1232 872 1232 881 1225 913 1114 855 1239 925 1163 876 1304 896 1304 908 1186 926 1109 908 1138 914 1117 899 1125 884 1144 896 1165 882 1102 916 1235 925 1273 916 1254 860 1163 930 1231 920 1097 854 1224 898 1144 878 1186 847 1078 888 1198 901 1185 864 1186 914 1102 902 1216 895 1214 899 1307 907 1184 872 1101 882 1213 854 1133 866 1254 881 1101 911 1138 937 1214 907 1305 883 1129 890 1144 946 1114 880 1090 904 1118 864 1093 897 1148 914 1275 904 1139 915 1180 858 1163 919 1199 884 1133 902 1310 906 1180 905 1139 906 1304 859 1169 908 1230 915 1227 883 1253 888 1101 874 1225 898 1144 917 1125 849 1128 863 1198 900 1154 943 1161 857 1119 893 1214 891 1165 888 1124 897 1304 896 1289 893 1078 893 1304 909 1186 877 1202 863 1165 884 1215 900 1304 930 1139 887 1169 901 1209 868 1275 891 1102 881 1115 858 1097 862 1170 696 1119 907 1185 884 1229 918 1093 919 1101 874 1180 887 1158 910 1274 889 1213 887 1229 897 1253 909 1164 884 1231 931 1143 877 1125 940 1227 900 1161 879 1274 887 1210 852 1132 872 1158 931 1184 866 1133 892 1097 865 1114 921 1303 907 1235 878 1215 871 1179 885 1264 913 1216 903 1110 908 1094 904 1128 897 1097 928 1125 879 1228 885 1100 922 1162 925 1114 881 1097 887 1186 894 1247 913 1273 913 1125 910 1215 851 1143 918 1094 851 1230 881 1109 904 1078 898 1143 923 1328 898 1114 858 1169 897 1169 917 1278 888 1143 902 1078 859 1168 866 1113 926 1102 894 1158 919 1128 882 1395 907 1247 886 1102 879 1132 881 1139 839 1100 925 1091 860 1133 845 1132 882 1168 895 1229 892 1178 865 1273 876 1230 912 1133 903 1100 911 1265 913 1094 870 1235 908 1143 861 1274 900 1148 898 1163 900 1161 855 1170 775 1224 921 1213 876 1098 866 1101 870 1272 910 1310 903 1280 897 1162 895 1254 889 1216 908 1089 863 1232 890 1164 859 1225 890 1110 877 1240 884 1239 869 1310 910 1102 896 1114 890 1100 907 1094 916 1254 884 1395 900 1115 875 1185 893 1307 887 1181 855 1114 881 1144 908 1210 914 1185 931 1214 870 1157 857 1164 911 1114 869 1114 882 1301 900 1115 864 1185 921 1180 863 1225 894 1224 903 1178 901 1239 871 1149 919 1094 907 1160 910 1321 866 1093 898 1149 882 1097 865 1124 867 1254 907 1285 917 1288 892 1201 885 1186 889 1168 865 1092 848 1161 870 1165 925 1078 871 1101 869 1216 909 1198 856 1189 838 1305 891 1138 865 1272 925 1139 916 1168 894 1288 844 1115 886 1246 897 1078 892 1118 913 1139 906 1093 850 1284 910 1125 912 1214 914 1225 885 1185 889 1186 904 1113 883 1214 920 1149 886 1128 864 1184 884 1247 937 1128 934 1214 848 1118 872 1229 890 1129 853 1115 905 1184 859 1210 913 1101 900 1186 849 1078 851 1093 900 1125 901 1254 920 1144 895 1331 903 1148 871 1279 892 1178 923 1229 900 1148 921 1097 859 1264 906 1181 917 1202 893 1091 888 1157 917 1332 881 1264 892 1160 899 1161 853 1109 863 1161 864 1117 872 1133 878 1169 930 1168 917 1118 890 1214 896 1157 869 1128 923 1114 879 1210 900 1092 892 1273 894 1254 904 1097 895 1139 854 1240 935 1149 902 1101 905 1101 880 1125 867 1100 919 1214 877 1162 896 1254 864 1093 910 1213 893 1114 895 1110 880 1139 907 1231 885 1161 862 1232 899 1121 865 1161 911 1185 927 1163 884 1114 901 1239 908 1213 894 1187 872 1161 911 1161 894 1304 885 1143 882 1094 882 1214 897 1149 878 1228 891 1235 876 1119 920 1288 864 1211 910 1210 882 1247 916 1164 890 1094 906 1094 911 1097 896 1202 890 1101 891 1307 892 1215 889 1199 915 1162 858 1117 880 1247 910 1114 872 1113 908 1121 920 1284 891 1133 945 1093 869 1133 903 1235 935 1224 888 1202 871 1278 894 1161 895 1125 885 1186 885 1305 905 1254 917 1315 895 1179 898 1178 853 1180 880 1186 863 1128 848 1210 889 1264 888 1158 902 1304 885 1199 917 1186 872 1202 885 1214 904 1093 917 1224 917 1157 914 1224 882 1225 902 1246 899 1133 860 1169 907 1100 877 1161 933 1101 872 1077 897 1224 877 1214 862 1094 858 1224 908 1089 875 1224 904 1149 915 1254 907 1157 859 1101 860 1144 902 1230 910 1231 891 1163 887 1109 878 1101 909 1214 933 1254 912 1168 868 1094 894 1135 941 1199 911 1164 899 1178 879 1092 878 1163 873 1185 919 1164 877 1232 910 1169 940 1093 904 1165 877 1139 880 1109 899 1215 879 1273 892 1102 907 1139 863 1169 855 1158 876 1093 848 1235 900 1215 917 1181 871 1165 904 1102 887 1227 878 1093 850 1186 912 1163 894 1316 908 1170 780 1168 904 1246 895 1114 868 1264 899 1114 882 1143 871 1199 873 1210 918 1143 903 1275 899 1163 875 1180 912 1128 921 1118 911 1210 915 1097 845 1304 899 1213 888 1144 873 1140 898 1202 899 1209 895 1235 927 1143 857 1119 898 1110 884 1114 901 1181 880 1181 920 1143 926 1306 890 1180 862 1301 905 1178 872 1164 890 1128 904 1227 891 1128 920 1157 903 1213 895 1199 915 1120 906 1161 900 1109 875 1304 887 1098 890 1181 893 1247 908 1164 917 1279 909 1162 892 1214 881 1114 875 1331 884 1184 900 1165 905 1227 914 1144 901 1132 920 1264 932 1264 892 1224 899 1181 903 1304 873 1100 875 1143 902 1309 891 1110 860 1139 890 1210 913 1162 869 1102 900 1132 932 1210 904 1090 869 1198 889 1102 875 1144 851 1117 873 1079 855 1264 910 1090 924 1128 907 1113 847 1114 874 1285 898 1227 921 1235 890 1113 925 1216 876 1133 907 1078 879 1235 917 1178 923 1110 893 1093 887 1225 900 1215 916 1229 912 1274 903 1164 912 1161 892 1230 934 1285 913 1101 878 1164 895 1236 910 1141 950 1198 914 1139 851 1168 890 1185 884 1210 881 1094 906 1129 907 1213 898 1214 915 1100 886 1164 929 1119 916 1120 910 1114 847 1247 899 1102 917 1090 883 1198 923 1171 802 1186 886 1302 888 1113 891 1094 860 1179 899 1186 872 1161 875 1161 878 1077 849 1273 880 1210 948 1138 916 1102 874 1113 919 1115 928 1216 912 1236 921 1186 889 1185 891 1213 916 1109 865 1144 936 1178 913 1077 875 1328 898 1114 914 1275 905 1213 924 1158 880 1163 899 1264 908 1214 909 1272 824 1186 866 1114 887 1120 886 1114 867 1216 917 1181 895 1139 887 1110 883 1303 900 1161 904 1128 881 1093 915 1163 857 1168 850 1128 911 1214 917 1114 880 1078 820 1214 928 1394 893 1120 934 1185 907 1128 912 1185 908 1225 894 1115 853 1129 903 1199 893 1101 859 1164 890 1101 904 1144 871 1102 882 1227 905 1199 920 1110 899 1128 902 1160 876 1138 908 1198 890 1094 888 1149 886 1274 908 1309 912 1148 908 1274 904 1078 850 1301 911 1202 868 1202 906 1288 871 1235 916 1228 881 1246 908 1274 906 1129 901 1232 891 1214 913 1090 879 1102 883 1090 899 1138 897 1181 882 1102 835 1093 892 1202 941 1178 867 1273 911 1114 887 1184 885 1224 934 1178 900 1214 906 1109 894 1328 892 1164 888 1273 891 1186 867 1094 911 1078 860 1186 858 1229 916 1321 915 1215 911 1093 907 1117 901 1305 884 1210 913 1162 848 1273 905 1097 890 1186 888 1097 906 1185 848 1235 912 1214 906 1232 931 1110 852 1170 823 1143 880 1213 913 1187 892 1139 914 1273 914 1227 902 1307 887 1109 863 1224 890 1133 937 1216 909 1110 870 1114 871 1114 864 1139 908 1274 917 1164 897 1133 895 1094 896 1115 921 1094 870 1178 897 1186 870 1139 897 1139 909 1143 925 1114 871 1139 852 1161 881 1114 844 1114 923 1101 897 1394 914 1264 912 1165 862 1157 848 1102 913 1093 850 1110 870 1090 914 1094 875 1149 888 1254 865 1230 924 1110 891 1178 906 1089 884 1078 883 1178 892 1128 894 1162 852 1186 856 1328 884 1202 890 1224 883 1113 838 1163 864 1164 912 1235 892 1092 893 1091 907 1205 837 1320 898 1097 868 1236 864" fill="none" stroke="none" marker-start="url(#mb)" marker-mid="url(#mb)" marker-end="url(#mb)"/>
</g>
<line x1="1078.1" y1="897" x2="1402.7" y2="904.1" stroke="#F0554C" stroke-width="5.2"/>
<line x1="1078.1" y1="894.1" x2="1402.7" y2="900.3" stroke="#16A82C" stroke-width="5.2"/>
<line x1="1078.1" y1="883.6" x2="1402.7" y2="889.5" stroke="#4E82EE" stroke-width="5.2"/>
<rect x="986.1" y="568.8" width="436.4" height="411.2" fill="none" stroke="#333" stroke-width="1.1"/>
<text transform="translate(1059.1,619.2) scale(1,1.045)" x="0" y="0" style="font-family:'Liberation Sans',sans-serif" font-size="28.3" text-anchor="middle" fill="#000">r<tspan dx="7">=</tspan><tspan dx="7">−0.04</tspan></text>
<line x1="1098.9" y1="980" x2="1098.9" y2="983.6" stroke="#333" stroke-width="1.1"/>
<text transform="translate(1098.9,1009.0) scale(1,1.045)" x="0" y="0" style="font-family:'Liberation Sans',sans-serif" font-size="30.3" text-anchor="middle" fill="#222">2.0</text>
<line x1="1225.8" y1="980" x2="1225.8" y2="983.6" stroke="#333" stroke-width="1.1"/>
<text transform="translate(1225.8,1009.0) scale(1,1.045)" x="0" y="0" style="font-family:'Liberation Sans',sans-serif" font-size="30.3" text-anchor="middle" fill="#222">2.5</text>
<line x1="1352.7" y1="980" x2="1352.7" y2="983.6" stroke="#333" stroke-width="1.1"/>
<text transform="translate(1352.7,1009.0) scale(1,1.045)" x="0" y="0" style="font-family:'Liberation Sans',sans-serif" font-size="30.3" text-anchor="middle" fill="#222">3.0</text>
<text transform="translate(760.1,1037.6) scale(1,1.045)" x="0" y="0" style="font-family:'Liberation Sans',sans-serif" font-size="30.4" text-anchor="middle" fill="#000">log(TRI-PHONE SURPRISAL)</text>
<text transform="translate(29,547.7) rotate(-90) scale(1,1.045)" x="0" y="0" style="font-family:'Liberation Sans',sans-serif" font-size="30.4" text-anchor="middle" fill="#000">SEGMENT DURATION (msec.)</text>
<line x1="545.0" y1="25.2" x2="580.0" y2="25.2" stroke="#F0554C" stroke-width="5.2"/>
<circle cx="562.5" cy="25.2" r="8.7" fill="none" stroke="#F0554C" stroke-width="1.3"/>
<text transform="translate(588.8,36.6) scale(1,1.045)" x="0" y="0" style="font-family:'Liberation Sans',sans-serif" font-size="30.3" fill="#000">fast</text>
<line x1="648.2" y1="25.2" x2="683.2" y2="25.2" stroke="#16A82C" stroke-width="5.2"/>
<circle cx="665.7" cy="25.2" r="8.7" fill="none" stroke="#16A82C" stroke-width="1.3"/>
<text transform="translate(692.8,36.6) scale(1,1.045)" x="0" y="0" style="font-family:'Liberation Sans',sans-serif" font-size="30.3" fill="#000">normal</text>
<line x1="795.2" y1="25.2" x2="830.2" y2="25.2" stroke="#4E82EE" stroke-width="5.2"/>
<circle cx="812.7" cy="25.2" r="8.7" fill="none" stroke="#4E82EE" stroke-width="1.3"/>
<text transform="translate(839.1,36.6) scale(1,1.045)" x="0" y="0" style="font-family:'Liberation Sans',sans-serif" font-size="30.3" fill="#000">slow</text>
</svg></body></html>
